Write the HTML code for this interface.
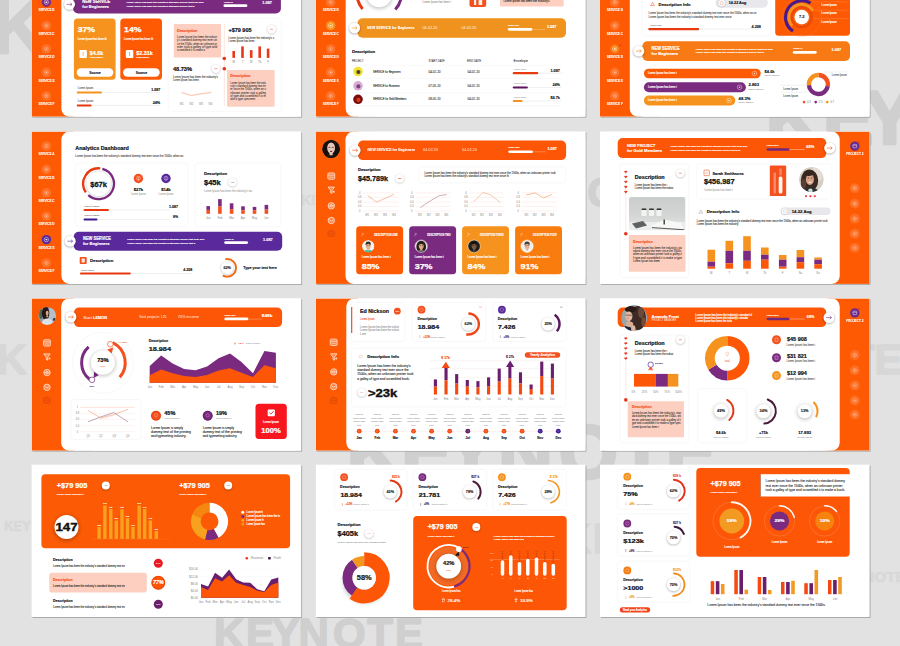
<!DOCTYPE html>
<html><head><meta charset="utf-8"><title>Dashboard slides</title>
<style>html,body{margin:0;padding:0;background:#e2e2e2;overflow:hidden}svg{display:block;font-family:"Liberation Sans",sans-serif}</style></head>
<body>
<svg width="900" height="646" viewBox="0 0 900 646">
<defs><filter id="bS" x="-50%" y="-50%" width="200%" height="200%"><feGaussianBlur stdDeviation="0.9"/></filter><filter id="bL" x="-50%" y="-50%" width="200%" height="200%"><feGaussianBlur stdDeviation="2"/></filter><filter id="bX" x="-50%" y="-50%" width="200%" height="200%"><feGaussianBlur stdDeviation="0.45"/></filter></defs>
<text x="-8.4" y="52.5" font-size="76.8" fill="#cfcfcf" font-weight="700" stroke="#cfcfcf" stroke-width="2.61" stroke-linejoin="round">K</text>
<text x="765.4" y="144" font-size="76.8" fill="#cfcfcf" font-weight="700" stroke="#cfcfcf" stroke-width="2.61" stroke-linejoin="round">K</text>
<text x="822.4" y="144" font-size="76.8" fill="#cfcfcf" font-weight="700" stroke="#cfcfcf" stroke-width="2.61" stroke-linejoin="round">E</text>
<text x="889.7" y="144" font-size="76.8" fill="#cfcfcf" text-anchor="middle" font-weight="700" stroke="#cfcfcf" stroke-width="2.61" stroke-linejoin="round">Y</text>
<text x="346.6" y="478" font-size="76.8" fill="#cfcfcf" font-weight="700" stroke="#cfcfcf" stroke-width="2.61" stroke-linejoin="round">K</text>
<text x="401.1" y="478" font-size="76.8" fill="#cfcfcf" font-weight="700" stroke="#cfcfcf" stroke-width="2.61" stroke-linejoin="round">E</text>
<text x="471" y="478" font-size="76.8" fill="#cfcfcf" text-anchor="middle" font-weight="700" stroke="#cfcfcf" stroke-width="2.61" stroke-linejoin="round">Y</text>
<text x="497.7" y="478" font-size="76.8" fill="#cfcfcf" font-weight="700" stroke="#cfcfcf" stroke-width="2.61" stroke-linejoin="round">N</text>
<text x="588.3" y="478" font-size="76.8" fill="#cfcfcf" text-anchor="middle" font-weight="700" stroke="#cfcfcf" stroke-width="2.61" stroke-linejoin="round">O</text>
<text x="641.6" y="478" font-size="76.8" fill="#cfcfcf" text-anchor="middle" font-weight="700" stroke="#cfcfcf" stroke-width="2.61" stroke-linejoin="round">T</text>
<text x="665.4" y="478" font-size="76.8" fill="#cfcfcf" font-weight="700" stroke="#cfcfcf" stroke-width="2.61" stroke-linejoin="round">E</text>
<text x="-3.6" y="374" font-size="42" fill="#d7d7d7" font-weight="700" stroke="#d7d7d7" stroke-width="1.43" stroke-linejoin="round">K</text>
<text x="849.2" y="374.1" font-size="42" fill="#d7d7d7" font-weight="700" stroke="#d7d7d7" stroke-width="1.43" stroke-linejoin="round">T</text>
<text x="874.5" y="374.1" font-size="42" fill="#d7d7d7" font-weight="700" stroke="#d7d7d7" stroke-width="1.43" stroke-linejoin="round">E</text>
<text x="587.3" y="206.5" font-size="42" fill="#d0d0d0" font-weight="700" stroke="#d0d0d0" stroke-width="1.43" stroke-linejoin="round">O</text>
<text x="214.1" y="648.3" font-size="42" fill="#cfcfcf" font-weight="700" stroke="#cfcfcf" stroke-width="1.43" stroke-linejoin="round">K</text>
<text x="245.9" y="648.3" font-size="42" fill="#cfcfcf" font-weight="700" stroke="#cfcfcf" stroke-width="1.43" stroke-linejoin="round">E</text>
<text x="285.7" y="648.3" font-size="42" fill="#cfcfcf" text-anchor="middle" font-weight="700" stroke="#cfcfcf" stroke-width="1.43" stroke-linejoin="round">Y</text>
<text x="298.5" y="648.3" font-size="42" fill="#cfcfcf" font-weight="700" stroke="#cfcfcf" stroke-width="1.43" stroke-linejoin="round">N</text>
<text x="349.3" y="648.3" font-size="42" fill="#cfcfcf" text-anchor="middle" font-weight="700" stroke="#cfcfcf" stroke-width="1.43" stroke-linejoin="round">O</text>
<text x="380" y="648.3" font-size="42" fill="#cfcfcf" text-anchor="middle" font-weight="700" stroke="#cfcfcf" stroke-width="1.43" stroke-linejoin="round">T</text>
<text x="395.1" y="648.3" font-size="42" fill="#cfcfcf" font-weight="700" stroke="#cfcfcf" stroke-width="1.43" stroke-linejoin="round">E</text>
<text x="561.1" y="552.9" font-size="42" fill="#d7d7d7" font-weight="700" stroke="#d7d7d7" stroke-width="1.43" stroke-linejoin="round">K</text>
<text x="592.9" y="552.9" font-size="42" fill="#d7d7d7" font-weight="700" stroke="#d7d7d7" stroke-width="1.43" stroke-linejoin="round">E</text>
<text x="4.3" y="531" font-size="15.2" fill="#d8d8d8" font-weight="700" stroke="#d8d8d8" stroke-width="0.53" textLength="26.5" lengthAdjust="spacingAndGlyphs">KEY</text>
<text x="301.2" y="204.5" font-size="15.2" fill="#d8d8d8" font-weight="700" stroke="#d8d8d8" stroke-width="0.53" textLength="28" lengthAdjust="spacingAndGlyphs">KEY</text>
<text x="863.5" y="582.1" font-size="15.2" fill="#d8d8d8" font-weight="700" stroke="#d8d8d8" stroke-width="0.53">NOTE</text>
<rect x="32.5" y="-34.7" width="269.6" height="152.3" fill="#8e8e8e" opacity="0.75" filter="url(#bX)"/>
<rect x="31.6" y="-35.6" width="269.6" height="152.3" fill="#fff"/>
<rect x="316.8" y="-34.7" width="269.6" height="152.3" fill="#8e8e8e" opacity="0.75" filter="url(#bX)"/>
<rect x="315.9" y="-35.6" width="269.6" height="152.3" fill="#fff"/>
<rect x="600.9" y="-34.7" width="269.6" height="152.3" fill="#8e8e8e" opacity="0.75" filter="url(#bX)"/>
<rect x="600" y="-35.6" width="269.6" height="152.3" fill="#fff"/>
<rect x="32.5" y="132.5" width="269.6" height="152.3" fill="#8e8e8e" opacity="0.75" filter="url(#bX)"/>
<rect x="31.6" y="131.6" width="269.6" height="152.3" fill="#fff"/>
<rect x="316.8" y="132.5" width="269.6" height="152.3" fill="#8e8e8e" opacity="0.75" filter="url(#bX)"/>
<rect x="315.9" y="131.6" width="269.6" height="152.3" fill="#fff"/>
<rect x="600.9" y="132.5" width="269.6" height="152.3" fill="#8e8e8e" opacity="0.75" filter="url(#bX)"/>
<rect x="600" y="131.6" width="269.6" height="152.3" fill="#fff"/>
<rect x="32.5" y="299.3" width="269.6" height="152.3" fill="#8e8e8e" opacity="0.75" filter="url(#bX)"/>
<rect x="31.6" y="298.4" width="269.6" height="152.3" fill="#fff"/>
<rect x="316.8" y="299.3" width="269.6" height="152.3" fill="#8e8e8e" opacity="0.75" filter="url(#bX)"/>
<rect x="315.9" y="298.4" width="269.6" height="152.3" fill="#fff"/>
<rect x="600.9" y="299.3" width="269.6" height="152.3" fill="#8e8e8e" opacity="0.75" filter="url(#bX)"/>
<rect x="600" y="298.4" width="269.6" height="152.3" fill="#fff"/>
<rect x="32.5" y="465.6" width="269.6" height="152.3" fill="#8e8e8e" opacity="0.75" filter="url(#bX)"/>
<rect x="31.6" y="464.7" width="269.6" height="152.3" fill="#fff"/>
<rect x="316.8" y="465.6" width="269.6" height="152.3" fill="#8e8e8e" opacity="0.75" filter="url(#bX)"/>
<rect x="315.9" y="464.7" width="269.6" height="152.3" fill="#fff"/>
<rect x="600.9" y="465.6" width="269.6" height="152.3" fill="#8e8e8e" opacity="0.75" filter="url(#bX)"/>
<rect x="600" y="464.7" width="269.6" height="152.3" fill="#fff"/>
<clipPath id="cc00"><rect x="31.6" y="-35.6" width="269.6" height="152.3"/></clipPath>
<g clip-path="url(#cc00)">
<rect x="31.6" y="-35.6" width="42" height="152.3" fill="#fe5a03"/>
<rect x="61.4" y="-35.6" width="239.8" height="152.3" fill="#fff" rx="8"/>
<rect x="91.6" y="-35.6" width="209.6" height="152.3" fill="#fff"/>
<circle cx="46.4" cy="2.2" r="4.7" fill="#7a2b80"/>
<circle cx="46.4" cy="2.2" r="2.2" fill="none" stroke="#fff" stroke-width="0.5" opacity="0.9"/>
<rect x="45.5" y="1.5" width="1.8" height="1.4" fill="#fff" rx="0.2" opacity="0.9"/>
<text x="46.4" y="11.3" font-size="3" fill="#fff" text-anchor="middle" font-weight="700" stroke="#fff" stroke-width="0.11" textLength="16" lengthAdjust="spacingAndGlyphs" opacity="0.95">SERVICE B</text>
<circle cx="46.4" cy="25.6" r="4.8" fill="#fff" opacity="0.14"/>
<circle cx="46.4" cy="25.6" r="1.81" fill="none" stroke="#fff" stroke-width="0.45" opacity="0.6"/>
<rect x="45.7" y="25" width="1.4" height="1.2" fill="#fff" rx="0.3" opacity="0.65"/>
<text x="46.4" y="34.7" font-size="3" fill="#fff" text-anchor="middle" font-weight="700" stroke="#fff" stroke-width="0.11" textLength="16" lengthAdjust="spacingAndGlyphs" opacity="0.95">SERVICE C</text>
<circle cx="46.4" cy="49" r="4.8" fill="#fff" opacity="0.14"/>
<circle cx="46.4" cy="49" r="1.81" fill="none" stroke="#fff" stroke-width="0.45" opacity="0.6"/>
<rect x="45.7" y="48.4" width="1.4" height="1.2" fill="#fff" rx="0.3" opacity="0.65"/>
<text x="46.4" y="58.1" font-size="3" fill="#fff" text-anchor="middle" font-weight="700" stroke="#fff" stroke-width="0.11" textLength="16" lengthAdjust="spacingAndGlyphs" opacity="0.95">SERVICE D</text>
<circle cx="46.4" cy="72.4" r="4.8" fill="#fff" opacity="0.14"/>
<circle cx="46.4" cy="72.4" r="1.81" fill="none" stroke="#fff" stroke-width="0.45" opacity="0.6"/>
<rect x="45.7" y="71.8" width="1.4" height="1.2" fill="#fff" rx="0.3" opacity="0.65"/>
<text x="46.4" y="81.5" font-size="3" fill="#fff" text-anchor="middle" font-weight="700" stroke="#fff" stroke-width="0.11" textLength="16" lengthAdjust="spacingAndGlyphs" opacity="0.95">SERVICE E</text>
<circle cx="46.4" cy="95.8" r="4.8" fill="#fff" opacity="0.14"/>
<circle cx="46.4" cy="95.8" r="1.81" fill="none" stroke="#fff" stroke-width="0.45" opacity="0.6"/>
<rect x="45.7" y="95.2" width="1.4" height="1.2" fill="#fff" rx="0.3" opacity="0.65"/>
<text x="46.4" y="104.9" font-size="3" fill="#fff" text-anchor="middle" font-weight="700" stroke="#fff" stroke-width="0.11" textLength="16" lengthAdjust="spacingAndGlyphs" opacity="0.95">SERVICE F</text>
<rect x="73.1" y="-4.7" width="207.8" height="18.1" fill="#7a2b80" rx="5"/>
<circle cx="69.5" cy="4.95" r="5.5" fill="#000" opacity="0.38" filter="url(#bS)"/>
<circle cx="69.5" cy="4.35" r="5.5" fill="#fff"/>
<path d="M66.6 4.35L71.8 4.35" stroke="#7a2b80" stroke-width="0.6" fill="none"/>
<polyline points="70.6,3.15 72,4.35 70.6,5.55" fill="none" stroke="#7a2b80" stroke-width="0.6" stroke-linejoin="round" stroke-linecap="round"/>
<text x="82.3" y="3.45" font-size="4.5" fill="#fff" font-weight="700" stroke="#fff" stroke-width="0.16" textLength="28" lengthAdjust="spacingAndGlyphs">NEW SERVICE</text>
<text x="82.3" y="8.35" font-size="4.2" fill="#fff" font-weight="700" stroke="#fff" stroke-width="0.15" textLength="26.5" lengthAdjust="spacingAndGlyphs">for Beginners</text>
<text x="126.5" y="3.25" font-size="2.5" fill="#fff" textLength="77" lengthAdjust="spacingAndGlyphs" stroke="#fff" stroke-width="0.13">Lorem Ipsum has been the industry's standard dummy text ever sinc</text>
<text x="126.5" y="6.75" font-size="2.5" fill="#fff" textLength="68" lengthAdjust="spacingAndGlyphs" stroke="#fff" stroke-width="0.13">Lorem Ipsum has been the industry's standard dummy text e</text>
<text x="223.9" y="2.75" font-size="2.3" fill="#fff" textLength="9" lengthAdjust="spacingAndGlyphs" stroke="#fff" stroke-width="0.13">Lorem Ip</text>
<path d="M224.8 5.65L246.1 5.65" stroke="#fff" stroke-width="2.6" fill="none" stroke-linecap="round"/>
<text x="262.3" y="4.25" font-size="3.4" fill="#fff" font-weight="700" stroke="#fff" stroke-width="0.12" textLength="9.7" lengthAdjust="spacingAndGlyphs">1.087</text>
<rect x="73.9" y="18.6" width="41.7" height="61.2" fill="#f6931e" rx="3.5"/>
<text x="77.7" y="31.9" font-size="7.2" fill="#fff" font-weight="700" stroke="#fff" stroke-width="0.25" textLength="17.4" lengthAdjust="spacingAndGlyphs">37%</text>
<text x="77.7" y="39.6" font-size="2.6" fill="#fff" textLength="29" lengthAdjust="spacingAndGlyphs" stroke="#fff" stroke-width="0.13">Lorem Ipsum has been th</text>
<rect x="79.4" y="50.1" width="7.5" height="7.8" fill="#fff" rx="1"/>
<path d="M83.15 52L83.15 56" stroke="#f6931e" stroke-width="0.6" fill="none"/>
<text x="89.8" y="55.3" font-size="4.6" fill="#fff" font-weight="700" stroke="#fff" stroke-width="0.16" textLength="13.4" lengthAdjust="spacingAndGlyphs">$4.6k</text>
<text x="89.8" y="57.9" font-size="2.1" fill="#fff" textLength="13" lengthAdjust="spacingAndGlyphs" stroke="#fff" stroke-width="0.13">Lorem Ipsum h</text>
<rect x="76.7" y="68.3" width="36.6" height="8.4" fill="#fff" rx="4.2"/>
<text x="95" y="73.69" font-size="3.3" fill="#111" text-anchor="middle" font-weight="700" stroke="#111" stroke-width="0.12" textLength="11.5" lengthAdjust="spacingAndGlyphs">Source</text>
<rect x="120.3" y="18.6" width="41.7" height="61.2" fill="#fe5a03" rx="3.5"/>
<text x="124.1" y="31.9" font-size="7.2" fill="#fff" font-weight="700" stroke="#fff" stroke-width="0.25" textLength="17.4" lengthAdjust="spacingAndGlyphs">14%</text>
<text x="124.1" y="39.6" font-size="2.6" fill="#fff" textLength="29" lengthAdjust="spacingAndGlyphs" stroke="#fff" stroke-width="0.13">Lorem Ipsum has been th</text>
<rect x="125.8" y="50.1" width="7.5" height="7.8" fill="#fff" rx="1"/>
<path d="M129.55 52L129.55 56" stroke="#fe5a03" stroke-width="0.6" fill="none"/>
<text x="136.2" y="55.3" font-size="4.6" fill="#fff" font-weight="700" stroke="#fff" stroke-width="0.16" textLength="16.5" lengthAdjust="spacingAndGlyphs">$2.31k</text>
<text x="136.2" y="57.9" font-size="2.1" fill="#fff" textLength="13" lengthAdjust="spacingAndGlyphs" stroke="#fff" stroke-width="0.13">Lorem Ipsum h</text>
<rect x="123.1" y="68.3" width="36.6" height="8.4" fill="#fff" rx="4.2"/>
<text x="141.4" y="73.69" font-size="3.3" fill="#111" text-anchor="middle" font-weight="700" stroke="#111" stroke-width="0.12" textLength="11.5" lengthAdjust="spacingAndGlyphs">Source</text>
<text x="77.7" y="89.4" font-size="2.6" fill="#5a5a5a" textLength="15.5" lengthAdjust="spacingAndGlyphs" stroke="#5a5a5a" stroke-width="0.07">Lorem Ipsum </text>
<path d="M77.7 92.4L160.2 92.4" stroke="#e4e4e4" stroke-width="0.6" fill="none"/>
<path d="M77.7 92.4L101 92.4" stroke="#f6931e" stroke-width="2" fill="none" stroke-linecap="round"/>
<text x="160.2" y="91" font-size="3.1" fill="#111" text-anchor="end" font-weight="700" stroke="#111" stroke-width="0.11" textLength="9" lengthAdjust="spacingAndGlyphs">1.087</text>
<text x="77.7" y="102.2" font-size="2.6" fill="#5a5a5a" textLength="15.5" lengthAdjust="spacingAndGlyphs" stroke="#5a5a5a" stroke-width="0.07">Lorem Ipsum </text>
<path d="M77.7 105.4L160.2 105.4" stroke="#e4e4e4" stroke-width="0.6" fill="none"/>
<path d="M77.7 105.4L90.6 105.4" stroke="#e8390e" stroke-width="2" fill="none" stroke-linecap="round"/>
<text x="160.2" y="103.6" font-size="3.1" fill="#111" text-anchor="end" font-weight="700" stroke="#111" stroke-width="0.11" textLength="7.5" lengthAdjust="spacingAndGlyphs">24%</text>
<rect x="168.2" y="18.6" width="113.2" height="92.8" fill="#fff" rx="3" stroke="#f3f3f3" stroke-width="0.6"/>
<rect x="173.8" y="24.1" width="47.3" height="33.4" fill="#fdcfc0" rx="1"/>
<text x="177.1" y="31.5" font-size="3.4" fill="#f4511e" font-weight="700" stroke="#f4511e" stroke-width="0.12" textLength="20.2" lengthAdjust="spacingAndGlyphs">Description</text>
<text x="177.1" y="38" font-size="2.6" fill="#333" textLength="40" lengthAdjust="spacingAndGlyphs" stroke="#333" stroke-width="0.04">Lorem Ipsum has been the industr</text>
<text x="177.1" y="41.27" font-size="2.6" fill="#333" textLength="40" lengthAdjust="spacingAndGlyphs" stroke="#333" stroke-width="0.04">y's standard dummy text ever sin</text>
<text x="177.1" y="44.54" font-size="2.6" fill="#333" textLength="40" lengthAdjust="spacingAndGlyphs" stroke="#333" stroke-width="0.04">ce the 1500s, when an unknown pr</text>
<text x="177.1" y="47.81" font-size="2.6" fill="#333" textLength="40" lengthAdjust="spacingAndGlyphs" stroke="#333" stroke-width="0.04">inter took a galley of type and</text>
<text x="177.1" y="51.08" font-size="2.6" fill="#333" textLength="28" lengthAdjust="spacingAndGlyphs" stroke="#333" stroke-width="0.04">scrambled it to make a</text>
<path d="M224.3 24L224.3 105.8" stroke="#f9c9b8" stroke-width="0.5" fill="none"/>
<circle cx="224.3" cy="58.5" r="1.8" fill="#e8321a"/>
<circle cx="224.3" cy="68.7" r="1.8" fill="#e8321a"/>
<text x="228.5" y="31.9" font-size="5.2" fill="#111" font-weight="700" stroke="#111" stroke-width="0.18" textLength="23" lengthAdjust="spacingAndGlyphs">+$79 905</text>
<circle cx="271.6" cy="29.8" r="4.2" fill="#000" opacity="0.25" filter="url(#bS)"/>
<circle cx="271.6" cy="29.3" r="4.2" fill="#fff"/>
<path d="M269.8 29.3L273 29.3" stroke="#f4511e" stroke-width="0.5" fill="none"/>
<text x="228.5" y="38.8" font-size="2.6" fill="#444" textLength="45.5" lengthAdjust="spacingAndGlyphs" stroke="#444" stroke-width="0.07">Lorem Ipsum has been the industry's s</text>
<text x="228.5" y="42.2" font-size="2.6" fill="#444" textLength="26" lengthAdjust="spacingAndGlyphs" stroke="#444" stroke-width="0.07">Lorem Ipsum has been </text>
<rect x="232.4" y="51" width="2.6" height="6.9" fill="#e8391a"/>
<text x="233.7" y="62.7" font-size="2.85" fill="#858585" text-anchor="middle">M</text>
<rect x="241.2" y="46.4" width="2.6" height="11.5" fill="#e8391a"/>
<text x="242.5" y="62.7" font-size="2.85" fill="#858585" text-anchor="middle">T</text>
<rect x="249.9" y="50.1" width="2.6" height="7.8" fill="#e8391a"/>
<text x="251.2" y="62.7" font-size="2.85" fill="#858585" text-anchor="middle">W</text>
<rect x="258.4" y="46.4" width="2.6" height="11.5" fill="#e8391a"/>
<text x="259.7" y="62.7" font-size="2.85" fill="#858585" text-anchor="middle">Th</text>
<rect x="266.8" y="48.6" width="2.6" height="9.3" fill="#e8391a"/>
<text x="268.1" y="62.7" font-size="2.85" fill="#858585" text-anchor="middle">F</text>
<text x="172.9" y="71.1" font-size="5.2" fill="#111" font-weight="700" stroke="#111" stroke-width="0.18" textLength="19.1" lengthAdjust="spacingAndGlyphs">48.73%</text>
<circle cx="215.9" cy="69.2" r="4.2" fill="#000" opacity="0.25" filter="url(#bS)"/>
<circle cx="215.9" cy="68.7" r="4.2" fill="#fff"/>
<path d="M214.2 68.7L217.4 68.7" stroke="#f4511e" stroke-width="0.5" fill="none"/>
<text x="172.9" y="77.8" font-size="2.6" fill="#444" textLength="45" lengthAdjust="spacingAndGlyphs" stroke="#444" stroke-width="0.07">Lorem Ipsum has been the industry's </text>
<text x="172.9" y="81.2" font-size="2.6" fill="#444" textLength="26" lengthAdjust="spacingAndGlyphs" stroke="#444" stroke-width="0.07">Lorem Ipsum has been </text>
<polyline points="181.8,93.3 191.4,95.2 201,94 210.9,92.9" fill="none" stroke="#fbd5c8" stroke-width="0.6" stroke-linejoin="round" stroke-linecap="round"/>
<polyline points="181.8,92.3 191.4,95.6 201,93.8 210.9,92.3" fill="none" stroke="#f9a98c" stroke-width="0.6" stroke-linejoin="round" stroke-linecap="round"/>
<text x="181.8" y="105.3" font-size="2.65" fill="#858585" text-anchor="middle">W1</text>
<text x="191.4" y="105.3" font-size="2.65" fill="#858585" text-anchor="middle">W2</text>
<text x="201" y="105.3" font-size="2.65" fill="#858585" text-anchor="middle">W3</text>
<text x="210.5" y="105.3" font-size="2.65" fill="#858585" text-anchor="middle">W4</text>
<rect x="227" y="70" width="47.6" height="36.7" fill="#fdcfc0" rx="1"/>
<text x="230.3" y="77.4" font-size="3.4" fill="#f4511e" font-weight="700" stroke="#f4511e" stroke-width="0.12" textLength="20.2" lengthAdjust="spacingAndGlyphs">Description</text>
<text x="230.3" y="83.9" font-size="2.6" fill="#333" textLength="35.6" lengthAdjust="spacingAndGlyphs" stroke="#333" stroke-width="0.04">Lorem Ipsum has been the indu</text>
<text x="230.3" y="87.17" font-size="2.6" fill="#333" textLength="35.6" lengthAdjust="spacingAndGlyphs" stroke="#333" stroke-width="0.04">stry's standard dummy text ev</text>
<text x="230.3" y="90.44" font-size="2.6" fill="#333" textLength="35.6" lengthAdjust="spacingAndGlyphs" stroke="#333" stroke-width="0.04">er since the 1500s, when an u</text>
<text x="230.3" y="93.71" font-size="2.6" fill="#333" textLength="35.6" lengthAdjust="spacingAndGlyphs" stroke="#333" stroke-width="0.04">nknown printer took a galley</text>
<text x="230.3" y="96.98" font-size="2.6" fill="#333" textLength="35.6" lengthAdjust="spacingAndGlyphs" stroke="#333" stroke-width="0.04">of type and scrambled it to m</text>
<text x="230.3" y="100.25" font-size="2.6" fill="#333" textLength="24.92" lengthAdjust="spacingAndGlyphs" stroke="#333" stroke-width="0.04">ake a type specimen</text>
</g>
<clipPath id="cc01"><rect x="315.9" y="-35.6" width="269.6" height="152.3"/></clipPath>
<g clip-path="url(#cc01)">
<rect x="315.9" y="-35.6" width="42" height="152.3" fill="#fe5a03"/>
<rect x="345.7" y="-35.6" width="239.8" height="152.3" fill="#fff" rx="8"/>
<rect x="375.9" y="-35.6" width="209.6" height="152.3" fill="#fff"/>
<circle cx="330.7" cy="2.2" r="4.8" fill="#fff" opacity="0.14"/>
<circle cx="330.7" cy="2.2" r="1.81" fill="none" stroke="#fff" stroke-width="0.45" opacity="0.6"/>
<rect x="330" y="1.6" width="1.4" height="1.2" fill="#fff" rx="0.3" opacity="0.65"/>
<text x="330.7" y="11.3" font-size="3" fill="#fff" text-anchor="middle" font-weight="700" stroke="#fff" stroke-width="0.11" textLength="16" lengthAdjust="spacingAndGlyphs" opacity="0.95">SERVICE B</text>
<circle cx="330.7" cy="25.6" r="4.7" fill="#f6931e"/>
<circle cx="330.7" cy="25.6" r="2.2" fill="none" stroke="#fff" stroke-width="0.5" opacity="0.9"/>
<rect x="329.8" y="24.9" width="1.8" height="1.4" fill="#fff" rx="0.2" opacity="0.9"/>
<text x="330.7" y="34.7" font-size="3" fill="#fff" text-anchor="middle" font-weight="700" stroke="#fff" stroke-width="0.11" textLength="16" lengthAdjust="spacingAndGlyphs" opacity="0.95">SERVICE C</text>
<circle cx="330.7" cy="49" r="4.8" fill="#fff" opacity="0.14"/>
<circle cx="330.7" cy="49" r="1.81" fill="none" stroke="#fff" stroke-width="0.45" opacity="0.6"/>
<rect x="330" y="48.4" width="1.4" height="1.2" fill="#fff" rx="0.3" opacity="0.65"/>
<text x="330.7" y="58.1" font-size="3" fill="#fff" text-anchor="middle" font-weight="700" stroke="#fff" stroke-width="0.11" textLength="16" lengthAdjust="spacingAndGlyphs" opacity="0.95">SERVICE D</text>
<circle cx="330.7" cy="72.4" r="4.8" fill="#fff" opacity="0.14"/>
<circle cx="330.7" cy="72.4" r="1.81" fill="none" stroke="#fff" stroke-width="0.45" opacity="0.6"/>
<rect x="330" y="71.8" width="1.4" height="1.2" fill="#fff" rx="0.3" opacity="0.65"/>
<text x="330.7" y="81.5" font-size="3" fill="#fff" text-anchor="middle" font-weight="700" stroke="#fff" stroke-width="0.11" textLength="16" lengthAdjust="spacingAndGlyphs" opacity="0.95">SERVICE E</text>
<circle cx="330.7" cy="95.8" r="4.8" fill="#fff" opacity="0.14"/>
<circle cx="330.7" cy="95.8" r="1.81" fill="none" stroke="#fff" stroke-width="0.45" opacity="0.6"/>
<rect x="330" y="95.2" width="1.4" height="1.2" fill="#fff" rx="0.3" opacity="0.65"/>
<text x="330.7" y="104.9" font-size="3" fill="#fff" text-anchor="middle" font-weight="700" stroke="#fff" stroke-width="0.11" textLength="16" lengthAdjust="spacingAndGlyphs" opacity="0.95">SERVICE F</text>
<path d="M362.6 8.93A22 22 0 0 1 357.28 -7.42" fill="none" stroke="#e8390e" stroke-width="3" stroke-linecap="butt"/>
<path d="M401.12 -7.42A22 22 0 0 1 395.29 9.5" fill="none" stroke="#7a2b80" stroke-width="3" stroke-linecap="butt"/>
<circle cx="379.2" cy="-4.5" r="12.8" fill="#000" opacity="0.3" filter="url(#bL)"/>
<circle cx="379.2" cy="-5.5" r="12.8" fill="#fff"/>
<text x="422.5" y="2.6" font-size="2.7" fill="#999" textLength="28.5" lengthAdjust="spacingAndGlyphs" stroke="#999" stroke-width="0.07">Lorem Ipsum has been t</text>
<rect x="469.5" y="-10" width="16.7" height="17" fill="#f4511e" rx="2"/>
<rect x="474" y="-6" width="2.2" height="11" fill="#fff" opacity="0.9"/>
<rect x="478.6" y="-6" width="3.6" height="11" fill="#fff" opacity="0.9"/>
<rect x="499.9" y="-12" width="63.7" height="18.5" fill="#fdcfc0" rx="1"/>
<text x="503.5" y="1.6" font-size="2.7" fill="#222" textLength="46" lengthAdjust="spacingAndGlyphs" stroke="#222" stroke-width="0.07">Lorem Ipsum has been the industry's </text>
<rect x="357.5" y="18.2" width="208.5" height="19.5" fill="#f0921e" rx="5"/>
<circle cx="354.6" cy="28.55" r="5.5" fill="#000" opacity="0.38" filter="url(#bS)"/>
<circle cx="354.6" cy="27.95" r="5.5" fill="#fff"/>
<path d="M351.7 27.95L356.9 27.95" stroke="#f6931e" stroke-width="0.6" fill="none"/>
<polyline points="355.7,26.75 357.1,27.95 355.7,29.15" fill="none" stroke="#f6931e" stroke-width="0.6" stroke-linejoin="round" stroke-linecap="round"/>
<text x="367.1" y="28.95" font-size="3.5" fill="#fff" font-weight="700" stroke="#fff" stroke-width="0.12" textLength="47.4" lengthAdjust="spacingAndGlyphs" opacity="0.95">NEW SERVICE for Beginners</text>
<text x="422.5" y="28.95" font-size="3.1" fill="#fff" textLength="14.8" lengthAdjust="spacingAndGlyphs" opacity="0.9">04.02.20</text>
<text x="461.5" y="28.95" font-size="3.1" fill="#fff" textLength="14.8" lengthAdjust="spacingAndGlyphs" opacity="0.9">04.02.20</text>
<text x="507.9" y="26.05" font-size="2.3" fill="#fff" textLength="11" lengthAdjust="spacingAndGlyphs" stroke="#fff" stroke-width="0.13">Lorem Ipsu</text>
<path d="M507.9 29.45L545.5 29.45" stroke="#fff" stroke-width="0.5" fill="none" opacity="0.5"/>
<path d="M509.2 29.35L531.1 29.35" stroke="#fff" stroke-width="2.6" fill="none" stroke-linecap="round"/>
<text x="546.9" y="27.75" font-size="3.4" fill="#fff" font-weight="700" stroke="#fff" stroke-width="0.12" textLength="9.5" lengthAdjust="spacingAndGlyphs">1.087</text>
<text x="351.9" y="52.9" font-size="4.2" fill="#111" font-weight="700" stroke="#111" stroke-width="0.15" textLength="23.2" lengthAdjust="spacingAndGlyphs">Description</text>
<text x="351.9" y="62.4" font-size="2.6" fill="#444" textLength="11.5" lengthAdjust="spacingAndGlyphs" stroke="#444" stroke-width="0.06">PROJECT</text>
<text x="428.6" y="62.4" font-size="2.6" fill="#444" textLength="16" lengthAdjust="spacingAndGlyphs" stroke="#444" stroke-width="0.06">START DATE</text>
<text x="467" y="62.4" font-size="2.6" fill="#444" textLength="14" lengthAdjust="spacingAndGlyphs" stroke="#444" stroke-width="0.06">END DATE</text>
<text x="513.5" y="62.4" font-size="2.7" fill="#444" textLength="14.3" lengthAdjust="spacingAndGlyphs" stroke="#444" stroke-width="0.06">Envelope</text>
<path d="M351.9 65.3L562 65.3" stroke="#f0f0f0" stroke-width="0.5" fill="none"/>
<path d="M351.9 78.3L562 78.3" stroke="#f0f0f0" stroke-width="0.5" fill="none"/>
<path d="M351.9 92.8L562 92.8" stroke="#f0f0f0" stroke-width="0.5" fill="none"/>
<path d="M351.9 105.8L562 105.8" stroke="#f0f0f0" stroke-width="0.5" fill="none"/>
<circle cx="358" cy="71.5" r="4.8" fill="#f3e235"/>
<circle cx="358.4" cy="72.1" r="2.1" fill="#2b2b2b" opacity="0.85"/>
<text x="372.9" y="72.5" font-size="2.9" fill="#222" textLength="27.8" lengthAdjust="spacingAndGlyphs" stroke="#222" stroke-width="0.08">SERVICE for Beginners</text>
<text x="428.6" y="72.5" font-size="2.9" fill="#333" textLength="12" lengthAdjust="spacingAndGlyphs" stroke="#333" stroke-width="0.06">04.02.20</text>
<text x="467.6" y="72.5" font-size="2.9" fill="#333" textLength="12" lengthAdjust="spacingAndGlyphs" stroke="#333" stroke-width="0.06">04.02.20</text>
<text x="513.8" y="69.8" font-size="2.3" fill="#aaa" textLength="12.5" lengthAdjust="spacingAndGlyphs" stroke="#aaa" stroke-width="0.07">Lorem Ipsum</text>
<path d="M513.8 73.2L561.7 73.2" stroke="#e4e4e4" stroke-width="0.6" fill="none"/>
<path d="M513.8 73.2L537.2 73.2" stroke="#e8390e" stroke-width="2.2" fill="none" stroke-linecap="round"/>
<text x="559.9" y="71.6" font-size="3.1" fill="#111" text-anchor="end" font-weight="700" stroke="#111" stroke-width="0.11" textLength="9.5" lengthAdjust="spacingAndGlyphs">1.087</text>
<circle cx="358" cy="85.8" r="4.8" fill="#dcabd6"/>
<circle cx="358.4" cy="86.4" r="2.1" fill="#5a3a6a" opacity="0.85"/>
<text x="372.9" y="86.8" font-size="2.9" fill="#222" textLength="26.7" lengthAdjust="spacingAndGlyphs" stroke="#222" stroke-width="0.08">SERVICE for Business</text>
<text x="428.6" y="86.8" font-size="2.9" fill="#333" textLength="12" lengthAdjust="spacingAndGlyphs" stroke="#333" stroke-width="0.06">07.05.20</text>
<text x="467.6" y="86.8" font-size="2.9" fill="#333" textLength="12" lengthAdjust="spacingAndGlyphs" stroke="#333" stroke-width="0.06">04.02.20</text>
<text x="513.8" y="84.1" font-size="2.3" fill="#aaa" textLength="12.5" lengthAdjust="spacingAndGlyphs" stroke="#aaa" stroke-width="0.07">Lorem Ipsum</text>
<path d="M513.8 87.5L561.7 87.5" stroke="#e4e4e4" stroke-width="0.6" fill="none"/>
<path d="M513.8 87.5L526.8 87.5" stroke="#5e1161" stroke-width="2.2" fill="none" stroke-linecap="round"/>
<text x="559.9" y="85.9" font-size="3.1" fill="#111" text-anchor="end" font-weight="700" stroke="#111" stroke-width="0.11" textLength="7.5" lengthAdjust="spacingAndGlyphs">24%</text>
<circle cx="358" cy="99.3" r="4.8" fill="#7a0d0d"/>
<circle cx="358.4" cy="99.9" r="2.1" fill="#e8421c" opacity="0.85"/>
<text x="372.9" y="100.3" font-size="2.9" fill="#222" textLength="33.4" lengthAdjust="spacingAndGlyphs" stroke="#222" stroke-width="0.08">SERVICE for Gold Members</text>
<text x="428.6" y="100.3" font-size="2.9" fill="#333" textLength="12" lengthAdjust="spacingAndGlyphs" stroke="#333" stroke-width="0.06">08.05.20</text>
<text x="467.6" y="100.3" font-size="2.9" fill="#333" textLength="12" lengthAdjust="spacingAndGlyphs" stroke="#333" stroke-width="0.06">04.02.20</text>
<text x="513.8" y="97.6" font-size="2.3" fill="#aaa" textLength="12.5" lengthAdjust="spacingAndGlyphs" stroke="#aaa" stroke-width="0.07">Lorem Ipsum</text>
<path d="M513.8 101L561.7 101" stroke="#e4e4e4" stroke-width="0.6" fill="none"/>
<path d="M513.8 101L521.5 101" stroke="#f6931e" stroke-width="2.2" fill="none" stroke-linecap="round"/>
<text x="559.9" y="99.4" font-size="3.1" fill="#111" text-anchor="end" font-weight="700" stroke="#111" stroke-width="0.11" textLength="9.5" lengthAdjust="spacingAndGlyphs">$4.7k</text>
</g>
<clipPath id="cc02"><rect x="600" y="-35.6" width="269.6" height="152.3"/></clipPath>
<g clip-path="url(#cc02)">
<rect x="600" y="-35.6" width="42" height="152.3" fill="#fe5a03"/>
<rect x="629.8" y="-35.6" width="239.8" height="152.3" fill="#fff" rx="8"/>
<rect x="660" y="-35.6" width="209.6" height="152.3" fill="#fff"/>
<circle cx="614.8" cy="2.2" r="4.8" fill="#fff" opacity="0.14"/>
<circle cx="614.8" cy="2.2" r="1.81" fill="none" stroke="#fff" stroke-width="0.45" opacity="0.6"/>
<rect x="614.1" y="1.6" width="1.4" height="1.2" fill="#fff" rx="0.3" opacity="0.65"/>
<text x="614.8" y="11.3" font-size="3" fill="#fff" text-anchor="middle" font-weight="700" stroke="#fff" stroke-width="0.11" textLength="16" lengthAdjust="spacingAndGlyphs" opacity="0.95">SERVICE B</text>
<circle cx="614.8" cy="25.6" r="4.8" fill="#fff" opacity="0.14"/>
<circle cx="614.8" cy="25.6" r="1.81" fill="none" stroke="#fff" stroke-width="0.45" opacity="0.6"/>
<rect x="614.1" y="25" width="1.4" height="1.2" fill="#fff" rx="0.3" opacity="0.65"/>
<text x="614.8" y="34.7" font-size="3" fill="#fff" text-anchor="middle" font-weight="700" stroke="#fff" stroke-width="0.11" textLength="16" lengthAdjust="spacingAndGlyphs" opacity="0.95">SERVICE C</text>
<circle cx="614.8" cy="49" r="4.7" fill="#f57c10"/>
<circle cx="614.8" cy="49" r="2.2" fill="none" stroke="#fff" stroke-width="0.5" opacity="0.9"/>
<rect x="613.9" y="48.3" width="1.8" height="1.4" fill="#fff" rx="0.2" opacity="0.9"/>
<text x="614.8" y="58.1" font-size="3" fill="#fff" text-anchor="middle" font-weight="700" stroke="#fff" stroke-width="0.11" textLength="16" lengthAdjust="spacingAndGlyphs" opacity="0.95">SERVICE D</text>
<circle cx="614.8" cy="72.4" r="4.8" fill="#fff" opacity="0.14"/>
<circle cx="614.8" cy="72.4" r="1.81" fill="none" stroke="#fff" stroke-width="0.45" opacity="0.6"/>
<rect x="614.1" y="71.8" width="1.4" height="1.2" fill="#fff" rx="0.3" opacity="0.65"/>
<text x="614.8" y="81.5" font-size="3" fill="#fff" text-anchor="middle" font-weight="700" stroke="#fff" stroke-width="0.11" textLength="16" lengthAdjust="spacingAndGlyphs" opacity="0.95">SERVICE E</text>
<circle cx="614.8" cy="95.8" r="4.8" fill="#fff" opacity="0.14"/>
<circle cx="614.8" cy="95.8" r="1.81" fill="none" stroke="#fff" stroke-width="0.45" opacity="0.6"/>
<rect x="614.1" y="95.2" width="1.4" height="1.2" fill="#fff" rx="0.3" opacity="0.65"/>
<text x="614.8" y="104.9" font-size="3" fill="#fff" text-anchor="middle" font-weight="700" stroke="#fff" stroke-width="0.11" textLength="16" lengthAdjust="spacingAndGlyphs" opacity="0.95">SERVICE F</text>
<circle cx="620.3" cy="45.3" r="0.9" fill="#e8321a"/>
<rect x="642" y="-20" width="128.5" height="55.8" fill="#fff" rx="3" stroke="#f3f3f3" stroke-width="0.6"/>
<polyline points="650.8,5.6 652.6,2.4 654.4,5.6 650.8,5.6" fill="none" stroke="#f4511e" stroke-width="0.5" stroke-linejoin="round" stroke-linecap="round"/>
<text x="658.6" y="5.5" font-size="4.1" fill="#111" font-weight="700" stroke="#111" stroke-width="0.14" textLength="32.1" lengthAdjust="spacingAndGlyphs">Description Info</text>
<rect x="715.5" y="-2.5" width="52.3" height="10.3" fill="#e7e7ec" rx="5.1"/>
<circle cx="721.7" cy="3.4" r="3.3" fill="#000" opacity="0.2" filter="url(#bS)"/>
<circle cx="721.7" cy="3.1" r="3.3" fill="#fff"/>
<circle cx="721.7" cy="3.1" r="1.7" fill="none" stroke="#e8806a" stroke-width="0.4"/>
<text x="728.7" y="4.4" font-size="3.4" fill="#111" font-weight="700" stroke="#111" stroke-width="0.12" textLength="17.7" lengthAdjust="spacingAndGlyphs">14-22 Aug</text>
<text x="648.5" y="14.2" font-size="2.6" fill="#444" textLength="108" lengthAdjust="spacingAndGlyphs" stroke="#444" stroke-width="0.07">Lorem Ipsum has been the industry's standard dummy text ever since the 1500s, when an un</text>
<text x="648.5" y="17.5" font-size="2.6" fill="#444" textLength="83" lengthAdjust="spacingAndGlyphs" stroke="#444" stroke-width="0.07">Lorem Ipsum has been the industry's standard dummy text ever since </text>
<text x="650.5" y="26" font-size="2.3" fill="#888" textLength="11" lengthAdjust="spacingAndGlyphs" stroke="#888" stroke-width="0.07">Lorem Ipsu</text>
<path d="M649.3 29.1L761 29.1" stroke="#e4e4e4" stroke-width="0.6" fill="none"/>
<path d="M649.3 29.1L698.1 29.1" stroke="#e8390e" stroke-width="2.2" fill="none" stroke-linecap="round"/>
<text x="760.9" y="27.6" font-size="3.1" fill="#111" text-anchor="end" font-weight="700" stroke="#111" stroke-width="0.11" textLength="9.3" lengthAdjust="spacingAndGlyphs">4.208</text>
<rect x="775.2" y="-20" width="74.8" height="55.8" fill="#fe5a03" rx="3.5"/>
<circle cx="801.7" cy="17.1" r="19.5" fill="none" stroke="#ff8a4a" stroke-width="0.5" opacity="0.5"/>
<circle cx="801.7" cy="17.1" r="10" fill="none" stroke="#e84a0a" stroke-width="2.2"/>
<path d="M792.96 31.09A16.5 16.5 0 0 1 810.44 3.11" fill="none" stroke="#4a1a8c" stroke-width="3.2" stroke-linecap="butt"/>
<path d="M792.19 25.66A12.8 12.8 0 1 1 812.79 10.7" fill="none" stroke="#f6931e" stroke-width="2.9" stroke-linecap="butt"/>
<circle cx="801.7" cy="17.1" r="7.3" fill="#fff"/>
<text x="801.7" y="18.32" font-size="3.4" fill="#222" text-anchor="middle" font-weight="700" stroke="#222" stroke-width="0.12" textLength="5.5" lengthAdjust="spacingAndGlyphs">7.2</text>
<path d="M813 1.9L849 1.9" stroke="#ffb58c" stroke-width="0.4" fill="none" opacity="0.6"/>
<text x="821.6" y="5.9" font-size="2.6" fill="#fff" textLength="15" lengthAdjust="spacingAndGlyphs" stroke="#fff" stroke-width="0.13">Lorem Ipsum </text>
<path d="M813 10.2L849 10.2" stroke="#ffb58c" stroke-width="0.4" fill="none" opacity="0.6"/>
<text x="821.6" y="14.2" font-size="2.6" fill="#fff" textLength="15" lengthAdjust="spacingAndGlyphs" stroke="#fff" stroke-width="0.13">Lorem Ipsum </text>
<path d="M813 18.6L849 18.6" stroke="#ffb58c" stroke-width="0.4" fill="none" opacity="0.6"/>
<text x="821.6" y="22.6" font-size="2.6" fill="#fff" textLength="15" lengthAdjust="spacingAndGlyphs" stroke="#fff" stroke-width="0.13">Lorem Ipsum </text>
<rect x="642.4" y="41.2" width="207.6" height="19.7" fill="#f87a14" rx="5"/>
<circle cx="638.8" cy="51.65" r="5.5" fill="#000" opacity="0.38" filter="url(#bS)"/>
<circle cx="638.8" cy="51.05" r="5.5" fill="#fff"/>
<path d="M635.9 51.05L641.1 51.05" stroke="#f87a14" stroke-width="0.6" fill="none"/>
<polyline points="639.9,49.85 641.3,51.05 639.9,52.25" fill="none" stroke="#f87a14" stroke-width="0.6" stroke-linejoin="round" stroke-linecap="round"/>
<text x="651.6" y="50.15" font-size="4.5" fill="#fff" font-weight="700" stroke="#fff" stroke-width="0.16" textLength="28" lengthAdjust="spacingAndGlyphs">NEW SERVICE</text>
<text x="651.6" y="55.05" font-size="4.2" fill="#fff" font-weight="700" stroke="#fff" stroke-width="0.15" textLength="26.5" lengthAdjust="spacingAndGlyphs">for Beginners</text>
<text x="695.8" y="49.95" font-size="2.5" fill="#fff" textLength="77" lengthAdjust="spacingAndGlyphs" stroke="#fff" stroke-width="0.13">Lorem Ipsum has been the industry's standard dummy text ever sinc</text>
<text x="695.8" y="53.45" font-size="2.5" fill="#fff" textLength="68" lengthAdjust="spacingAndGlyphs" stroke="#fff" stroke-width="0.13">Lorem Ipsum has been the industry's standard dummy text e</text>
<text x="793.2" y="49.45" font-size="2.3" fill="#fff" textLength="9" lengthAdjust="spacingAndGlyphs" stroke="#fff" stroke-width="0.13">Lorem Ip</text>
<path d="M794.1 52.35L815.4 52.35" stroke="#fff" stroke-width="2.6" fill="none" stroke-linecap="round"/>
<text x="831.6" y="50.95" font-size="3.4" fill="#fff" font-weight="700" stroke="#fff" stroke-width="0.12" textLength="9.7" lengthAdjust="spacingAndGlyphs">1.087</text>
<rect x="643.9" y="68.7" width="116.8" height="9.6" fill="#fe5a03" rx="4.8"/>
<text x="648" y="74.4" font-size="2.7" fill="#fff" textLength="28.7" lengthAdjust="spacingAndGlyphs" stroke="#fff" stroke-width="0.13">Lorem Ipsum has been t</text>
<circle cx="754.4" cy="73.5" r="2.3" fill="none" stroke="#fff" stroke-width="0.5" opacity="0.8"/>
<circle cx="754.4" cy="73.5" r="0.8" fill="#fff" opacity="0.8"/>
<text x="764.6" y="72.7" font-size="3.5" fill="#111" font-weight="700" stroke="#111" stroke-width="0.12" textLength="10" lengthAdjust="spacingAndGlyphs">$4.6k</text>
<text x="764.6" y="76.1" font-size="2.4" fill="#999" textLength="15" lengthAdjust="spacingAndGlyphs" stroke="#999" stroke-width="0.07">Lorem Ipsum h</text>
<rect x="643.9" y="82.2" width="102" height="10.1" fill="#7a2b80" rx="5.05"/>
<text x="648" y="88.15" font-size="2.7" fill="#fff" textLength="28.7" lengthAdjust="spacingAndGlyphs" stroke="#fff" stroke-width="0.13">Lorem Ipsum has been t</text>
<circle cx="739.6" cy="87.25" r="2.3" fill="none" stroke="#fff" stroke-width="0.5" opacity="0.8"/>
<circle cx="739.6" cy="87.25" r="0.8" fill="#fff" opacity="0.8"/>
<text x="748.6" y="86.45" font-size="3.5" fill="#111" font-weight="700" stroke="#111" stroke-width="0.12" textLength="10.4" lengthAdjust="spacingAndGlyphs">2.803</text>
<text x="748.6" y="89.85" font-size="2.4" fill="#999" textLength="15" lengthAdjust="spacingAndGlyphs" stroke="#999" stroke-width="0.07">Lorem Ipsum h</text>
<rect x="643.9" y="95.6" width="91.4" height="9.8" fill="#f6931e" rx="4.9"/>
<text x="648" y="101.4" font-size="2.7" fill="#fff" textLength="28.7" lengthAdjust="spacingAndGlyphs" stroke="#fff" stroke-width="0.13">Lorem Ipsum has been t</text>
<circle cx="729" cy="100.5" r="2.3" fill="none" stroke="#fff" stroke-width="0.5" opacity="0.8"/>
<circle cx="729" cy="100.5" r="0.8" fill="#fff" opacity="0.8"/>
<text x="738.6" y="99.7" font-size="3.5" fill="#111" font-weight="700" stroke="#111" stroke-width="0.12" textLength="11.9" lengthAdjust="spacingAndGlyphs">48.3%</text>
<text x="738.6" y="103.1" font-size="2.4" fill="#999" textLength="15" lengthAdjust="spacingAndGlyphs" stroke="#999" stroke-width="0.07">Lorem Ipsum h</text>
<path d="M818.4 75A9.5 9.5 0 0 1 827.76 86.15" fill="none" stroke="#f4511e" stroke-width="4.4" stroke-linecap="butt"/>
<path d="M827.76 86.15A9.5 9.5 0 0 1 808.92 85.16" fill="none" stroke="#7a2b80" stroke-width="4.4" stroke-linecap="butt"/>
<path d="M808.92 85.16A9.5 9.5 0 0 1 818.4 75" fill="none" stroke="#f6931e" stroke-width="4.4" stroke-linecap="butt"/>
<path d="M824.4 72L849.4 72" stroke="#ddd" stroke-width="0.4" fill="none"/>
<text x="831.8" y="76.4" font-size="2.6" fill="#555" textLength="15" lengthAdjust="spacingAndGlyphs" stroke="#555" stroke-width="0.07">Lorem Ipsum </text>
<path d="M780.8 85.4L807.5 85.4" stroke="#ddd" stroke-width="0.4" fill="none"/>
<text x="783.2" y="89.8" font-size="2.6" fill="#555" textLength="15" lengthAdjust="spacingAndGlyphs" stroke="#555" stroke-width="0.07">Lorem Ipsum </text>
<path d="M780.8 92.3L808.5 92.3" stroke="#ddd" stroke-width="0.4" fill="none"/>
<text x="783.2" y="96.9" font-size="2.6" fill="#555" textLength="15" lengthAdjust="spacingAndGlyphs" stroke="#555" stroke-width="0.07">Lorem Ipsum </text>
<circle cx="804" cy="102.1" r="1.3" fill="#f4511e"/>
<text x="807" y="103" font-size="2.85" fill="#858585">4.3</text>
<circle cx="815.7" cy="102.1" r="1.3" fill="#7a2b80"/>
<text x="818.7" y="103" font-size="2.85" fill="#858585">2.5</text>
<circle cx="827.2" cy="102.1" r="1.3" fill="#f6931e"/>
<text x="830.2" y="103" font-size="2.85" fill="#858585">4.7</text>
</g>
<clipPath id="cc10"><rect x="31.6" y="131.6" width="269.6" height="152.3"/></clipPath>
<g clip-path="url(#cc10)">
<rect x="31.6" y="131.6" width="42" height="152.3" fill="#fe5a03"/>
<rect x="61.4" y="131.6" width="239.8" height="152.3" fill="#fff" rx="8"/>
<rect x="91.6" y="131.6" width="209.6" height="152.3" fill="#fff"/>
<circle cx="46.4" cy="146" r="4.8" fill="#fff" opacity="0.14"/>
<circle cx="46.4" cy="146" r="1.81" fill="none" stroke="#fff" stroke-width="0.45" opacity="0.6"/>
<rect x="45.7" y="145.4" width="1.4" height="1.2" fill="#fff" rx="0.3" opacity="0.65"/>
<text x="46.4" y="155.1" font-size="3" fill="#fff" text-anchor="middle" font-weight="700" stroke="#fff" stroke-width="0.11" textLength="16" lengthAdjust="spacingAndGlyphs" opacity="0.95">SERVICE A</text>
<circle cx="46.4" cy="169.4" r="4.8" fill="#fff" opacity="0.14"/>
<circle cx="46.4" cy="169.4" r="1.81" fill="none" stroke="#fff" stroke-width="0.45" opacity="0.6"/>
<rect x="45.7" y="168.8" width="1.4" height="1.2" fill="#fff" rx="0.3" opacity="0.65"/>
<text x="46.4" y="178.5" font-size="3" fill="#fff" text-anchor="middle" font-weight="700" stroke="#fff" stroke-width="0.11" textLength="16" lengthAdjust="spacingAndGlyphs" opacity="0.95">SERVICE B</text>
<circle cx="46.4" cy="192.8" r="4.8" fill="#fff" opacity="0.14"/>
<circle cx="46.4" cy="192.8" r="1.81" fill="none" stroke="#fff" stroke-width="0.45" opacity="0.6"/>
<rect x="45.7" y="192.2" width="1.4" height="1.2" fill="#fff" rx="0.3" opacity="0.65"/>
<text x="46.4" y="201.9" font-size="3" fill="#fff" text-anchor="middle" font-weight="700" stroke="#fff" stroke-width="0.11" textLength="16" lengthAdjust="spacingAndGlyphs" opacity="0.95">SERVICE C</text>
<circle cx="46.4" cy="216.2" r="4.8" fill="#fff" opacity="0.14"/>
<circle cx="46.4" cy="216.2" r="1.81" fill="none" stroke="#fff" stroke-width="0.45" opacity="0.6"/>
<rect x="45.7" y="215.6" width="1.4" height="1.2" fill="#fff" rx="0.3" opacity="0.65"/>
<text x="46.4" y="225.3" font-size="3" fill="#fff" text-anchor="middle" font-weight="700" stroke="#fff" stroke-width="0.11" textLength="16" lengthAdjust="spacingAndGlyphs" opacity="0.95">SERVICE D</text>
<circle cx="46.4" cy="239.6" r="4.7" fill="#5a2a9c"/>
<circle cx="46.4" cy="239.6" r="2.2" fill="none" stroke="#fff" stroke-width="0.5" opacity="0.9"/>
<rect x="45.5" y="238.9" width="1.8" height="1.4" fill="#fff" rx="0.2" opacity="0.9"/>
<text x="46.4" y="248.7" font-size="3" fill="#fff" text-anchor="middle" font-weight="700" stroke="#fff" stroke-width="0.11" textLength="16" lengthAdjust="spacingAndGlyphs" opacity="0.95">SERVICE E</text>
<circle cx="46.4" cy="263" r="4.8" fill="#fff" opacity="0.14"/>
<circle cx="46.4" cy="263" r="1.81" fill="none" stroke="#fff" stroke-width="0.45" opacity="0.6"/>
<rect x="45.7" y="262.4" width="1.4" height="1.2" fill="#fff" rx="0.3" opacity="0.65"/>
<text x="46.4" y="272.1" font-size="3" fill="#fff" text-anchor="middle" font-weight="700" stroke="#fff" stroke-width="0.11" textLength="16" lengthAdjust="spacingAndGlyphs" opacity="0.95">SERVICE F</text>
<text x="75.3" y="149.6" font-size="5.9" fill="#111" font-weight="700" stroke="#111" stroke-width="0.21" textLength="53.5" lengthAdjust="spacingAndGlyphs">Analytics Dashboard</text>
<text x="75.3" y="157.2" font-size="2.7" fill="#444" textLength="108" lengthAdjust="spacingAndGlyphs" stroke="#444" stroke-width="0.07">Lorem Ipsum has been the industry's standard dummy text ever since the 1500s, when an</text>
<rect x="75.3" y="163" width="112.7" height="63.7" fill="#fff" rx="3.5" stroke="#f3f3f3" stroke-width="0.6"/>
<path d="M85.83 192.31A15.4 15.4 0 0 1 100.21 168.38" fill="none" stroke="#e8390e" stroke-width="2.3" stroke-linecap="butt"/>
<path d="M102.33 168.76A15.4 15.4 0 1 1 88.3 195.14" fill="none" stroke="#7a2b80" stroke-width="2.3" stroke-linecap="butt"/>
<circle cx="98.6" cy="184.1" r="12.3" fill="#000" opacity="0.28" filter="url(#bS)"/>
<circle cx="98.6" cy="183.7" r="12.3" fill="#fff"/>
<text x="98.6" y="186.53" font-size="7.3" fill="#111" text-anchor="middle" font-weight="700" stroke="#111" stroke-width="0.26" textLength="16.7" lengthAdjust="spacingAndGlyphs">$67k</text>
<circle cx="138.4" cy="178.5" r="4.7" fill="#f4511e"/>
<circle cx="166" cy="178.5" r="4.7" fill="#5a2a9c"/>
<circle cx="138.4" cy="178.2" r="1.9" fill="none" stroke="#fff" stroke-width="0.5" opacity="0.85"/>
<path d="M138.4 177L138.4 180.6" stroke="#fff" stroke-width="0.5" fill="none" opacity="0.85"/>
<circle cx="166" cy="178.2" r="1.9" fill="none" stroke="#fff" stroke-width="0.5" opacity="0.85"/>
<path d="M166 177L166 180.6" stroke="#fff" stroke-width="0.5" fill="none" opacity="0.85"/>
<text x="138.4" y="190.6" font-size="3.6" fill="#111" text-anchor="middle" font-weight="700" stroke="#111" stroke-width="0.13" textLength="9.5" lengthAdjust="spacingAndGlyphs">$27k</text>
<text x="166" y="190.6" font-size="3.6" fill="#111" text-anchor="middle" font-weight="700" stroke="#111" stroke-width="0.13" textLength="9.5" lengthAdjust="spacingAndGlyphs">$14k</text>
<text x="138.4" y="195.2" font-size="2.6" fill="#aaa" text-anchor="middle" textLength="15" lengthAdjust="spacingAndGlyphs" stroke="#aaa" stroke-width="0.07">Lorem Ipsum </text>
<text x="166" y="195.2" font-size="2.6" fill="#aaa" text-anchor="middle" textLength="15" lengthAdjust="spacingAndGlyphs" stroke="#aaa" stroke-width="0.07">Lorem Ipsum </text>
<text x="84.5" y="206.8" font-size="2.5" fill="#777" textLength="15" lengthAdjust="spacingAndGlyphs" stroke="#777" stroke-width="0.07">Lorem Ipsum </text>
<path d="M84.5 210L170 210" stroke="#e4e4e4" stroke-width="0.6" fill="none"/>
<path d="M84.5 210L108 210" stroke="#e8390e" stroke-width="2" fill="none" stroke-linecap="round"/>
<text x="178" y="207.5" font-size="3.1" fill="#111" text-anchor="end" font-weight="700" stroke="#111" stroke-width="0.11" textLength="9" lengthAdjust="spacingAndGlyphs">1.087</text>
<text x="84.5" y="216.4" font-size="2.5" fill="#777" textLength="15" lengthAdjust="spacingAndGlyphs" stroke="#777" stroke-width="0.07">Lorem Ipsum </text>
<path d="M84.5 219.6L170 219.6" stroke="#e4e4e4" stroke-width="0.6" fill="none"/>
<path d="M84.5 219.6L96.5 219.6" stroke="#3d1a8f" stroke-width="2" fill="none" stroke-linecap="round"/>
<text x="178" y="217.6" font-size="3.1" fill="#111" text-anchor="end" font-weight="700" stroke="#111" stroke-width="0.11" textLength="5" lengthAdjust="spacingAndGlyphs">8%</text>
<rect x="195" y="162.8" width="86" height="63.9" fill="#fff" rx="3.5" stroke="#f3f3f3" stroke-width="0.6"/>
<text x="204" y="175.2" font-size="4.1" fill="#111" font-weight="700" stroke="#111" stroke-width="0.14" textLength="23" lengthAdjust="spacingAndGlyphs">Description</text>
<text x="204" y="184.9" font-size="7.2" fill="#111" font-weight="700" stroke="#111" stroke-width="0.25" textLength="16.7" lengthAdjust="spacingAndGlyphs">$45k</text>
<circle cx="232.4" cy="182.8" r="4.3" fill="#000" opacity="0.25" filter="url(#bS)"/>
<circle cx="232.4" cy="182.3" r="4.3" fill="#fff"/>
<text x="232.4" y="183.02" font-size="2" fill="#666" text-anchor="middle" font-weight="700">+7%</text>
<text x="204" y="192" font-size="2.6" fill="#aaa" textLength="48" lengthAdjust="spacingAndGlyphs" stroke="#aaa" stroke-width="0.07">Lorem Ipsum has been the industry's sta</text>
<rect x="206.4" y="206.1" width="3.6" height="3.8" fill="#7a2b80"/>
<rect x="206.4" y="209.9" width="3.6" height="3.9" fill="#f4511e"/>
<text x="208.2" y="219.2" font-size="2.85" fill="#858585" text-anchor="middle">Jan</text>
<rect x="218.1" y="199.1" width="3.6" height="7.5" fill="#7a2b80"/>
<rect x="218.1" y="206.6" width="3.6" height="7.2" fill="#f4511e"/>
<text x="219.9" y="219.2" font-size="2.85" fill="#858585" text-anchor="middle">Feb</text>
<rect x="229.8" y="203.3" width="3.6" height="5.8" fill="#7a2b80"/>
<rect x="229.8" y="209.1" width="3.6" height="4.7" fill="#f4511e"/>
<text x="231.6" y="219.2" font-size="2.85" fill="#858585" text-anchor="middle">Mar</text>
<rect x="241.2" y="206.3" width="3.6" height="4" fill="#7a2b80"/>
<rect x="241.2" y="210.3" width="3.6" height="3.5" fill="#f4511e"/>
<text x="243" y="219.2" font-size="2.85" fill="#858585" text-anchor="middle">Apr</text>
<rect x="252.7" y="206.9" width="3.6" height="3.4" fill="#7a2b80"/>
<rect x="252.7" y="210.3" width="3.6" height="3.5" fill="#f4511e"/>
<text x="254.5" y="219.2" font-size="2.85" fill="#858585" text-anchor="middle">May</text>
<rect x="264.6" y="204.9" width="3.6" height="4.7" fill="#7a2b80"/>
<rect x="264.6" y="209.6" width="3.6" height="4.2" fill="#f4511e"/>
<text x="266.4" y="219.2" font-size="2.85" fill="#858585" text-anchor="middle">Jun</text>
<rect x="73.8" y="231.7" width="208.4" height="19.1" fill="#5a2a9c" rx="5"/>
<circle cx="70.2" cy="241.8" r="5.5" fill="#000" opacity="0.38" filter="url(#bS)"/>
<circle cx="70.2" cy="241.2" r="5.5" fill="#fff"/>
<path d="M67.3 241.2L72.5 241.2" stroke="#5a2a9c" stroke-width="0.6" fill="none"/>
<polyline points="71.3,240 72.7,241.2 71.3,242.4" fill="none" stroke="#5a2a9c" stroke-width="0.6" stroke-linejoin="round" stroke-linecap="round"/>
<text x="83" y="240.4" font-size="4.5" fill="#fff" font-weight="700" stroke="#fff" stroke-width="0.16" textLength="28" lengthAdjust="spacingAndGlyphs">NEW SERVICE</text>
<text x="83" y="245.3" font-size="4.2" fill="#fff" font-weight="700" stroke="#fff" stroke-width="0.15" textLength="26.5" lengthAdjust="spacingAndGlyphs">for Beginners</text>
<text x="127.2" y="240.2" font-size="2.5" fill="#fff" textLength="77" lengthAdjust="spacingAndGlyphs" stroke="#fff" stroke-width="0.13">Lorem Ipsum has been the industry's standard dummy text ever sinc</text>
<text x="127.2" y="243.7" font-size="2.5" fill="#fff" textLength="68" lengthAdjust="spacingAndGlyphs" stroke="#fff" stroke-width="0.13">Lorem Ipsum has been the industry's standard dummy text e</text>
<text x="224.6" y="239.7" font-size="2.3" fill="#fff" textLength="9" lengthAdjust="spacingAndGlyphs" stroke="#fff" stroke-width="0.13">Lorem Ip</text>
<path d="M225.5 242.6L246.8 242.6" stroke="#fff" stroke-width="2.6" fill="none" stroke-linecap="round"/>
<text x="263" y="241.2" font-size="3.4" fill="#fff" font-weight="700" stroke="#fff" stroke-width="0.12" textLength="9.7" lengthAdjust="spacingAndGlyphs">1.087</text>
<rect x="79.7" y="257" width="7" height="7" fill="#f4511e" rx="1"/>
<rect x="81.6" y="258.6" width="3.2" height="3.8" fill="#fff" rx="0.3" opacity="0.85"/>
<text x="90" y="262.4" font-size="4.1" fill="#111" font-weight="700" stroke="#111" stroke-width="0.14" textLength="23.3" lengthAdjust="spacingAndGlyphs">Description</text>
<text x="81" y="270.7" font-size="2.5" fill="#777" textLength="13" lengthAdjust="spacingAndGlyphs" stroke="#777" stroke-width="0.07">Lorem Ipsum</text>
<path d="M81 273.5L192 273.5" stroke="#e4e4e4" stroke-width="0.6" fill="none"/>
<path d="M81 273.5L129.7 273.5" stroke="#e8390e" stroke-width="2.2" fill="none" stroke-linecap="round"/>
<text x="192.2" y="271.3" font-size="3.1" fill="#111" text-anchor="end" font-weight="700" stroke="#111" stroke-width="0.11" textLength="9" lengthAdjust="spacingAndGlyphs">4.208</text>
<path d="M225.98 259.09A8.8 8.8 0 1 1 223.48 275.78" fill="none" stroke="#f06a12" stroke-width="1.9" stroke-linecap="round"/>
<circle cx="227.2" cy="268.3" r="6.3" fill="#000" opacity="0.28" filter="url(#bS)"/>
<circle cx="227.2" cy="267.8" r="6.3" fill="#fff"/>
<text x="227.2" y="268.99" font-size="3.3" fill="#222" text-anchor="middle" font-weight="700" stroke="#222" stroke-width="0.12" textLength="7.5" lengthAdjust="spacingAndGlyphs">62%</text>
<text x="243.3" y="268.5" font-size="3.7" fill="#111" font-weight="700" stroke="#111" stroke-width="0.13" textLength="33.4" lengthAdjust="spacingAndGlyphs">Type your text here</text>
</g>
<clipPath id="cc11"><rect x="315.9" y="131.6" width="269.6" height="152.3"/></clipPath>
<g clip-path="url(#cc11)">
<rect x="315.9" y="131.6" width="42" height="152.3" fill="#fe5a03"/>
<rect x="345.5" y="131.6" width="240" height="152.3" fill="#fff" rx="8"/>
<rect x="375.9" y="131.6" width="209.6" height="152.3" fill="#fff"/>
<clipPath id="av11"><circle cx="331.1" cy="148.9" r="9.1"/></clipPath>
<g clip-path="url(#av11)">
<circle cx="331.1" cy="148.9" r="9.1" fill="#1a1416"/>
<ellipse cx="331.1" cy="149.81" rx="7.67" ry="8.92" fill="#15100e"/>
<ellipse cx="331.1" cy="159.09" rx="8.19" ry="5" fill="#1a1412"/>
<rect x="329.55" y="151.18" width="3.09" height="4.09" fill="#e6c6b8"/>
<ellipse cx="331.1" cy="147.99" rx="3.93" ry="5.5" fill="#e6c6b8"/>
<ellipse cx="329.43" cy="147.26" rx="1.09" ry="0.55" fill="#2a1c1a" opacity="0.8"/>
<ellipse cx="332.77" cy="147.26" rx="1.09" ry="0.55" fill="#2a1c1a" opacity="0.8"/>
<ellipse cx="331.1" cy="151.33" rx="1.18" ry="0.55" fill="#6a1414"/>
</g>
<rect x="327.9" y="172.9" width="6.8" height="6.4" fill="#ffe3d6" rx="1.2" stroke="#ffe3d6" stroke-width="0.9" opacity="0.92" fill-opacity="0.35"/>
<path d="M328.1 175.1L334.5 175.1" stroke="#ffe3d6" stroke-width="0.8" fill="none" opacity="0.92"/>
<path d="M329.3 177.2L333.3 177.2" stroke="#ffe3d6" stroke-width="0.7" fill="none" opacity="0.92"/>
<polygon points="328.1,187.1 334.5,187.1 332,190.5 332,193.5 330.6,192.8 330.6,190.5" fill="#ffe3d6" stroke="#ffe3d6" stroke-width="0.9" stroke-linejoin="round" opacity="0.92" fill-opacity="0.35"/>
<circle cx="333.8" cy="191.8" r="1" fill="#ffe3d6" opacity="0.92"/>
<circle cx="331.3" cy="205.8" r="3.2" fill="#ffe3d6" stroke="#ffe3d6" stroke-width="0.9" opacity="0.92" fill-opacity="0.35"/>
<circle cx="331.3" cy="205.8" r="1.3" fill="none" stroke="#ffe3d6" stroke-width="0.7" opacity="0.92"/>
<path d="M328.2 205.8L334.4 205.8" stroke="#ffe3d6" stroke-width="0.6" fill="none" opacity="0.92"/>
<circle cx="331.3" cy="220.5" r="3.2" fill="#ffe3d6" stroke="#ffe3d6" stroke-width="0.9" opacity="0.92" fill-opacity="0.35"/>
<polyline points="329.2,219.7 331.3,221.3 333.4,219.7" fill="none" stroke="#ffe3d6" stroke-width="0.8" stroke-linejoin="round" stroke-linecap="round" opacity="0.92"/>
<rect x="328" y="231.2" width="6.6" height="5.2" fill="#e54b08" rx="0.8" stroke="#e54b08" stroke-width="0.9" fill-opacity="0.4"/>
<path d="M328 233.6L334.6 233.6" stroke="#e54b08" stroke-width="0.7" fill="none"/>
<path d="M330 230.3L332.6 230.3" stroke="#e54b08" stroke-width="0.8" fill="none"/>
<rect x="358" y="140.5" width="208.1" height="19.6" fill="#fc5606" rx="5"/>
<circle cx="355.1" cy="150.9" r="5.5" fill="#000" opacity="0.38" filter="url(#bS)"/>
<circle cx="355.1" cy="150.3" r="5.5" fill="#fff"/>
<path d="M352.2 150.3L357.4 150.3" stroke="#fc5606" stroke-width="0.6" fill="none"/>
<polyline points="356.2,149.1 357.6,150.3 356.2,151.5" fill="none" stroke="#fc5606" stroke-width="0.6" stroke-linejoin="round" stroke-linecap="round"/>
<text x="367.6" y="151.3" font-size="3.5" fill="#fff" font-weight="700" stroke="#fff" stroke-width="0.12" textLength="47.4" lengthAdjust="spacingAndGlyphs" opacity="0.95">NEW SERVICE for Beginners</text>
<text x="423" y="151.3" font-size="3.1" fill="#fff" textLength="14.8" lengthAdjust="spacingAndGlyphs" opacity="0.9">04.02.20</text>
<text x="462" y="151.3" font-size="3.1" fill="#fff" textLength="14.8" lengthAdjust="spacingAndGlyphs" opacity="0.9">04.02.20</text>
<text x="508.4" y="148.4" font-size="2.3" fill="#fff" textLength="11" lengthAdjust="spacingAndGlyphs" stroke="#fff" stroke-width="0.13">Lorem Ipsu</text>
<path d="M508.4 151.8L546 151.8" stroke="#fff" stroke-width="0.5" fill="none" opacity="0.5"/>
<path d="M509.7 151.7L531.6 151.7" stroke="#fff" stroke-width="2.6" fill="none" stroke-linecap="round"/>
<text x="547.4" y="150.1" font-size="3.4" fill="#fff" font-weight="700" stroke="#fff" stroke-width="0.12" textLength="9.5" lengthAdjust="spacingAndGlyphs">1.087</text>
<text x="358" y="171" font-size="4.1" fill="#111" font-weight="700" stroke="#111" stroke-width="0.14" textLength="22.6" lengthAdjust="spacingAndGlyphs">Description</text>
<text x="358" y="180.7" font-size="7.2" fill="#111" font-weight="700" stroke="#111" stroke-width="0.25" textLength="30.1" lengthAdjust="spacingAndGlyphs">$45.789k</text>
<circle cx="399.8" cy="179" r="4.3" fill="#000" opacity="0.25" filter="url(#bS)"/>
<circle cx="399.8" cy="178.5" r="4.3" fill="#fff"/>
<path d="M398 178.5L401.4 178.5" stroke="#f4511e" stroke-width="0.6" fill="none"/>
<rect x="419" y="166.8" width="146.7" height="16.2" fill="#fff" rx="3" stroke="#f3f3f3" stroke-width="0.6"/>
<text x="424.4" y="173.6" font-size="2.6" fill="#333" textLength="131.3" lengthAdjust="spacingAndGlyphs" stroke="#333" stroke-width="0.07">Lorem Ipsum has been the industry's standard dummy text ever since the 1500s, when an unknown printer took </text>
<text x="424.4" y="177.3" font-size="2.6" fill="#333" textLength="84.5" lengthAdjust="spacingAndGlyphs" stroke="#333" stroke-width="0.07">Lorem Ipsum has been the industry's standard dummy text ever since th</text>
<path d="M363 192.9L399 192.9" stroke="#fbe3da" stroke-width="0.5" fill="none"/>
<text x="359.7" y="193.7" font-size="2.55" fill="#858585" text-anchor="middle">4</text>
<path d="M363 197.4L399 197.4" stroke="#fbe3da" stroke-width="0.5" fill="none"/>
<text x="359.7" y="198.2" font-size="2.55" fill="#858585" text-anchor="middle">0.8</text>
<path d="M363 202.1L399 202.1" stroke="#fbe3da" stroke-width="0.5" fill="none"/>
<text x="359.7" y="202.9" font-size="2.55" fill="#858585" text-anchor="middle">0.6</text>
<path d="M363 206.6L399 206.6" stroke="#fbe3da" stroke-width="0.5" fill="none"/>
<text x="359.7" y="207.4" font-size="2.55" fill="#858585" text-anchor="middle">0.4</text>
<path d="M363 211.1L399 211.1" stroke="#fbe3da" stroke-width="0.5" fill="none"/>
<text x="359.7" y="211.9" font-size="2.55" fill="#858585" text-anchor="middle">0</text>
<polyline points="368,195.7 376.4,202.1 385.6,198.2 393.4,194.6" fill="none" stroke="#f4a388" stroke-width="0.7" stroke-linejoin="round" stroke-linecap="round"/>
<text x="367.2" y="216.3" font-size="2.65" fill="#858585" text-anchor="middle">W1</text>
<text x="376" y="216.3" font-size="2.65" fill="#858585" text-anchor="middle">W2</text>
<text x="385.1" y="216.3" font-size="2.65" fill="#858585" text-anchor="middle">W3</text>
<text x="393.9" y="216.3" font-size="2.65" fill="#858585" text-anchor="middle">W4</text>
<path d="M415.7 192.9L450.8 192.9" stroke="#fbe3da" stroke-width="0.5" fill="none"/>
<text x="411.8" y="193.7" font-size="2.55" fill="#858585" text-anchor="middle">4</text>
<path d="M415.7 197.4L450.8 197.4" stroke="#fbe3da" stroke-width="0.5" fill="none"/>
<text x="411.8" y="198.2" font-size="2.55" fill="#858585" text-anchor="middle">0.8</text>
<path d="M415.7 202.1L450.8 202.1" stroke="#fbe3da" stroke-width="0.5" fill="none"/>
<text x="411.8" y="202.9" font-size="2.55" fill="#858585" text-anchor="middle">0.6</text>
<path d="M415.7 206.6L450.8 206.6" stroke="#fbe3da" stroke-width="0.5" fill="none"/>
<text x="411.8" y="207.4" font-size="2.55" fill="#858585" text-anchor="middle">0.4</text>
<path d="M415.7 211.1L450.8 211.1" stroke="#fbe3da" stroke-width="0.5" fill="none"/>
<text x="411.8" y="211.9" font-size="2.55" fill="#858585" text-anchor="middle">0</text>
<polyline points="420.7,207.4 429.1,201.6 439.1,195.7 446.3,194.6" fill="none" stroke="#b58ca4" stroke-width="0.7" stroke-linejoin="round" stroke-linecap="round"/>
<text x="419.9" y="216.3" font-size="2.65" fill="#858585" text-anchor="middle">W1</text>
<text x="428.7" y="216.3" font-size="2.65" fill="#858585" text-anchor="middle">W2</text>
<text x="437.4" y="216.3" font-size="2.65" fill="#858585" text-anchor="middle">W3</text>
<text x="446.3" y="216.3" font-size="2.65" fill="#858585" text-anchor="middle">W4</text>
<path d="M469.3 192.9L503.9 192.9" stroke="#fbe3da" stroke-width="0.5" fill="none"/>
<text x="465.9" y="193.7" font-size="2.55" fill="#858585" text-anchor="middle">4</text>
<path d="M469.3 197.4L503.9 197.4" stroke="#fbe3da" stroke-width="0.5" fill="none"/>
<text x="465.9" y="198.2" font-size="2.55" fill="#858585" text-anchor="middle">0.8</text>
<path d="M469.3 202.1L503.9 202.1" stroke="#fbe3da" stroke-width="0.5" fill="none"/>
<text x="465.9" y="202.9" font-size="2.55" fill="#858585" text-anchor="middle">0.6</text>
<path d="M469.3 206.6L503.9 206.6" stroke="#fbe3da" stroke-width="0.5" fill="none"/>
<text x="465.9" y="207.4" font-size="2.55" fill="#858585" text-anchor="middle">0.4</text>
<path d="M469.3 211.1L503.9 211.1" stroke="#fbe3da" stroke-width="0.5" fill="none"/>
<text x="465.9" y="211.9" font-size="2.55" fill="#858585" text-anchor="middle">0</text>
<polyline points="473.8,201.6 483,192.4 490.5,194.9 499.7,202.1" fill="none" stroke="#f6b284" stroke-width="0.7" stroke-linejoin="round" stroke-linecap="round"/>
<text x="473.8" y="216.3" font-size="2.65" fill="#858585" text-anchor="middle">W1</text>
<text x="482.1" y="216.3" font-size="2.65" fill="#858585" text-anchor="middle">W2</text>
<text x="490.8" y="216.3" font-size="2.65" fill="#858585" text-anchor="middle">W3</text>
<text x="499.7" y="216.3" font-size="2.65" fill="#858585" text-anchor="middle">W4</text>
<path d="M521.9 192.9L556.5 192.9" stroke="#fbe3da" stroke-width="0.5" fill="none"/>
<text x="518.1" y="193.7" font-size="2.55" fill="#858585" text-anchor="middle">4</text>
<path d="M521.9 197.4L556.5 197.4" stroke="#fbe3da" stroke-width="0.5" fill="none"/>
<text x="518.1" y="198.2" font-size="2.55" fill="#858585" text-anchor="middle">0.8</text>
<path d="M521.9 202.1L556.5 202.1" stroke="#fbe3da" stroke-width="0.5" fill="none"/>
<text x="518.1" y="202.9" font-size="2.55" fill="#858585" text-anchor="middle">0.6</text>
<path d="M521.9 206.6L556.5 206.6" stroke="#fbe3da" stroke-width="0.5" fill="none"/>
<text x="518.1" y="207.4" font-size="2.55" fill="#858585" text-anchor="middle">0.4</text>
<path d="M521.9 211.1L556.5 211.1" stroke="#fbe3da" stroke-width="0.5" fill="none"/>
<text x="518.1" y="211.9" font-size="2.55" fill="#858585" text-anchor="middle">0</text>
<polyline points="526.4,194.9 534.8,192.9 543.7,197.9 551.5,194.6" fill="none" stroke="#f5a468" stroke-width="0.7" stroke-linejoin="round" stroke-linecap="round"/>
<text x="526.4" y="216.3" font-size="2.65" fill="#858585" text-anchor="middle">W1</text>
<text x="534.8" y="216.3" font-size="2.65" fill="#858585" text-anchor="middle">W2</text>
<text x="543.5" y="216.3" font-size="2.65" fill="#858585" text-anchor="middle">W3</text>
<text x="552" y="216.3" font-size="2.65" fill="#858585" text-anchor="middle">W4</text>
<rect x="356.2" y="226.3" width="46.9" height="47.9" fill="#fe5a03" rx="3.5"/>
<polyline points="361.8,236 362.8,233 363.6,234.2" fill="none" stroke="#fff" stroke-width="0.5" stroke-linejoin="round" stroke-linecap="round" opacity="0.7"/>
<text x="374.2" y="235.9" font-size="2.6" fill="#fff" font-weight="700" textLength="23.6" lengthAdjust="spacingAndGlyphs" stroke="#fff" stroke-width="0.1">DESCRIPTION ONE</text>
<clipPath id="av11a"><circle cx="368.2" cy="246.2" r="6.2"/></clipPath>
<g clip-path="url(#av11a)">
<circle cx="368.2" cy="246.2" r="6.2" fill="#f4f4f4"/>
<ellipse cx="368.2" cy="253.14" rx="5.58" ry="3.41" fill="#3dbfa0"/>
<rect x="367.15" y="247.75" width="2.11" height="2.79" fill="#e2b48f"/>
<ellipse cx="368.2" cy="245.83" rx="2.48" ry="3.47" fill="#e2b48f"/>
<path d="M365.47 245.08A2.73 3.47 0 0 1 370.93 245.08L368.2 243.84Z" fill="#3a2a20"/>
<ellipse cx="367.15" cy="245.33" rx="0.74" ry="0.37" fill="#2a1c1a" opacity="0.8"/>
<ellipse cx="369.25" cy="245.33" rx="0.74" ry="0.37" fill="#2a1c1a" opacity="0.8"/>
</g>
<text x="361.7" y="257.8" font-size="2.7" fill="#fff" textLength="29" lengthAdjust="spacingAndGlyphs" stroke="#fff" stroke-width="0.13">Lorem Ipsum has been t</text>
<text x="361.7" y="268.8" font-size="7.2" fill="#fff" font-weight="700" stroke="#fff" stroke-width="0.25" textLength="17.8" lengthAdjust="spacingAndGlyphs">85%</text>
<rect x="409.2" y="226.3" width="46.9" height="47.9" fill="#7a2b80" rx="3.5"/>
<polyline points="414.8,236 415.8,233 416.6,234.2" fill="none" stroke="#fff" stroke-width="0.5" stroke-linejoin="round" stroke-linecap="round" opacity="0.7"/>
<text x="427.2" y="235.9" font-size="2.6" fill="#fff" font-weight="700" textLength="23.6" lengthAdjust="spacingAndGlyphs" stroke="#fff" stroke-width="0.1">DESCRIPTION TWO</text>
<clipPath id="av11b"><circle cx="421.2" cy="246.2" r="6.2"/></clipPath>
<g clip-path="url(#av11b)">
<circle cx="421.2" cy="246.2" r="6.2" fill="#dcdcdc"/>
<ellipse cx="421.2" cy="246.82" rx="4.84" ry="6.08" fill="#2a1c18"/>
<ellipse cx="421.2" cy="253.14" rx="5.58" ry="3.41" fill="#555"/>
<rect x="420.15" y="247.75" width="2.11" height="2.79" fill="#d8a98a"/>
<ellipse cx="421.2" cy="245.83" rx="2.48" ry="3.47" fill="#d8a98a"/>
<path d="M418.47 245.08A2.73 3.47 0 0 1 423.93 245.08L421.2 243.84Z" fill="#2a1c18"/>
<ellipse cx="420.15" cy="245.33" rx="0.74" ry="0.37" fill="#2a1c1a" opacity="0.8"/>
<ellipse cx="422.25" cy="245.33" rx="0.74" ry="0.37" fill="#2a1c1a" opacity="0.8"/>
</g>
<circle cx="421.2" cy="246.2" r="6.2" fill="none" stroke="#fff" stroke-width="0.5"/>
<text x="414.7" y="257.8" font-size="2.7" fill="#fff" textLength="29" lengthAdjust="spacingAndGlyphs" stroke="#fff" stroke-width="0.13">Lorem Ipsum has been t</text>
<text x="414.7" y="268.8" font-size="7.2" fill="#fff" font-weight="700" stroke="#fff" stroke-width="0.25" textLength="17.8" lengthAdjust="spacingAndGlyphs">37%</text>
<rect x="462.1" y="226.3" width="46.9" height="47.9" fill="#f6931e" rx="3.5"/>
<polyline points="467.7,236 468.7,233 469.5,234.2" fill="none" stroke="#fff" stroke-width="0.5" stroke-linejoin="round" stroke-linecap="round" opacity="0.7"/>
<text x="480.1" y="235.9" font-size="2.6" fill="#fff" font-weight="700" textLength="23.6" lengthAdjust="spacingAndGlyphs" stroke="#fff" stroke-width="0.1">DESCRIPTION THREE</text>
<clipPath id="av11c"><circle cx="474.1" cy="246.2" r="6.2"/></clipPath>
<g clip-path="url(#av11c)">
<circle cx="474.1" cy="246.2" r="6.2" fill="#1e1e1e"/>
<ellipse cx="474.1" cy="253.14" rx="5.58" ry="3.41" fill="#222"/>
<rect x="473.05" y="247.75" width="2.11" height="2.79" fill="#7a5a40"/>
<ellipse cx="474.1" cy="245.83" rx="2.48" ry="3.47" fill="#7a5a40"/>
<path d="M471.37 245.08A2.73 3.47 0 0 1 476.83 245.08L474.1 243.84Z" fill="#111"/>
<ellipse cx="473.05" cy="245.33" rx="0.74" ry="0.37" fill="#2a1c1a" opacity="0.8"/>
<ellipse cx="475.15" cy="245.33" rx="0.74" ry="0.37" fill="#2a1c1a" opacity="0.8"/>
</g>
<circle cx="474.1" cy="246.2" r="6.2" fill="none" stroke="#eee" stroke-width="0.5"/>
<text x="467.6" y="257.8" font-size="2.7" fill="#fff" textLength="29" lengthAdjust="spacingAndGlyphs" stroke="#fff" stroke-width="0.13">Lorem Ipsum has been t</text>
<text x="467.6" y="268.8" font-size="7.2" fill="#fff" font-weight="700" stroke="#fff" stroke-width="0.25" textLength="17.8" lengthAdjust="spacingAndGlyphs">84%</text>
<rect x="515.1" y="226.3" width="46.9" height="47.9" fill="#f87c0e" rx="3.5"/>
<polyline points="520.7,236 521.7,233 522.5,234.2" fill="none" stroke="#fff" stroke-width="0.5" stroke-linejoin="round" stroke-linecap="round" opacity="0.7"/>
<text x="533.1" y="235.9" font-size="2.6" fill="#fff" font-weight="700" textLength="23.6" lengthAdjust="spacingAndGlyphs" stroke="#fff" stroke-width="0.1">DESCRIPTION FOUR</text>
<clipPath id="av11d"><circle cx="527.1" cy="246.2" r="6.2"/></clipPath>
<g clip-path="url(#av11d)">
<circle cx="527.1" cy="246.2" r="6.2" fill="#efefef"/>
<ellipse cx="527.1" cy="253.14" rx="5.58" ry="3.41" fill="#f6f6f6"/>
<rect x="526.05" y="247.75" width="2.11" height="2.79" fill="#e0b49a"/>
<ellipse cx="527.1" cy="245.83" rx="2.48" ry="3.47" fill="#e0b49a"/>
<path d="M524.37 245.08A2.73 3.47 0 0 1 529.83 245.08L527.1 243.84Z" fill="#4a3a30"/>
<ellipse cx="526.05" cy="245.33" rx="0.74" ry="0.37" fill="#2a1c1a" opacity="0.8"/>
<ellipse cx="528.15" cy="245.33" rx="0.74" ry="0.37" fill="#2a1c1a" opacity="0.8"/>
</g>
<circle cx="527.1" cy="246.2" r="6.2" fill="none" stroke="#fff" stroke-width="0.5"/>
<text x="520.6" y="257.8" font-size="2.7" fill="#fff" textLength="29" lengthAdjust="spacingAndGlyphs" stroke="#fff" stroke-width="0.13">Lorem Ipsum has been t</text>
<text x="520.6" y="268.8" font-size="7.2" fill="#fff" font-weight="700" stroke="#fff" stroke-width="0.25" textLength="17.8" lengthAdjust="spacingAndGlyphs">91%</text>
</g>
<clipPath id="cc12"><rect x="600" y="131.6" width="269.6" height="152.3"/></clipPath>
<g clip-path="url(#cc12)">
<rect x="827.6" y="131.6" width="42" height="152.3" fill="#fe5a03"/>
<rect x="600" y="131.6" width="239.7" height="152.3" fill="#fff" rx="8"/>
<rect x="600" y="131.6" width="209.6" height="152.3" fill="#fff"/>
<circle cx="854.8" cy="146.1" r="4.7" fill="#6a2a8c"/>
<rect x="852.9" y="144.4" width="3.8" height="3.4" fill="none" rx="0.5" stroke="#fff" stroke-width="0.5" opacity="0.9"/>
<path d="M852.9 145.6L856.7 145.6" stroke="#fff" stroke-width="0.4" fill="none" opacity="0.9"/>
<circle cx="859" cy="141.9" r="0.8" fill="#e8321a"/>
<text x="854.8" y="154.9" font-size="2.9" fill="#fff" text-anchor="middle" font-weight="700" stroke="#fff" stroke-width="0.1" textLength="17.2" lengthAdjust="spacingAndGlyphs" opacity="0.95">PROJECT 2</text>
<circle cx="854.8" cy="188.2" r="4.9" fill="#fff" opacity="0.14"/>
<circle cx="854.8" cy="188.2" r="1.87" fill="none" stroke="#fff" stroke-width="0.45" opacity="0.6"/>
<rect x="854.1" y="187.6" width="1.4" height="1.2" fill="#fff" rx="0.3" opacity="0.65"/>
<circle cx="854.8" cy="203.6" r="4.9" fill="#fff" opacity="0.14"/>
<circle cx="854.8" cy="203.6" r="1.87" fill="none" stroke="#fff" stroke-width="0.45" opacity="0.6"/>
<rect x="854.1" y="203" width="1.4" height="1.2" fill="#fff" rx="0.3" opacity="0.65"/>
<circle cx="854.8" cy="218.7" r="4.9" fill="#fff" opacity="0.14"/>
<circle cx="854.8" cy="218.7" r="1.87" fill="none" stroke="#fff" stroke-width="0.45" opacity="0.6"/>
<rect x="854.1" y="218.1" width="1.4" height="1.2" fill="#fff" rx="0.3" opacity="0.65"/>
<circle cx="854.8" cy="233.7" r="4.9" fill="#fff" opacity="0.14"/>
<circle cx="854.8" cy="233.7" r="1.87" fill="none" stroke="#fff" stroke-width="0.45" opacity="0.6"/>
<rect x="854.1" y="233.1" width="1.4" height="1.2" fill="#fff" rx="0.3" opacity="0.65"/>
<circle cx="854.8" cy="247.8" r="4.9" fill="#fff" opacity="0.14"/>
<circle cx="854.8" cy="247.8" r="1.87" fill="none" stroke="#fff" stroke-width="0.45" opacity="0.6"/>
<rect x="854.1" y="247.2" width="1.4" height="1.2" fill="#fff" rx="0.3" opacity="0.65"/>
<rect x="617.7" y="138" width="208.6" height="20.1" fill="#fc5606" rx="5"/>
<circle cx="829.7" cy="148.7" r="5.5" fill="#000" opacity="0.38" filter="url(#bS)"/>
<circle cx="829.7" cy="148.1" r="5.5" fill="#fff"/>
<path d="M826.8 148.1L832 148.1" stroke="#f4511e" stroke-width="0.6" fill="none"/>
<polyline points="830.8,146.9 832.2,148.1 830.8,149.3" fill="none" stroke="#f4511e" stroke-width="0.6" stroke-linejoin="round" stroke-linecap="round"/>
<text x="626.9" y="146.7" font-size="4.4" fill="#fff" font-weight="700" stroke="#fff" stroke-width="0.15" textLength="28.5" lengthAdjust="spacingAndGlyphs">NEW PROJECT</text>
<text x="626.9" y="151.5" font-size="4.2" fill="#fff" font-weight="700" stroke="#fff" stroke-width="0.15" textLength="35.2" lengthAdjust="spacingAndGlyphs">for Gold Members</text>
<text x="670.4" y="146.9" font-size="2.5" fill="#fff" textLength="77" lengthAdjust="spacingAndGlyphs" stroke="#fff" stroke-width="0.13">Lorem Ipsum has been the industry's standard dummy text ever sinc</text>
<text x="670.4" y="150.5" font-size="2.5" fill="#fff" textLength="70" lengthAdjust="spacingAndGlyphs" stroke="#fff" stroke-width="0.13">Lorem Ipsum has been the industry's standard dummy text eve</text>
<text x="766.6" y="146.3" font-size="2.3" fill="#fff" textLength="12" lengthAdjust="spacingAndGlyphs" stroke="#fff" stroke-width="0.13">Lorem Ipsum</text>
<path d="M766.6 149.5L804.6 149.5" stroke="#fff" stroke-width="0.5" fill="none" opacity="0.7"/>
<path d="M767.8 149.4L788.3 149.4" stroke="#6f2a7c" stroke-width="2.5" fill="none" stroke-linecap="round"/>
<text x="806.3" y="147.9" font-size="3.3" fill="#fff" font-weight="700" stroke="#fff" stroke-width="0.12" textLength="8" lengthAdjust="spacingAndGlyphs">68%</text>
<rect x="619.9" y="164" width="68.9" height="113.5" fill="#fff" rx="3" stroke="#f3f3f3" stroke-width="0.6"/>
<path d="M625.8 172.3L625.8 233.7" stroke="#fbd0c2" stroke-width="0.5" fill="none"/>
<polygon points="624.3,171.5 627.3,171.5 625.8,173.3" fill="#e8321a"/>
<circle cx="625.05" cy="171.5" r="0.75" fill="#e8321a"/>
<circle cx="626.55" cy="171.5" r="0.75" fill="#e8321a"/>
<polygon points="624.3,176.5 627.3,176.5 625.8,178.3" fill="#e8321a"/>
<circle cx="625.05" cy="176.5" r="0.75" fill="#e8321a"/>
<circle cx="626.55" cy="176.5" r="0.75" fill="#e8321a"/>
<polygon points="624.3,181.5 627.3,181.5 625.8,183.3" fill="#e8321a"/>
<circle cx="625.05" cy="181.5" r="0.75" fill="#e8321a"/>
<circle cx="626.55" cy="181.5" r="0.75" fill="#e8321a"/>
<polygon points="624.3,186.6 627.3,186.6 625.8,188.4" fill="#e8321a"/>
<circle cx="625.05" cy="186.6" r="0.75" fill="#e8321a"/>
<circle cx="626.55" cy="186.6" r="0.75" fill="#e8321a"/>
<polygon points="624.3,191.6 627.3,191.6 625.8,193.4" fill="#e8321a"/>
<circle cx="625.05" cy="191.6" r="0.75" fill="#e8321a"/>
<circle cx="626.55" cy="191.6" r="0.75" fill="#e8321a"/>
<circle cx="625.8" cy="233.7" r="1.8" fill="#e8321a"/>
<text x="634.8" y="178.7" font-size="5" fill="#111" font-weight="700" stroke="#111" stroke-width="0.18" textLength="29.8" lengthAdjust="spacingAndGlyphs">Description</text>
<circle cx="680.4" cy="173.9" r="4.2" fill="#000" opacity="0.28" filter="url(#bS)"/>
<circle cx="680.4" cy="173.2" r="4.2" fill="#fff"/>
<path d="M678.8 173.2L682 173.2" stroke="#f4511e" stroke-width="0.5" fill="none"/>
<text x="634.8" y="185.6" font-size="2.6" fill="#333" textLength="32.2" lengthAdjust="spacingAndGlyphs" stroke="#333" stroke-width="0.07">Lorem Ipsum has been the i</text>
<text x="634.8" y="188.9" font-size="2.6" fill="#333" textLength="38.5" lengthAdjust="spacingAndGlyphs" stroke="#333" stroke-width="0.07">Lorem Ipsum has been the indust</text>
<clipPath id="ph12"><rect x="628.9" y="196.9" width="56.6" height="33.4" rx="2.5"/></clipPath><g clip-path="url(#ph12)">
<linearGradient id="phg" x1="0" y1="0" x2="0" y2="1"><stop offset="0" stop-color="#c9cdcb"/><stop offset="0.55" stop-color="#d3d6d4"/><stop offset="1" stop-color="#e4e6e4"/></linearGradient>
<rect x="628.9" y="196.9" width="56.6" height="33.4" fill="url(#phg)"/>
<rect x="628.9" y="222" width="56.6" height="9" fill="#eceeed"/>
<rect x="641.4" y="209.5" width="5.2" height="6.5" fill="#f3f3f1" rx="1"/>
<rect x="641.6" y="208.6" width="4.8" height="1.3" fill="#2c2c2a" rx="0.5"/>
<rect x="648.9" y="209.5" width="5.2" height="6.5" fill="#f3f3f1" rx="1"/>
<rect x="649.1" y="208.6" width="4.8" height="1.3" fill="#2c2c2a" rx="0.5"/>
<rect x="656.4" y="209.5" width="5.2" height="6.5" fill="#f3f3f1" rx="1"/>
<rect x="656.6" y="208.6" width="4.8" height="1.3" fill="#2c2c2a" rx="0.5"/>
<polygon points="632,223.5 643,221 647,225.5 636,228.5" fill="#5d6263"/>
<polygon points="651,226 664,219.5 681,223 684,229.5 652,227.5" fill="#f7f7f6"/>
<path d="M652 227.6L684.5 229.8" stroke="#2e2e2e" stroke-width="0.8" fill="none"/>
<rect x="663.5" y="219.5" width="1.4" height="5" fill="#3a3a3a"/>
</g>
<rect x="628.8" y="235" width="56.7" height="36.7" fill="#fdcfc0" rx="1"/>
<text x="633" y="242.8" font-size="3.4" fill="#f4511e" font-weight="700" stroke="#f4511e" stroke-width="0.12" textLength="19.7" lengthAdjust="spacingAndGlyphs">Description</text>
<text x="633" y="248.6" font-size="2.6" fill="#2a2a2a" textLength="48.8" lengthAdjust="spacingAndGlyphs" stroke="#2a2a2a" stroke-width="0.04">Lorem Ipsum has been the industry's sta</text>
<text x="633" y="252" font-size="2.6" fill="#2a2a2a" textLength="48.8" lengthAdjust="spacingAndGlyphs" stroke="#2a2a2a" stroke-width="0.04">ndard dummy text ever since the 1500s,</text>
<text x="633" y="255.4" font-size="2.6" fill="#2a2a2a" textLength="48.8" lengthAdjust="spacingAndGlyphs" stroke="#2a2a2a" stroke-width="0.04">when an unknown printer took a galley o</text>
<text x="633" y="258.8" font-size="2.6" fill="#2a2a2a" textLength="48.8" lengthAdjust="spacingAndGlyphs" stroke="#2a2a2a" stroke-width="0.04">f type and scrambled it to make a type</text>
<text x="633" y="262.2" font-size="2.6" fill="#2a2a2a" textLength="26.8" lengthAdjust="spacingAndGlyphs" stroke="#2a2a2a" stroke-width="0.04">Lorem Ipsum has been</text>
<rect x="696.3" y="164" width="135.7" height="35.1" fill="#fff" rx="3" stroke="#f3f3f3" stroke-width="0.6"/>
<rect x="704" y="170.1" width="5.4" height="5.6" fill="none" rx="0.8" stroke="#f4511e" stroke-width="0.6"/>
<path d="M705.4 173L708 173" stroke="#f4511e" stroke-width="0.5" fill="none"/>
<text x="712.6" y="174.5" font-size="3.7" fill="#111" font-weight="700" stroke="#111" stroke-width="0.13" textLength="31" lengthAdjust="spacingAndGlyphs">Sarah Smithsons</text>
<text x="703.9" y="184" font-size="7.2" fill="#111" font-weight="700" stroke="#111" stroke-width="0.25" textLength="30.6" lengthAdjust="spacingAndGlyphs">$456.987</text>
<text x="704.4" y="191.1" font-size="2.7" fill="#aaa" textLength="28.4" lengthAdjust="spacingAndGlyphs" stroke="#aaa" stroke-width="0.07">Lorem Ipsum has been t</text>
<rect x="769.8" y="165.6" width="16.4" height="30.5" fill="#f4511e" rx="1.2"/>
<rect x="778.7" y="176.5" width="3.7" height="17.1" fill="#fff" rx="1.6" opacity="0.95"/>
<rect x="773.6" y="172.5" width="2.3" height="21.1" fill="#fff" rx="1" opacity="0.35"/>
<rect x="779.2" y="168.2" width="2.5" height="7.2" fill="#fff" rx="1" opacity="0.3"/>
<clipPath id="av12"><circle cx="811.4" cy="179.5" r="12.4"/></clipPath><g clip-path="url(#av12)">
<circle cx="811.4" cy="179.5" r="12.4" fill="#d6cec3"/>
<ellipse cx="817" cy="174" rx="6" ry="8" fill="#e2dcd3"/>
<ellipse cx="809.5" cy="180.5" rx="8.7" ry="11" fill="#3a2a22"/>
<ellipse cx="803.5" cy="184" rx="2.6" ry="5" fill="#5a4034"/>
<ellipse cx="810.5" cy="193.5" rx="9.5" ry="5.5" fill="#2c3234"/>
<ellipse cx="810.4" cy="190.8" rx="2.2" ry="2.4" fill="#cfe0dc"/>
<ellipse cx="809.9" cy="179.4" rx="4" ry="5.6" fill="#dba48a"/>
<ellipse cx="808.6" cy="173.6" rx="4.6" ry="2.3" fill="#35251e"/>
<ellipse cx="808.3" cy="178" rx="0.9" ry="0.45" fill="#3a2420"/>
<ellipse cx="811.6" cy="178" rx="0.9" ry="0.45" fill="#3a2420"/>
<ellipse cx="810" cy="182.4" rx="1.6" ry="0.7" fill="#f4e8e4"/>
</g>
<circle cx="805.5" cy="195.9" r="0.62" fill="#e8283a"/>
<circle cx="806.5" cy="195.9" r="0.62" fill="#e8283a"/>
<polygon points="804.9,196.1 807.1,196.1 806,197.4" fill="#e8283a"/>
<circle cx="809.9" cy="195.9" r="0.62" fill="#e8283a"/>
<circle cx="810.9" cy="195.9" r="0.62" fill="#e8283a"/>
<polygon points="809.3,196.1 811.5,196.1 810.4,197.4" fill="#e8283a"/>
<circle cx="814.3" cy="195.9" r="0.62" fill="#e8283a"/>
<circle cx="815.3" cy="195.9" r="0.62" fill="#e8283a"/>
<polygon points="813.7,196.1 815.9,196.1 814.8,197.4" fill="#e8283a"/>
<polyline points="699.1,213.1 700.9,210 702.7,213.1 699.1,213.1" fill="none" stroke="#999" stroke-width="0.45" stroke-linejoin="round" stroke-linecap="round"/>
<text x="706.7" y="213" font-size="4.1" fill="#111" font-weight="700" stroke="#111" stroke-width="0.14" textLength="32.6" lengthAdjust="spacingAndGlyphs">Description Info</text>
<rect x="780.7" y="207.4" width="49.8" height="7.6" fill="#e7e7ec" rx="3.8"/>
<circle cx="784.7" cy="211.5" r="2.9" fill="#000" opacity="0.2" filter="url(#bS)"/>
<circle cx="784.7" cy="211.2" r="2.9" fill="#fff"/>
<circle cx="784.7" cy="211.2" r="1.5" fill="none" stroke="#aaa" stroke-width="0.35"/>
<text x="791.7" y="212.5" font-size="3.5" fill="#111" font-weight="700" stroke="#111" stroke-width="0.12" textLength="19.9" lengthAdjust="spacingAndGlyphs">14-22 Aug</text>
<text x="696.8" y="221.6" font-size="2.6" fill="#333" textLength="130.7" lengthAdjust="spacingAndGlyphs" stroke="#333" stroke-width="0.07">Lorem Ipsum has been the industry's standard dummy text ever since the 1500s, when an unknown printer took</text>
<text x="696.8" y="225.3" font-size="2.6" fill="#333" textLength="42" lengthAdjust="spacingAndGlyphs" stroke="#333" stroke-width="0.07">Lorem Ipsum has been the industry'</text>
<rect x="707.5" y="249.7" width="7.6" height="12" fill="#f6931e"/>
<rect x="707.5" y="261.7" width="7.6" height="5" fill="#7a2b80"/>
<rect x="707.5" y="266.7" width="7.6" height="2" fill="#fc5606"/>
<text x="711.3" y="274.2" font-size="2.85" fill="#858585" text-anchor="middle">M</text>
<rect x="725.5" y="240.8" width="7.6" height="10" fill="#f6931e"/>
<rect x="725.5" y="250.8" width="7.6" height="12.5" fill="#7a2b80"/>
<rect x="725.5" y="263.3" width="7.6" height="5.4" fill="#fc5606"/>
<text x="729.3" y="274.2" font-size="2.85" fill="#858585" text-anchor="middle">T</text>
<rect x="743.2" y="236.2" width="7.6" height="14.6" fill="#f6931e"/>
<rect x="743.2" y="250.8" width="7.6" height="10" fill="#7a2b80"/>
<rect x="743.2" y="260.8" width="7.6" height="7.9" fill="#fc5606"/>
<text x="747" y="274.2" font-size="2.85" fill="#858585" text-anchor="middle">W</text>
<rect x="761" y="247.5" width="7.6" height="7.2" fill="#f6931e"/>
<rect x="761" y="254.7" width="7.6" height="5" fill="#7a2b80"/>
<rect x="761" y="259.7" width="7.6" height="9" fill="#fc5606"/>
<text x="764.8" y="274.2" font-size="2.85" fill="#858585" text-anchor="middle">Th</text>
<rect x="778.9" y="255" width="7.6" height="4.7" fill="#f6931e"/>
<rect x="778.9" y="259.7" width="7.6" height="7" fill="#7a2b80"/>
<rect x="778.9" y="266.7" width="7.6" height="2" fill="#fc5606"/>
<text x="782.7" y="274.2" font-size="2.85" fill="#858585" text-anchor="middle">F</text>
<rect x="796.6" y="250" width="7.6" height="7.2" fill="#f6931e"/>
<rect x="796.6" y="257.2" width="7.6" height="5" fill="#7a2b80"/>
<rect x="796.6" y="262.2" width="7.6" height="6.5" fill="#fc5606"/>
<text x="800.4" y="274.2" font-size="2.85" fill="#858585" text-anchor="middle">Sa</text>
<rect x="814.3" y="257.5" width="7.6" height="2.2" fill="#f6931e"/>
<rect x="814.3" y="259.7" width="7.6" height="4.5" fill="#7a2b80"/>
<rect x="814.3" y="264.2" width="7.6" height="4.5" fill="#fc5606"/>
<text x="818.1" y="274.2" font-size="2.85" fill="#858585" text-anchor="middle">Su</text>
</g>
<clipPath id="cc20"><rect x="31.6" y="298.4" width="269.6" height="152.3"/></clipPath>
<g clip-path="url(#cc20)">
<rect x="31.6" y="298.4" width="42" height="152.3" fill="#fe5a03"/>
<rect x="61.2" y="298.4" width="240" height="152.3" fill="#fff" rx="8"/>
<rect x="91.6" y="298.4" width="209.6" height="152.3" fill="#fff"/>
<clipPath id="av20"><circle cx="47.1" cy="315.9" r="9"/></clipPath><g clip-path="url(#av20)">
<circle cx="47.1" cy="315.9" r="9" fill="#8f9daa"/>
<ellipse cx="52.3" cy="315" rx="4.2" ry="8.5" fill="#b3bfcb"/>
<ellipse cx="40.8" cy="314" rx="1.6" ry="5" fill="#4a6658"/>
<ellipse cx="45.6" cy="313.2" rx="3.7" ry="6.8" fill="#231815"/>
<ellipse cx="47.1" cy="323.4" rx="5.2" ry="5" fill="#dde1e8"/>
<ellipse cx="47.2" cy="313" rx="1.45" ry="2.3" fill="#dba888"/>
<ellipse cx="47.2" cy="316.2" rx="1" ry="1.2" fill="#c89070"/>
<ellipse cx="54.3" cy="319.5" rx="1.4" ry="1.8" fill="#3a3a42"/>
</g>
<rect x="43.6" y="339.7" width="6.8" height="6.4" fill="#ffe3d6" rx="1.2" stroke="#ffe3d6" stroke-width="0.9" opacity="0.92" fill-opacity="0.35"/>
<path d="M43.8 341.9L50.2 341.9" stroke="#ffe3d6" stroke-width="0.8" fill="none" opacity="0.92"/>
<path d="M45 344L49 344" stroke="#ffe3d6" stroke-width="0.7" fill="none" opacity="0.92"/>
<polygon points="43.8,353.9 50.2,353.9 47.7,357.3 47.7,360.3 46.3,359.6 46.3,357.3" fill="#ffe3d6" stroke="#ffe3d6" stroke-width="0.9" stroke-linejoin="round" opacity="0.92" fill-opacity="0.35"/>
<circle cx="49.5" cy="358.6" r="1" fill="#ffe3d6" opacity="0.92"/>
<circle cx="47" cy="372.6" r="3.2" fill="#ffe3d6" stroke="#ffe3d6" stroke-width="0.9" opacity="0.92" fill-opacity="0.35"/>
<circle cx="47" cy="372.6" r="1.3" fill="none" stroke="#ffe3d6" stroke-width="0.7" opacity="0.92"/>
<path d="M43.9 372.6L50.1 372.6" stroke="#ffe3d6" stroke-width="0.6" fill="none" opacity="0.92"/>
<circle cx="47" cy="387.3" r="3.2" fill="#ffe3d6" stroke="#ffe3d6" stroke-width="0.9" opacity="0.92" fill-opacity="0.35"/>
<polyline points="44.9,386.5 47,388.1 49.1,386.5" fill="none" stroke="#ffe3d6" stroke-width="0.8" stroke-linejoin="round" stroke-linecap="round" opacity="0.92"/>
<rect x="43.7" y="398" width="6.6" height="5.2" fill="#e54b08" rx="0.8" stroke="#e54b08" stroke-width="0.9" fill-opacity="0.4"/>
<path d="M43.7 400.4L50.3 400.4" stroke="#e54b08" stroke-width="0.7" fill="none"/>
<path d="M45.7 397.1L48.3 397.1" stroke="#e54b08" stroke-width="0.8" fill="none"/>
<rect x="74" y="307.5" width="208.1" height="19.6" fill="#fc5606" rx="5"/>
<circle cx="70.9" cy="317.6" r="5.5" fill="#000" opacity="0.38" filter="url(#bS)"/>
<circle cx="70.9" cy="317" r="5.5" fill="#fff"/>
<path d="M68 317L73.2 317" stroke="#f4511e" stroke-width="0.6" fill="none"/>
<polyline points="72,315.8 73.4,317 72,318.2" fill="none" stroke="#f4511e" stroke-width="0.6" stroke-linejoin="round" stroke-linecap="round"/>
<text x="83.2" y="318.6" font-size="4" fill="#fff" textLength="8.6" lengthAdjust="spacingAndGlyphs">Sari</text>
<text x="93.1" y="318.6" font-size="4" fill="#fff" font-weight="700" stroke="#fff" stroke-width="0.14" textLength="13.8" lengthAdjust="spacingAndGlyphs">LEMON</text>
<text x="138.9" y="318.3" font-size="3.2" fill="#fff" textLength="27.6" lengthAdjust="spacingAndGlyphs" opacity="0.92">Total projects: 125</text>
<text x="177.7" y="318.3" font-size="3.2" fill="#fff" textLength="21.3" lengthAdjust="spacingAndGlyphs" opacity="0.92">70% income</text>
<text x="224.4" y="315.6" font-size="2.3" fill="#fff" textLength="11" lengthAdjust="spacingAndGlyphs" stroke="#fff" stroke-width="0.13">Lorem Ipsu</text>
<path d="M224.4 319.1L262 319.1" stroke="#fff" stroke-width="0.5" fill="none" opacity="0.5"/>
<path d="M225.7 318.9L247 318.9" stroke="#fff" stroke-width="2.6" fill="none" stroke-linecap="round"/>
<text x="261.7" y="317.4" font-size="3.5" fill="#fff" font-weight="700" stroke="#fff" stroke-width="0.12" textLength="10.8" lengthAdjust="spacingAndGlyphs">$48k</text>
<circle cx="102.9" cy="362.7" r="30.5" fill="#fff" stroke="#f6f6f6" stroke-width="0.8"/>
<path d="M89.79 379.48A21.3 21.3 0 0 1 88.65 346.87" fill="none" stroke="#7a2b80" stroke-width="3" stroke-linecap="butt"/>
<path d="M112.68 342.66A22.3 22.3 0 0 1 119.73 377.33" fill="none" stroke="#f4511e" stroke-width="3" stroke-linecap="butt"/>
<polygon points="98.6,375.2 93.6,378 94.1,371.6" fill="#7a2b80"/>
<circle cx="92" cy="379.8" r="2.8" fill="#fff" stroke="#7a2b80" stroke-width="0.7"/>
<text x="92" y="387.4" font-size="2.4" fill="#3a1a4a" text-anchor="middle" font-weight="700">25%</text>
<polygon points="107.3,349.5 113.3,347.6 111.7,353.6" fill="#f4511e"/>
<circle cx="110.3" cy="344.3" r="2.8" fill="#fff" stroke="#f4511e" stroke-width="0.7"/>
<text x="118.6" y="342.7" font-size="2.4" fill="#f4511e" font-weight="700" textLength="8.5" lengthAdjust="spacingAndGlyphs">+7.5%</text>
<circle cx="102.9" cy="363.5" r="12.1" fill="#000" opacity="0.3" filter="url(#bL)"/>
<circle cx="102.9" cy="362.7" r="12.1" fill="#fff"/>
<text x="102.9" y="362.36" font-size="4.6" fill="#111" text-anchor="middle" font-weight="700" stroke="#111" stroke-width="0.16" textLength="11.5" lengthAdjust="spacingAndGlyphs">73%</text>
<text x="102.9" y="367.1" font-size="2.5" fill="#f4511e" text-anchor="middle">total</text>
<text x="148.7" y="341.8" font-size="3.5" fill="#111" font-weight="700" stroke="#111" stroke-width="0.12" textLength="19.4" lengthAdjust="spacingAndGlyphs">Description</text>
<text x="148.7" y="351" font-size="6" fill="#111" font-weight="700" stroke="#111" stroke-width="0.21" textLength="22.3" lengthAdjust="spacingAndGlyphs">18.984</text>
<circle cx="234.9" cy="343.5" r="0.9" fill="#f4a080"/>
<text x="238" y="344.3" font-size="2.4" fill="#f4511e" font-weight="700" textLength="5.6" lengthAdjust="spacingAndGlyphs">+8%</text>
<text x="245.8" y="344.3" font-size="2.5" fill="#aaa" textLength="14.2" lengthAdjust="spacingAndGlyphs" stroke="#aaa" stroke-width="0.07">Lorem Ipsum </text>
<polygon points="149.7,382.8 149.7,366.1 161.17,355.5 172.65,363.6 184.12,369.1 195.59,370.3 207.06,366.6 218.54,358.2 230.01,353.5 241.48,361.9 252.96,373.3 264.43,351 275.9,352.7 275.9,382.8" fill="#7a2b80"/>
<polygon points="149.7,382.8 149.7,375.3 161.17,369.4 172.65,373.3 184.12,376.1 195.59,376.9 207.06,374.9 218.54,370.6 230.01,368.2 241.48,372.8 252.96,376.9 264.43,365.2 275.9,368.2 275.9,382.8" fill="#fc5606"/>
<text x="149.7" y="388.4" font-size="2.85" fill="#858585" text-anchor="middle">Jan</text>
<text x="161.17" y="388.4" font-size="2.85" fill="#858585" text-anchor="middle">Feb</text>
<text x="172.65" y="388.4" font-size="2.85" fill="#858585" text-anchor="middle">Mar</text>
<text x="184.12" y="388.4" font-size="2.85" fill="#858585" text-anchor="middle">Apr</text>
<text x="195.59" y="388.4" font-size="2.85" fill="#858585" text-anchor="middle">May</text>
<text x="207.06" y="388.4" font-size="2.85" fill="#858585" text-anchor="middle">Jun</text>
<text x="218.54" y="388.4" font-size="2.85" fill="#858585" text-anchor="middle">Jul</text>
<text x="230.01" y="388.4" font-size="2.85" fill="#858585" text-anchor="middle">Aug</text>
<text x="241.48" y="388.4" font-size="2.85" fill="#858585" text-anchor="middle">Sep</text>
<text x="252.96" y="388.4" font-size="2.85" fill="#858585" text-anchor="middle">Oct</text>
<text x="264.43" y="388.4" font-size="2.85" fill="#858585" text-anchor="middle">Nov</text>
<text x="275.9" y="388.4" font-size="2.85" fill="#858585" text-anchor="middle">Dec</text>
<rect x="71" y="399.5" width="70" height="40" fill="#fff" rx="3" stroke="#f3f3f3" stroke-width="0.6"/>
<path d="M80.5 407.3L134.7 407.3" stroke="#f9c2ae" stroke-width="0.5" fill="none"/>
<text x="77.5" y="408.1" font-size="2.55" fill="#858585" text-anchor="middle">1</text>
<path d="M80.5 413.3L134.7 413.3" stroke="#fbe6df" stroke-width="0.5" fill="none"/>
<text x="77.5" y="414.1" font-size="2.55" fill="#858585" text-anchor="middle">0.8</text>
<path d="M80.5 419.5L134.7 419.5" stroke="#fbe6df" stroke-width="0.5" fill="none"/>
<text x="77.5" y="420.3" font-size="2.55" fill="#858585" text-anchor="middle">0.6</text>
<path d="M80.5 425.7L134.7 425.7" stroke="#fbe6df" stroke-width="0.5" fill="none"/>
<text x="77.5" y="426.5" font-size="2.55" fill="#858585" text-anchor="middle">0.4</text>
<path d="M80.5 431.7L134.7 431.7" stroke="#fbe6df" stroke-width="0.5" fill="none"/>
<text x="77.5" y="432.5" font-size="2.55" fill="#858585" text-anchor="middle">0</text>
<polyline points="100.5,419 113.8,415.3" fill="none" stroke="#fbd3c5" stroke-width="0.6" stroke-linejoin="round" stroke-linecap="round"/>
<polyline points="88.3,410.7 100.5,417.8 113.8,414.5 127.7,409.5" fill="none" stroke="#f3a085" stroke-width="0.65" stroke-linejoin="round" stroke-linecap="round"/>
<polyline points="88.3,421.7 100.5,417 113.8,412.5 127.7,421.7" fill="none" stroke="#9c7888" stroke-width="0.65" stroke-linejoin="round" stroke-linecap="round"/>
<text x="88.3" y="436.6" font-size="2.65" fill="#858585" text-anchor="middle">Q1</text>
<text x="100.8" y="436.6" font-size="2.65" fill="#858585" text-anchor="middle">Q2</text>
<text x="114.2" y="436.6" font-size="2.65" fill="#858585" text-anchor="middle">Q3</text>
<text x="127.7" y="436.6" font-size="2.65" fill="#858585" text-anchor="middle">Q4</text>
<circle cx="156" cy="415.7" r="5" fill="#f4511e"/>
<circle cx="156" cy="415.7" r="4.3" fill="none" stroke="#d63a10" stroke-width="0.6"/>
<circle cx="156" cy="415.3" r="1.6" fill="none" stroke="#fff" stroke-width="0.4" opacity="0.6"/>
<text x="164.3" y="415" font-size="4.7" fill="#111" font-weight="700" stroke="#111" stroke-width="0.16" textLength="11" lengthAdjust="spacingAndGlyphs">45%</text>
<text x="164.3" y="419.2" font-size="2.5" fill="#aaa" textLength="15.5" lengthAdjust="spacingAndGlyphs" stroke="#aaa" stroke-width="0.07">Lorem Ipsum h</text>
<text x="151" y="429.2" font-size="2.8" fill="#222" textLength="32" lengthAdjust="spacingAndGlyphs" stroke="#222" stroke-width="0.08">Lorem Ipsum is simply</text>
<text x="151" y="433.3" font-size="2.8" fill="#222" textLength="40" lengthAdjust="spacingAndGlyphs" stroke="#222" stroke-width="0.08">dummy text of the printing</text>
<text x="151" y="437.4" font-size="2.8" fill="#222" textLength="35.2" lengthAdjust="spacingAndGlyphs" stroke="#222" stroke-width="0.08">and typesetting industry.</text>
<circle cx="207.7" cy="415.7" r="5" fill="#7a2b80"/>
<circle cx="207.7" cy="415.7" r="4.3" fill="none" stroke="#5a1a60" stroke-width="0.6"/>
<circle cx="207.7" cy="415.3" r="1.6" fill="none" stroke="#fff" stroke-width="0.4" opacity="0.6"/>
<text x="216" y="415" font-size="4.7" fill="#111" font-weight="700" stroke="#111" stroke-width="0.16" textLength="11" lengthAdjust="spacingAndGlyphs">19%</text>
<text x="216" y="419.2" font-size="2.5" fill="#aaa" textLength="15.5" lengthAdjust="spacingAndGlyphs" stroke="#aaa" stroke-width="0.07">Lorem Ipsum h</text>
<text x="202.7" y="429.2" font-size="2.8" fill="#222" textLength="31.36" lengthAdjust="spacingAndGlyphs" stroke="#222" stroke-width="0.08">Lorem Ipsum is simply</text>
<text x="202.7" y="433.3" font-size="2.8" fill="#222" textLength="39.2" lengthAdjust="spacingAndGlyphs" stroke="#222" stroke-width="0.08">dummy text of the printing</text>
<text x="202.7" y="437.4" font-size="2.8" fill="#222" textLength="34.5" lengthAdjust="spacingAndGlyphs" stroke="#222" stroke-width="0.08">and typesetting industry.</text>
<rect x="255.5" y="403.7" width="31.3" height="35.3" fill="#f8161f" rx="3.5"/>
<rect x="267.7" y="409.4" width="7.2" height="6.8" fill="#fff" rx="1"/>
<polyline points="269.6,412.8 271,414.2 273.4,411.3" fill="none" stroke="#f8161f" stroke-width="0.8" stroke-linejoin="round" stroke-linecap="round"/>
<text x="263" y="422.5" font-size="2.6" fill="#fff" textLength="15.8" lengthAdjust="spacingAndGlyphs" stroke="#fff" stroke-width="0.13">Lorem Ipsum </text>
<text x="261.3" y="432.5" font-size="6.6" fill="#fff" font-weight="700" stroke="#fff" stroke-width="0.23" textLength="19.5" lengthAdjust="spacingAndGlyphs">100%</text>
</g>
<clipPath id="cc21"><rect x="315.9" y="298.4" width="269.6" height="152.3"/></clipPath>
<g clip-path="url(#cc21)">
<rect x="315.9" y="298.4" width="42" height="152.3" fill="#fe5a03"/>
<rect x="346.3" y="298.4" width="239.2" height="152.3" fill="#fff" rx="8"/>
<rect x="375.9" y="298.4" width="209.6" height="152.3" fill="#fff"/>
<rect x="330.3" y="339.1" width="6.8" height="6.4" fill="#ffe3d6" rx="1.2" stroke="#ffe3d6" stroke-width="0.9" opacity="0.92" fill-opacity="0.35"/>
<path d="M330.5 341.3L336.9 341.3" stroke="#ffe3d6" stroke-width="0.8" fill="none" opacity="0.92"/>
<path d="M331.7 343.4L335.7 343.4" stroke="#ffe3d6" stroke-width="0.7" fill="none" opacity="0.92"/>
<polygon points="330.5,353.8 336.9,353.8 334.4,357.2 334.4,360.2 333,359.5 333,357.2" fill="#ffe3d6" stroke="#ffe3d6" stroke-width="0.9" stroke-linejoin="round" opacity="0.92" fill-opacity="0.35"/>
<circle cx="336.2" cy="358.5" r="1" fill="#ffe3d6" opacity="0.92"/>
<circle cx="333.7" cy="371.9" r="3.2" fill="#ffe3d6" stroke="#ffe3d6" stroke-width="0.9" opacity="0.92" fill-opacity="0.35"/>
<circle cx="333.7" cy="371.9" r="1.3" fill="none" stroke="#ffe3d6" stroke-width="0.7" opacity="0.92"/>
<path d="M330.6 371.9L336.8 371.9" stroke="#ffe3d6" stroke-width="0.6" fill="none" opacity="0.92"/>
<circle cx="333.7" cy="386.6" r="3.2" fill="#ffe3d6" stroke="#ffe3d6" stroke-width="0.9" opacity="0.92" fill-opacity="0.35"/>
<polyline points="331.6,385.8 333.7,387.4 335.8,385.8" fill="none" stroke="#ffe3d6" stroke-width="0.8" stroke-linejoin="round" stroke-linecap="round" opacity="0.92"/>
<rect x="330.4" y="398.2" width="6.6" height="5.2" fill="#e54b08" rx="0.8" stroke="#e54b08" stroke-width="0.9" fill-opacity="0.4"/>
<path d="M330.4 400.6L337 400.6" stroke="#e54b08" stroke-width="0.7" fill="none"/>
<path d="M332.4 397.3L335 397.3" stroke="#e54b08" stroke-width="0.8" fill="none"/>
<rect x="350.8" y="302.5" width="54" height="39" fill="#fff" rx="3.5" stroke="#f3f3f3" stroke-width="0.6"/>
<path d="M351.7 307L351.7 333.1" stroke="#e8421a" stroke-width="1.1" fill="none"/>
<text x="360" y="312.9" font-size="4.8" fill="#111" font-weight="700" stroke="#111" stroke-width="0.17" textLength="28.9" lengthAdjust="spacingAndGlyphs">Ed Nickson</text>
<circle cx="397.3" cy="311.2" r="3.4" fill="#f4511e"/>
<text x="397.3" y="311.88" font-size="1.9" fill="#fff" text-anchor="middle" font-weight="700">50%</text>
<text x="360" y="320.4" font-size="2.7" fill="#f4511e" textLength="14.7" lengthAdjust="spacingAndGlyphs" stroke="#f4511e" stroke-width="0.07">Lorem Ipsum</text>
<text x="360" y="327.6" font-size="2.6" fill="#999" textLength="39" lengthAdjust="spacingAndGlyphs" stroke="#999" stroke-width="0.07">Lorem Ipsum has been the indust</text>
<text x="360" y="331.4" font-size="2.6" fill="#999" textLength="39" lengthAdjust="spacingAndGlyphs" stroke="#999" stroke-width="0.07">Lorem Ipsum has been the indust</text>
<text x="360" y="335.4" font-size="2.6" fill="#999" textLength="6" lengthAdjust="spacingAndGlyphs" stroke="#999" stroke-width="0.07">Lore</text>
<rect x="412.3" y="302.5" width="73.5" height="39" fill="#fff" rx="3.5" stroke="#f3f3f3" stroke-width="0.6"/>
<circle cx="421.5" cy="309.7" r="3.9" fill="#f4511e"/>
<circle cx="421.5" cy="309.7" r="1.7" fill="none" stroke="#fff" stroke-width="0.4" opacity="0.7"/>
<text x="417.4" y="320.1" font-size="3.5" fill="#111" font-weight="700" stroke="#111" stroke-width="0.12" textLength="19.4" lengthAdjust="spacingAndGlyphs">Description</text>
<text x="417.7" y="329.3" font-size="6" fill="#111" font-weight="700" stroke="#111" stroke-width="0.21" textLength="21.4" lengthAdjust="spacingAndGlyphs">18.984</text>
<path d="M419.9 335.3L419.9 337.9" stroke="#f4511e" stroke-width="0.4" fill="none"/>
<text x="423.2" y="337.5" font-size="2.7" fill="#f4511e" font-weight="700" stroke="#f4511e" stroke-width="0.1">+12%</text>
<text x="430.4" y="337.5" font-size="2.5" fill="#aaa" textLength="14.5" lengthAdjust="spacingAndGlyphs" stroke="#aaa" stroke-width="0.07">Lorem Ipsum </text>
<path d="M479.2 307.1L481.8 307.1" stroke="#f4511e" stroke-width="0.4" fill="none"/>
<path d="M468.4 313.5A10.5 10.5 0 1 1 466.22 334.27" fill="none" stroke="#ee4416" stroke-width="2.3" stroke-linecap="butt"/>
<circle cx="468.4" cy="324.6" r="6.7" fill="#000" opacity="0.3" filter="url(#bS)"/>
<circle cx="468.4" cy="324" r="6.7" fill="#fff"/>
<text x="468.4" y="325.19" font-size="3.3" fill="#222" text-anchor="middle" font-weight="700" stroke="#222" stroke-width="0.12" textLength="7.6" lengthAdjust="spacingAndGlyphs">62%</text>
<rect x="492.7" y="302.5" width="73.9" height="39" fill="#fff" rx="3.5" stroke="#f3f3f3" stroke-width="0.6"/>
<circle cx="501.9" cy="309.7" r="3.9" fill="#5a2a9c"/>
<circle cx="501.9" cy="309.7" r="1.7" fill="none" stroke="#fff" stroke-width="0.4" opacity="0.7"/>
<text x="497.8" y="320.1" font-size="3.5" fill="#111" font-weight="700" stroke="#111" stroke-width="0.12" textLength="19.4" lengthAdjust="spacingAndGlyphs">Description</text>
<text x="498.1" y="329.3" font-size="6" fill="#111" font-weight="700" stroke="#111" stroke-width="0.21" textLength="17.2" lengthAdjust="spacingAndGlyphs">7.426</text>
<path d="M500.3 335.3L500.3 337.9" stroke="#4a2a6a" stroke-width="0.4" fill="none"/>
<text x="503.6" y="337.5" font-size="2.7" fill="#4a2a6a" font-weight="700" stroke="#4a2a6a" stroke-width="0.1">+8%</text>
<text x="510.8" y="337.5" font-size="2.5" fill="#aaa" textLength="14.5" lengthAdjust="spacingAndGlyphs" stroke="#aaa" stroke-width="0.07">Lorem Ipsum </text>
<path d="M560 307.1L562.6 307.1" stroke="#4a2a6a" stroke-width="0.4" fill="none"/>
<path d="M554.68 314.74A11.3 11.3 0 0 1 556.86 331.26" fill="none" stroke="#5a1a5e" stroke-width="2.5" stroke-linecap="butt"/>
<circle cx="548.2" cy="324.6" r="6.7" fill="#000" opacity="0.3" filter="url(#bS)"/>
<circle cx="548.2" cy="324" r="6.7" fill="#fff"/>
<text x="548.2" y="325.19" font-size="3.3" fill="#222" text-anchor="middle" font-weight="700" stroke="#222" stroke-width="0.12" textLength="7.6" lengthAdjust="spacingAndGlyphs">25%</text>
<rect x="351.6" y="348.2" width="214.6" height="58.8" fill="#fff" rx="3.5" stroke="#f3f3f3" stroke-width="0.6"/>
<circle cx="360.8" cy="356.6" r="1.5" fill="none" stroke="#f4a080" stroke-width="0.4"/>
<text x="367.2" y="357.9" font-size="3.9" fill="#111" font-weight="700" stroke="#111" stroke-width="0.14" textLength="31.8" lengthAdjust="spacingAndGlyphs">Description Info</text>
<text x="357.2" y="367" font-size="3" fill="#222" textLength="53.5" lengthAdjust="spacingAndGlyphs" stroke="#222" stroke-width="0.07">Lorem Ipsum has been the industry's</text>
<text x="357.2" y="371.17" font-size="3" fill="#222" textLength="51.5" lengthAdjust="spacingAndGlyphs" stroke="#222" stroke-width="0.07">standard dummy text ever since the</text>
<text x="357.2" y="375.34" font-size="3" fill="#222" textLength="56.3" lengthAdjust="spacingAndGlyphs" stroke="#222" stroke-width="0.07">1500s, when an unknown printer took</text>
<text x="357.2" y="379.51" font-size="3" fill="#222" textLength="52.7" lengthAdjust="spacingAndGlyphs" stroke="#222" stroke-width="0.07">a galley of type and scrambled book.</text>
<circle cx="361.8" cy="393.1" r="4.2" fill="#000" opacity="0.28" filter="url(#bS)"/>
<circle cx="361.8" cy="392.5" r="4.2" fill="#fff"/>
<path d="M360.2 392.5L363.4 392.5" stroke="#f4a080" stroke-width="0.5" fill="none"/>
<text x="368" y="396.7" font-size="10.2" fill="#111" font-weight="700" stroke="#111" stroke-width="0.36" textLength="29.3" lengthAdjust="spacingAndGlyphs">&gt;23k</text>
<path d="M430 360.7L558 360.7" stroke="#f3e4e0" stroke-width="0.45" fill="none"/>
<path d="M430 368.6L558 368.6" stroke="#f3e4e0" stroke-width="0.45" fill="none"/>
<path d="M430 377.4L558 377.4" stroke="#f3e4e0" stroke-width="0.45" fill="none"/>
<path d="M430 386.1L558 386.1" stroke="#f3e4e0" stroke-width="0.45" fill="none"/>
<rect x="433.85" y="379.4" width="3.1" height="7.2" fill="#6a1f6e"/>
<rect x="433.85" y="386.6" width="3.1" height="7.9" fill="#f4490f"/>
<text x="435.4" y="399.5" font-size="2.75" fill="#858585" text-anchor="middle">Jan</text>
<rect x="444.49" y="367.7" width="3.1" height="12.6" fill="#6a1f6e"/>
<rect x="444.49" y="380.3" width="3.1" height="14.2" fill="#f4490f"/>
<text x="446.04" y="399.5" font-size="2.75" fill="#858585" text-anchor="middle">Feb</text>
<rect x="455.12" y="374.1" width="3.1" height="9.5" fill="#6a1f6e"/>
<rect x="455.12" y="383.6" width="3.1" height="10.9" fill="#f4490f"/>
<text x="456.67" y="399.5" font-size="2.75" fill="#858585" text-anchor="middle">Mar</text>
<rect x="465.76" y="380" width="3.1" height="6.6" fill="#6a1f6e"/>
<rect x="465.76" y="386.6" width="3.1" height="7.9" fill="#f4490f"/>
<text x="467.31" y="399.5" font-size="2.75" fill="#858585" text-anchor="middle">Apr</text>
<rect x="476.39" y="381.1" width="3.1" height="6.4" fill="#6a1f6e"/>
<rect x="476.39" y="387.5" width="3.1" height="7" fill="#f4490f"/>
<text x="477.94" y="399.5" font-size="2.75" fill="#858585" text-anchor="middle">May</text>
<rect x="487.03" y="377.4" width="3.1" height="8.7" fill="#6a1f6e"/>
<rect x="487.03" y="386.1" width="3.1" height="8.4" fill="#f4490f"/>
<text x="488.58" y="399.5" font-size="2.75" fill="#858585" text-anchor="middle">Jun</text>
<rect x="497.67" y="368.6" width="3.1" height="13" fill="#6a1f6e"/>
<rect x="497.67" y="381.6" width="3.1" height="12.9" fill="#f4490f"/>
<text x="499.22" y="399.5" font-size="2.75" fill="#858585" text-anchor="middle">Jul</text>
<rect x="508.3" y="366.9" width="3.1" height="11.7" fill="#6a1f6e"/>
<rect x="508.3" y="378.6" width="3.1" height="15.9" fill="#f4490f"/>
<text x="509.85" y="399.5" font-size="2.75" fill="#858585" text-anchor="middle">Aug</text>
<rect x="518.94" y="372.3" width="3.1" height="11" fill="#6a1f6e"/>
<rect x="518.94" y="383.3" width="3.1" height="11.2" fill="#f4490f"/>
<text x="520.49" y="399.5" font-size="2.75" fill="#858585" text-anchor="middle">Sep</text>
<rect x="529.57" y="384.5" width="3.1" height="4.5" fill="#6a1f6e"/>
<rect x="529.57" y="389" width="3.1" height="5.5" fill="#f4490f"/>
<text x="531.12" y="399.5" font-size="2.75" fill="#858585" text-anchor="middle">Oct</text>
<rect x="540.21" y="361.6" width="3.1" height="14.5" fill="#6a1f6e"/>
<rect x="540.21" y="376.1" width="3.1" height="18.4" fill="#f4490f"/>
<text x="541.76" y="399.5" font-size="2.75" fill="#858585" text-anchor="middle">Nov</text>
<rect x="550.85" y="363.6" width="3.1" height="15" fill="#6a1f6e"/>
<rect x="550.85" y="378.6" width="3.1" height="15.9" fill="#f4490f"/>
<text x="552.4" y="399.5" font-size="2.75" fill="#858585" text-anchor="middle">Dec</text>
<polygon points="445.8,361.7 449.9,367.9 441.7,367.9" fill="#f4490f"/>
<text x="445.6" y="358.6" font-size="2.8" fill="#f4511e" text-anchor="middle" font-weight="700" stroke="#f4511e" stroke-width="0.1" textLength="8.7" lengthAdjust="spacingAndGlyphs">$ 17k</text>
<polygon points="510.1,360.5 514.2,367.1 506,367.1" fill="#6a1f6e"/>
<text x="510" y="358.1" font-size="2.8" fill="#4a1a50" text-anchor="middle" font-weight="700" stroke="#4a1a50" stroke-width="0.1" textLength="8" lengthAdjust="spacingAndGlyphs">$ 27k</text>
<rect x="524.8" y="352.2" width="35.4" height="5.5" fill="#f4511e" rx="2.75"/>
<text x="542.5" y="356.04" font-size="2.9" fill="#fff" text-anchor="middle" font-weight="700" stroke="#fff" stroke-width="0.1" textLength="25" lengthAdjust="spacingAndGlyphs">Yearly Analytics</text>
<path d="M359.2 431.2L558.3 431.2" stroke="#fbd9cd" stroke-width="0.4" fill="none"/>
<text x="359.2" y="415.3" font-size="2.35" fill="#a4a4a4" text-anchor="middle" textLength="7.5" lengthAdjust="spacingAndGlyphs" stroke="#a4a4a4" stroke-width="0.07">Lorem </text>
<text x="359.2" y="418.8" font-size="2.35" fill="#a4a4a4" text-anchor="middle" textLength="12.5" lengthAdjust="spacingAndGlyphs" stroke="#a4a4a4" stroke-width="0.07">Lorem Ipsum</text>
<text x="359.2" y="422.3" font-size="2.35" fill="#a4a4a4" text-anchor="middle" textLength="12" lengthAdjust="spacingAndGlyphs" stroke="#a4a4a4" stroke-width="0.07">Lorem Ipsu</text>
<text x="359.2" y="425.8" font-size="2.35" fill="#a4a4a4" text-anchor="middle" textLength="4.5" lengthAdjust="spacingAndGlyphs" stroke="#a4a4a4" stroke-width="0.07">Lore</text>
<circle cx="359.2" cy="431.2" r="2.4" fill="#f4490f"/>
<circle cx="359.2" cy="431.2" r="0.9" fill="none" stroke="#fff" stroke-width="0.3" opacity="0.6"/>
<text x="359.2" y="439.32" font-size="3.1" fill="#111" text-anchor="middle" font-weight="700" stroke="#111" stroke-width="0.11">Jan</text>
<text x="377.3" y="415.3" font-size="2.35" fill="#a4a4a4" text-anchor="middle" textLength="7.5" lengthAdjust="spacingAndGlyphs" stroke="#a4a4a4" stroke-width="0.07">Lorem </text>
<text x="377.3" y="418.8" font-size="2.35" fill="#a4a4a4" text-anchor="middle" textLength="12.5" lengthAdjust="spacingAndGlyphs" stroke="#a4a4a4" stroke-width="0.07">Lorem Ipsum</text>
<text x="377.3" y="422.3" font-size="2.35" fill="#a4a4a4" text-anchor="middle" textLength="12" lengthAdjust="spacingAndGlyphs" stroke="#a4a4a4" stroke-width="0.07">Lorem Ipsu</text>
<text x="377.3" y="425.8" font-size="2.35" fill="#a4a4a4" text-anchor="middle" textLength="4.5" lengthAdjust="spacingAndGlyphs" stroke="#a4a4a4" stroke-width="0.07">Lore</text>
<circle cx="377.3" cy="431.2" r="2.4" fill="#f4490f"/>
<circle cx="377.3" cy="431.2" r="0.9" fill="none" stroke="#fff" stroke-width="0.3" opacity="0.6"/>
<text x="377.3" y="439.32" font-size="3.1" fill="#111" text-anchor="middle" font-weight="700" stroke="#111" stroke-width="0.11">Feb</text>
<text x="395.4" y="415.3" font-size="2.35" fill="#a4a4a4" text-anchor="middle" textLength="7.5" lengthAdjust="spacingAndGlyphs" stroke="#a4a4a4" stroke-width="0.07">Lorem </text>
<text x="395.4" y="418.8" font-size="2.35" fill="#a4a4a4" text-anchor="middle" textLength="12.5" lengthAdjust="spacingAndGlyphs" stroke="#a4a4a4" stroke-width="0.07">Lorem Ipsum</text>
<text x="395.4" y="422.3" font-size="2.35" fill="#a4a4a4" text-anchor="middle" textLength="12" lengthAdjust="spacingAndGlyphs" stroke="#a4a4a4" stroke-width="0.07">Lorem Ipsu</text>
<text x="395.4" y="425.8" font-size="2.35" fill="#a4a4a4" text-anchor="middle" textLength="4.5" lengthAdjust="spacingAndGlyphs" stroke="#a4a4a4" stroke-width="0.07">Lore</text>
<circle cx="395.4" cy="431.2" r="2.4" fill="#f4490f"/>
<circle cx="395.4" cy="431.2" r="0.9" fill="none" stroke="#fff" stroke-width="0.3" opacity="0.6"/>
<text x="395.4" y="439.32" font-size="3.1" fill="#111" text-anchor="middle" font-weight="700" stroke="#111" stroke-width="0.11">Mar</text>
<text x="413.5" y="415.3" font-size="2.35" fill="#a4a4a4" text-anchor="middle" textLength="7.5" lengthAdjust="spacingAndGlyphs" stroke="#a4a4a4" stroke-width="0.07">Lorem </text>
<text x="413.5" y="418.8" font-size="2.35" fill="#a4a4a4" text-anchor="middle" textLength="12.5" lengthAdjust="spacingAndGlyphs" stroke="#a4a4a4" stroke-width="0.07">Lorem Ipsum</text>
<text x="413.5" y="422.3" font-size="2.35" fill="#a4a4a4" text-anchor="middle" textLength="12" lengthAdjust="spacingAndGlyphs" stroke="#a4a4a4" stroke-width="0.07">Lorem Ipsu</text>
<text x="413.5" y="425.8" font-size="2.35" fill="#a4a4a4" text-anchor="middle" textLength="4.5" lengthAdjust="spacingAndGlyphs" stroke="#a4a4a4" stroke-width="0.07">Lore</text>
<circle cx="413.5" cy="431.2" r="2.4" fill="#f4490f"/>
<circle cx="413.5" cy="431.2" r="0.9" fill="none" stroke="#fff" stroke-width="0.3" opacity="0.6"/>
<text x="413.5" y="439.32" font-size="3.1" fill="#111" text-anchor="middle" font-weight="700" stroke="#111" stroke-width="0.11">Apr</text>
<text x="431.6" y="415.3" font-size="2.35" fill="#a4a4a4" text-anchor="middle" textLength="7.5" lengthAdjust="spacingAndGlyphs" stroke="#a4a4a4" stroke-width="0.07">Lorem </text>
<text x="431.6" y="418.8" font-size="2.35" fill="#a4a4a4" text-anchor="middle" textLength="12.5" lengthAdjust="spacingAndGlyphs" stroke="#a4a4a4" stroke-width="0.07">Lorem Ipsum</text>
<text x="431.6" y="422.3" font-size="2.35" fill="#a4a4a4" text-anchor="middle" textLength="12" lengthAdjust="spacingAndGlyphs" stroke="#a4a4a4" stroke-width="0.07">Lorem Ipsu</text>
<text x="431.6" y="425.8" font-size="2.35" fill="#a4a4a4" text-anchor="middle" textLength="4.5" lengthAdjust="spacingAndGlyphs" stroke="#a4a4a4" stroke-width="0.07">Lore</text>
<circle cx="431.6" cy="431.2" r="2.4" fill="#f4490f"/>
<circle cx="431.6" cy="431.2" r="0.9" fill="none" stroke="#fff" stroke-width="0.3" opacity="0.6"/>
<text x="431.6" y="439.32" font-size="3.1" fill="#111" text-anchor="middle" font-weight="700" stroke="#111" stroke-width="0.11">May</text>
<text x="449.7" y="415.3" font-size="2.35" fill="#a4a4a4" text-anchor="middle" textLength="7.5" lengthAdjust="spacingAndGlyphs" stroke="#a4a4a4" stroke-width="0.07">Lorem </text>
<text x="449.7" y="418.8" font-size="2.35" fill="#a4a4a4" text-anchor="middle" textLength="12.5" lengthAdjust="spacingAndGlyphs" stroke="#a4a4a4" stroke-width="0.07">Lorem Ipsum</text>
<text x="449.7" y="422.3" font-size="2.35" fill="#a4a4a4" text-anchor="middle" textLength="12" lengthAdjust="spacingAndGlyphs" stroke="#a4a4a4" stroke-width="0.07">Lorem Ipsu</text>
<text x="449.7" y="425.8" font-size="2.35" fill="#a4a4a4" text-anchor="middle" textLength="4.5" lengthAdjust="spacingAndGlyphs" stroke="#a4a4a4" stroke-width="0.07">Lore</text>
<circle cx="449.7" cy="431.2" r="2.4" fill="#f4490f"/>
<circle cx="449.7" cy="431.2" r="0.9" fill="none" stroke="#fff" stroke-width="0.3" opacity="0.6"/>
<text x="449.7" y="439.32" font-size="3.1" fill="#111" text-anchor="middle" font-weight="700" stroke="#111" stroke-width="0.11">Jun</text>
<text x="467.8" y="415.3" font-size="2.35" fill="#a4a4a4" text-anchor="middle" textLength="7.5" lengthAdjust="spacingAndGlyphs" stroke="#a4a4a4" stroke-width="0.07">Lorem </text>
<text x="467.8" y="418.8" font-size="2.35" fill="#a4a4a4" text-anchor="middle" textLength="12.5" lengthAdjust="spacingAndGlyphs" stroke="#a4a4a4" stroke-width="0.07">Lorem Ipsum</text>
<text x="467.8" y="422.3" font-size="2.35" fill="#a4a4a4" text-anchor="middle" textLength="12" lengthAdjust="spacingAndGlyphs" stroke="#a4a4a4" stroke-width="0.07">Lorem Ipsu</text>
<text x="467.8" y="425.8" font-size="2.35" fill="#a4a4a4" text-anchor="middle" textLength="4.5" lengthAdjust="spacingAndGlyphs" stroke="#a4a4a4" stroke-width="0.07">Lore</text>
<circle cx="467.8" cy="431.2" r="2.4" fill="#5a1a5e"/>
<circle cx="467.8" cy="431.2" r="0.9" fill="none" stroke="#fff" stroke-width="0.3" opacity="0.6"/>
<text x="467.8" y="439.32" font-size="3.1" fill="#111" text-anchor="middle" font-weight="700" stroke="#111" stroke-width="0.11">Jul</text>
<text x="485.9" y="415.3" font-size="2.35" fill="#a4a4a4" text-anchor="middle" textLength="7.5" lengthAdjust="spacingAndGlyphs" stroke="#a4a4a4" stroke-width="0.07">Lorem </text>
<text x="485.9" y="418.8" font-size="2.35" fill="#a4a4a4" text-anchor="middle" textLength="12.5" lengthAdjust="spacingAndGlyphs" stroke="#a4a4a4" stroke-width="0.07">Lorem Ipsum</text>
<text x="485.9" y="422.3" font-size="2.35" fill="#a4a4a4" text-anchor="middle" textLength="12" lengthAdjust="spacingAndGlyphs" stroke="#a4a4a4" stroke-width="0.07">Lorem Ipsu</text>
<text x="485.9" y="425.8" font-size="2.35" fill="#a4a4a4" text-anchor="middle" textLength="4.5" lengthAdjust="spacingAndGlyphs" stroke="#a4a4a4" stroke-width="0.07">Lore</text>
<circle cx="485.9" cy="431.2" r="2.4" fill="#f4490f"/>
<circle cx="485.9" cy="431.2" r="0.9" fill="none" stroke="#fff" stroke-width="0.3" opacity="0.6"/>
<text x="485.9" y="439.32" font-size="3.1" fill="#111" text-anchor="middle" font-weight="700" stroke="#111" stroke-width="0.11">Aug</text>
<text x="504" y="415.3" font-size="2.35" fill="#a4a4a4" text-anchor="middle" textLength="7.5" lengthAdjust="spacingAndGlyphs" stroke="#a4a4a4" stroke-width="0.07">Lorem </text>
<text x="504" y="418.8" font-size="2.35" fill="#a4a4a4" text-anchor="middle" textLength="12.5" lengthAdjust="spacingAndGlyphs" stroke="#a4a4a4" stroke-width="0.07">Lorem Ipsum</text>
<text x="504" y="422.3" font-size="2.35" fill="#a4a4a4" text-anchor="middle" textLength="12" lengthAdjust="spacingAndGlyphs" stroke="#a4a4a4" stroke-width="0.07">Lorem Ipsu</text>
<text x="504" y="425.8" font-size="2.35" fill="#a4a4a4" text-anchor="middle" textLength="4.5" lengthAdjust="spacingAndGlyphs" stroke="#a4a4a4" stroke-width="0.07">Lore</text>
<circle cx="504" cy="431.2" r="2.4" fill="#f4490f"/>
<circle cx="504" cy="431.2" r="0.9" fill="none" stroke="#fff" stroke-width="0.3" opacity="0.6"/>
<text x="504" y="439.32" font-size="3.1" fill="#111" text-anchor="middle" font-weight="700" stroke="#111" stroke-width="0.11">Sep</text>
<text x="522.1" y="415.3" font-size="2.35" fill="#a4a4a4" text-anchor="middle" textLength="7.5" lengthAdjust="spacingAndGlyphs" stroke="#a4a4a4" stroke-width="0.07">Lorem </text>
<text x="522.1" y="418.8" font-size="2.35" fill="#a4a4a4" text-anchor="middle" textLength="12.5" lengthAdjust="spacingAndGlyphs" stroke="#a4a4a4" stroke-width="0.07">Lorem Ipsum</text>
<text x="522.1" y="422.3" font-size="2.35" fill="#a4a4a4" text-anchor="middle" textLength="12" lengthAdjust="spacingAndGlyphs" stroke="#a4a4a4" stroke-width="0.07">Lorem Ipsu</text>
<text x="522.1" y="425.8" font-size="2.35" fill="#a4a4a4" text-anchor="middle" textLength="4.5" lengthAdjust="spacingAndGlyphs" stroke="#a4a4a4" stroke-width="0.07">Lore</text>
<circle cx="522.1" cy="431.2" r="2.4" fill="#f4490f"/>
<circle cx="522.1" cy="431.2" r="0.9" fill="none" stroke="#fff" stroke-width="0.3" opacity="0.6"/>
<text x="522.1" y="439.32" font-size="3.1" fill="#111" text-anchor="middle" font-weight="700" stroke="#111" stroke-width="0.11">Oct</text>
<text x="540.2" y="415.3" font-size="2.35" fill="#a4a4a4" text-anchor="middle" textLength="7.5" lengthAdjust="spacingAndGlyphs" stroke="#a4a4a4" stroke-width="0.07">Lorem </text>
<text x="540.2" y="418.8" font-size="2.35" fill="#a4a4a4" text-anchor="middle" textLength="12.5" lengthAdjust="spacingAndGlyphs" stroke="#a4a4a4" stroke-width="0.07">Lorem Ipsum</text>
<text x="540.2" y="422.3" font-size="2.35" fill="#a4a4a4" text-anchor="middle" textLength="12" lengthAdjust="spacingAndGlyphs" stroke="#a4a4a4" stroke-width="0.07">Lorem Ipsu</text>
<text x="540.2" y="425.8" font-size="2.35" fill="#a4a4a4" text-anchor="middle" textLength="4.5" lengthAdjust="spacingAndGlyphs" stroke="#a4a4a4" stroke-width="0.07">Lore</text>
<circle cx="540.2" cy="431.2" r="2.4" fill="#3d1a8f"/>
<circle cx="540.2" cy="431.2" r="0.9" fill="none" stroke="#fff" stroke-width="0.3" opacity="0.6"/>
<text x="540.2" y="439.32" font-size="3.1" fill="#111" text-anchor="middle" font-weight="700" stroke="#111" stroke-width="0.11">Nov</text>
<text x="558.3" y="415.3" font-size="2.35" fill="#a4a4a4" text-anchor="middle" textLength="7.5" lengthAdjust="spacingAndGlyphs" stroke="#a4a4a4" stroke-width="0.07">Lorem </text>
<text x="558.3" y="418.8" font-size="2.35" fill="#a4a4a4" text-anchor="middle" textLength="12.5" lengthAdjust="spacingAndGlyphs" stroke="#a4a4a4" stroke-width="0.07">Lorem Ipsum</text>
<text x="558.3" y="422.3" font-size="2.35" fill="#a4a4a4" text-anchor="middle" textLength="12" lengthAdjust="spacingAndGlyphs" stroke="#a4a4a4" stroke-width="0.07">Lorem Ipsu</text>
<text x="558.3" y="425.8" font-size="2.35" fill="#a4a4a4" text-anchor="middle" textLength="4.5" lengthAdjust="spacingAndGlyphs" stroke="#a4a4a4" stroke-width="0.07">Lore</text>
<circle cx="558.3" cy="431.2" r="2.4" fill="#3d1a8f"/>
<circle cx="558.3" cy="431.2" r="0.9" fill="none" stroke="#fff" stroke-width="0.3" opacity="0.6"/>
<text x="558.3" y="439.32" font-size="3.1" fill="#111" text-anchor="middle" font-weight="700" stroke="#111" stroke-width="0.11">Dec</text>
</g>
<clipPath id="cc22"><rect x="600" y="298.4" width="269.6" height="152.3"/></clipPath>
<g clip-path="url(#cc22)">
<rect x="827.6" y="298.4" width="42" height="152.3" fill="#fe5a03"/>
<rect x="600" y="298.4" width="239.7" height="152.3" fill="#fff" rx="8"/>
<rect x="600" y="298.4" width="209.6" height="152.3" fill="#fff"/>
<circle cx="854.8" cy="312.9" r="4.7" fill="#6a2a8c"/>
<rect x="852.9" y="311.2" width="3.8" height="3.4" fill="none" rx="0.5" stroke="#fff" stroke-width="0.5" opacity="0.9"/>
<path d="M852.9 312.4L856.7 312.4" stroke="#fff" stroke-width="0.4" fill="none" opacity="0.9"/>
<circle cx="859" cy="308.7" r="0.8" fill="#e8321a"/>
<text x="854.8" y="321.7" font-size="2.9" fill="#fff" text-anchor="middle" font-weight="700" stroke="#fff" stroke-width="0.1" textLength="17.2" lengthAdjust="spacingAndGlyphs" opacity="0.95">PROJECT 2</text>
<circle cx="854.8" cy="355" r="4.9" fill="#fff" opacity="0.14"/>
<circle cx="854.8" cy="355" r="1.87" fill="none" stroke="#fff" stroke-width="0.45" opacity="0.6"/>
<rect x="854.1" y="354.4" width="1.4" height="1.2" fill="#fff" rx="0.3" opacity="0.65"/>
<circle cx="854.8" cy="370.4" r="4.9" fill="#fff" opacity="0.14"/>
<circle cx="854.8" cy="370.4" r="1.87" fill="none" stroke="#fff" stroke-width="0.45" opacity="0.6"/>
<rect x="854.1" y="369.8" width="1.4" height="1.2" fill="#fff" rx="0.3" opacity="0.65"/>
<circle cx="854.8" cy="385.5" r="4.9" fill="#fff" opacity="0.14"/>
<circle cx="854.8" cy="385.5" r="1.87" fill="none" stroke="#fff" stroke-width="0.45" opacity="0.6"/>
<rect x="854.1" y="384.9" width="1.4" height="1.2" fill="#fff" rx="0.3" opacity="0.65"/>
<circle cx="854.8" cy="400.5" r="4.9" fill="#fff" opacity="0.14"/>
<circle cx="854.8" cy="400.5" r="1.87" fill="none" stroke="#fff" stroke-width="0.45" opacity="0.6"/>
<rect x="854.1" y="399.9" width="1.4" height="1.2" fill="#fff" rx="0.3" opacity="0.65"/>
<circle cx="854.8" cy="414.6" r="4.9" fill="#fff" opacity="0.14"/>
<circle cx="854.8" cy="414.6" r="1.87" fill="none" stroke="#fff" stroke-width="0.45" opacity="0.6"/>
<rect x="854.1" y="414" width="1.4" height="1.2" fill="#fff" rx="0.3" opacity="0.65"/>
<rect x="617.7" y="307.5" width="208.6" height="19.6" fill="#fc5606" rx="5"/>
<clipPath id="av22"><circle cx="634.2" cy="318.1" r="13.1"/></clipPath>
<g clip-path="url(#av22)">
<circle cx="634.2" cy="318.1" r="13.1" fill="#9aa5a6"/>
<ellipse cx="637.8" cy="318" rx="8.2" ry="12" fill="#3e2a24"/>
<ellipse cx="641" cy="312.5" rx="3" ry="5.5" fill="#6b4a3a"/>
<ellipse cx="643.5" cy="322" rx="2.2" ry="5" fill="#7a4a34"/>
<ellipse cx="630.5" cy="309.3" rx="5.8" ry="3.2" fill="#2a1a16"/>
<ellipse cx="626" cy="330.5" rx="6.5" ry="4.2" fill="#1c2138"/>
<ellipse cx="628.8" cy="316.3" rx="3.6" ry="4.9" fill="#e2b8a4"/>
<ellipse cx="627.6" cy="318.3" rx="1.3" ry="1" fill="#e59a8a"/>
<path d="M625.4 315.2L632.4 315.2" stroke="#4a3028" stroke-width="0.6" fill="none"/>
<ellipse cx="629.6" cy="324.2" rx="3.6" ry="2.7" fill="#d9af94"/>
<ellipse cx="633.3" cy="329.5" rx="2.2" ry="4.2" fill="#dcb89e"/>
</g>
<circle cx="829" cy="318.2" r="5.5" fill="#000" opacity="0.38" filter="url(#bS)"/>
<circle cx="829" cy="317.6" r="5.5" fill="#fff"/>
<path d="M826.1 317.6L831.3 317.6" stroke="#6a2a7c" stroke-width="0.6" fill="none"/>
<polyline points="830.1,316.4 831.5,317.6 830.1,318.8" fill="none" stroke="#6a2a7c" stroke-width="0.6" stroke-linejoin="round" stroke-linecap="round"/>
<text x="651.5" y="317.6" font-size="4.2" fill="#fff" font-weight="700" stroke="#fff" stroke-width="0.15" textLength="27.3" lengthAdjust="spacingAndGlyphs">Amanda Frost</text>
<text x="651.5" y="321.3" font-size="2.6" fill="#fff" textLength="24.8" lengthAdjust="spacingAndGlyphs" opacity="0.9">PROJECT MANAGER</text>
<text x="695.5" y="315.5" font-size="2.6" fill="#fff" textLength="56.4" lengthAdjust="spacingAndGlyphs" stroke="#fff" stroke-width="0.13">Lorem Ipsum has been the industry's standard d</text>
<text x="695.5" y="318.8" font-size="2.6" fill="#fff" textLength="52.7" lengthAdjust="spacingAndGlyphs" stroke="#fff" stroke-width="0.13">Lorem Ipsum has been the industry's standar</text>
<text x="695.5" y="322.2" font-size="2.6" fill="#fff" textLength="36.4" lengthAdjust="spacingAndGlyphs" stroke="#fff" stroke-width="0.13">Lorem Ipsum has been the indu</text>
<text x="766.6" y="316.3" font-size="2.3" fill="#fff" textLength="12" lengthAdjust="spacingAndGlyphs" stroke="#fff" stroke-width="0.13">Lorem Ipsum</text>
<path d="M766.6 319L804.6 319" stroke="#fff" stroke-width="0.5" fill="none" opacity="0.7"/>
<path d="M767.8 318.9L788.3 318.9" stroke="#6f2a7c" stroke-width="2.5" fill="none" stroke-linecap="round"/>
<text x="806.8" y="317.9" font-size="3.3" fill="#fff" font-weight="700" stroke="#fff" stroke-width="0.12" textLength="7.5" lengthAdjust="spacingAndGlyphs">68%</text>
<rect x="619.9" y="335.1" width="68.9" height="107.7" fill="#fff" rx="3" stroke="#f3f3f3" stroke-width="0.6"/>
<path d="M625.8 338.8L625.8 399.9" stroke="#fbd0c2" stroke-width="0.5" fill="none"/>
<polygon points="624.3,338 627.3,338 625.8,339.8" fill="#e8321a"/>
<circle cx="625.05" cy="338" r="0.75" fill="#e8321a"/>
<circle cx="626.55" cy="338" r="0.75" fill="#e8321a"/>
<polygon points="624.3,343 627.3,343 625.8,344.8" fill="#e8321a"/>
<circle cx="625.05" cy="343" r="0.75" fill="#e8321a"/>
<circle cx="626.55" cy="343" r="0.75" fill="#e8321a"/>
<polygon points="624.3,348 627.3,348 625.8,349.8" fill="#e8321a"/>
<circle cx="625.05" cy="348" r="0.75" fill="#e8321a"/>
<circle cx="626.55" cy="348" r="0.75" fill="#e8321a"/>
<polygon points="624.3,353.1 627.3,353.1 625.8,354.9" fill="#e8321a"/>
<circle cx="625.05" cy="353.1" r="0.75" fill="#e8321a"/>
<circle cx="626.55" cy="353.1" r="0.75" fill="#e8321a"/>
<polygon points="624.3,358.1 627.3,358.1 625.8,359.9" fill="#e8321a"/>
<circle cx="625.05" cy="358.1" r="0.75" fill="#e8321a"/>
<circle cx="626.55" cy="358.1" r="0.75" fill="#e8321a"/>
<circle cx="625.8" cy="399.9" r="1.8" fill="#e8321a"/>
<text x="634.8" y="345.2" font-size="5" fill="#111" font-weight="700" stroke="#111" stroke-width="0.18" textLength="29.8" lengthAdjust="spacingAndGlyphs">Description</text>
<circle cx="680.4" cy="340.4" r="4.2" fill="#000" opacity="0.28" filter="url(#bS)"/>
<circle cx="680.4" cy="339.7" r="4.2" fill="#fff"/>
<path d="M678.8 339.7L682 339.7" stroke="#f4511e" stroke-width="0.5" fill="none"/>
<text x="634.8" y="352.1" font-size="2.6" fill="#333" textLength="32.2" lengthAdjust="spacingAndGlyphs" stroke="#333" stroke-width="0.07">Lorem Ipsum has been the i</text>
<text x="634.8" y="355.4" font-size="2.6" fill="#333" textLength="38.5" lengthAdjust="spacingAndGlyphs" stroke="#333" stroke-width="0.07">Lorem Ipsum has been the indust</text>
<circle cx="650.7" cy="364.7" r="2.7" fill="none" stroke="#4a2a9c" stroke-width="0.7"/>
<polygon points="648.6,369.6 652.8,369.6 650.7,366.6" fill="#f4511e"/>
<path d="M648.2 369.8L653.2 369.8" stroke="#f4511e" stroke-width="0.7" fill="none"/>
<text x="655" y="363.5" font-size="2.3" fill="#4a2a6a" font-weight="700" textLength="8" lengthAdjust="spacingAndGlyphs">$125k</text>
<rect x="634" y="373.9" width="21.9" height="12.7" fill="#fc5606"/>
<rect x="655.9" y="373.9" width="12" height="12.7" fill="#7a2b80"/>
<rect x="667.9" y="373.9" width="10.4" height="12.7" fill="#f6931e"/>
<text x="633.6" y="393.4" font-size="2.75" fill="#858585" text-anchor="middle">0%</text>
<text x="644.5" y="393.4" font-size="2.75" fill="#858585" text-anchor="middle">25%</text>
<text x="655.7" y="393.4" font-size="2.75" fill="#858585" text-anchor="middle">50%</text>
<text x="667.1" y="393.4" font-size="2.75" fill="#858585" text-anchor="middle">75%</text>
<text x="678.4" y="393.4" font-size="2.75" fill="#858585" text-anchor="middle">100%</text>
<rect x="627.7" y="401.2" width="56.3" height="36.1" fill="#fdcfc0" rx="1"/>
<text x="631.9" y="408.1" font-size="3.4" fill="#f4511e" font-weight="700" stroke="#f4511e" stroke-width="0.12" textLength="19.7" lengthAdjust="spacingAndGlyphs">Description</text>
<text x="631.9" y="413.9" font-size="2.6" fill="#2a2a2a" textLength="49" lengthAdjust="spacingAndGlyphs" stroke="#2a2a2a" stroke-width="0.04">Lorem Ipsum has been the industry's stan</text>
<text x="631.9" y="417.3" font-size="2.6" fill="#2a2a2a" textLength="49" lengthAdjust="spacingAndGlyphs" stroke="#2a2a2a" stroke-width="0.04">dard dummy text ever since the 1500s, wh</text>
<text x="631.9" y="420.7" font-size="2.6" fill="#2a2a2a" textLength="49" lengthAdjust="spacingAndGlyphs" stroke="#2a2a2a" stroke-width="0.04">en an unknown printer took a galley of t</text>
<text x="631.9" y="424.1" font-size="2.6" fill="#2a2a2a" textLength="49" lengthAdjust="spacingAndGlyphs" stroke="#2a2a2a" stroke-width="0.04">ype and scrambled it to make a type spec</text>
<text x="631.9" y="427.5" font-size="2.6" fill="#2a2a2a" textLength="27" lengthAdjust="spacingAndGlyphs" stroke="#2a2a2a" stroke-width="0.04">Lorem Ipsum has been t</text>
<path d="M727.3 340.85A17.35 17.35 0 0 1 727.3 375.55" fill="none" stroke="#fc5606" stroke-width="9.7" stroke-linecap="butt"/>
<path d="M727.3 375.55A17.35 17.35 0 0 1 712.43 367.14" fill="none" stroke="#7a2b80" stroke-width="9.7" stroke-linecap="butt"/>
<path d="M712.43 367.14A17.35 17.35 0 0 1 727.3 340.85" fill="none" stroke="#f6931e" stroke-width="9.7" stroke-linecap="butt"/>
<circle cx="727.3" cy="353.6" r="1.5" fill="none" stroke="#f4a080" stroke-width="0.45"/>
<path d="M727.3 355.2L727.3 356.6" stroke="#f4a080" stroke-width="0.45" fill="none"/>
<text x="727.3" y="362.44" font-size="2.6" fill="#f4511e" text-anchor="middle">total</text>
<circle cx="776.5" cy="339.8" r="4.5" fill="#f4511e"/>
<rect x="775" y="338.2" width="3" height="3.2" fill="none" rx="0.4" stroke="#fff" stroke-width="0.45" opacity="0.85"/>
<text x="787" y="340.7" font-size="4.7" fill="#111" font-weight="700" stroke="#111" stroke-width="0.16" textLength="19.8" lengthAdjust="spacingAndGlyphs">$45 908</text>
<text x="786.5" y="345.6" font-size="2.7" fill="#555" textLength="28.6" lengthAdjust="spacingAndGlyphs" stroke="#555" stroke-width="0.07">Lorem Ipsum has been t</text>
<circle cx="776.5" cy="357.7" r="4.5" fill="#7a2b80"/>
<rect x="775" y="356.1" width="3" height="3.2" fill="none" rx="0.4" stroke="#fff" stroke-width="0.45" opacity="0.85"/>
<text x="787" y="357.6" font-size="4.7" fill="#111" font-weight="700" stroke="#111" stroke-width="0.16" textLength="19.8" lengthAdjust="spacingAndGlyphs">$31 821</text>
<text x="786.5" y="362.4" font-size="2.7" fill="#555" textLength="28.6" lengthAdjust="spacingAndGlyphs" stroke="#555" stroke-width="0.07">Lorem Ipsum has been t</text>
<circle cx="776.5" cy="375.6" r="4.5" fill="#f6931e"/>
<rect x="775" y="374" width="3" height="3.2" fill="none" rx="0.4" stroke="#fff" stroke-width="0.45" opacity="0.85"/>
<text x="787" y="375.4" font-size="4.7" fill="#111" font-weight="700" stroke="#111" stroke-width="0.16" textLength="19.8" lengthAdjust="spacingAndGlyphs">$12 994</text>
<text x="786.5" y="380.2" font-size="2.7" fill="#555" textLength="28.6" lengthAdjust="spacingAndGlyphs" stroke="#555" stroke-width="0.07">Lorem Ipsum has been t</text>
<rect x="697.7" y="388.7" width="49.1" height="54.1" fill="#fff" rx="3" stroke="#f3f3f3" stroke-width="0.6"/>
<path d="M727.2 399.96A12.4 12.4 0 0 1 729.3 419.91" fill="none" stroke="#e03a1a" stroke-width="2" stroke-linecap="round"/>
<circle cx="721" cy="411.7" r="7" fill="#000" opacity="0.3" filter="url(#bL)"/>
<circle cx="721" cy="410.7" r="7" fill="#fff"/>
<text x="721" y="411.89" font-size="3.3" fill="#222" text-anchor="middle" font-weight="700" stroke="#222" stroke-width="0.12" textLength="7.8" lengthAdjust="spacingAndGlyphs">49%</text>
<text x="721" y="434.06" font-size="3.5" fill="#111" text-anchor="middle" font-weight="700" stroke="#111" stroke-width="0.12" textLength="10" lengthAdjust="spacingAndGlyphs">$4.6k</text>
<text x="721" y="437.5" font-size="2.5" fill="#aaa" text-anchor="middle" textLength="15" lengthAdjust="spacingAndGlyphs" stroke="#aaa" stroke-width="0.07">Lorem Ipsum </text>
<path d="M767.74 399.55A12.4 12.4 0 0 1 764.36 423.57" fill="none" stroke="#4a1a3a" stroke-width="2" stroke-linecap="round"/>
<circle cx="763.5" cy="412.2" r="7" fill="#000" opacity="0.3" filter="url(#bL)"/>
<circle cx="763.5" cy="411.2" r="7" fill="#fff"/>
<text x="763.5" y="412.39" font-size="3.3" fill="#222" text-anchor="middle" font-weight="700" stroke="#222" stroke-width="0.12" textLength="7.8" lengthAdjust="spacingAndGlyphs">34%</text>
<text x="763.5" y="434.06" font-size="3.5" fill="#111" text-anchor="middle" font-weight="700" stroke="#111" stroke-width="0.12" textLength="9" lengthAdjust="spacingAndGlyphs">+75k</text>
<text x="763.5" y="437.5" font-size="2.5" fill="#aaa" text-anchor="middle" textLength="15" lengthAdjust="spacingAndGlyphs" stroke="#aaa" stroke-width="0.07">Lorem Ipsum </text>
<path d="M813.99 402.54A12.7 12.7 0 0 1 816.3 416.37" fill="none" stroke="#f6931e" stroke-width="2" stroke-linecap="round"/>
<circle cx="804.7" cy="412.2" r="7" fill="#000" opacity="0.3" filter="url(#bL)"/>
<circle cx="804.7" cy="411.2" r="7" fill="#fff"/>
<text x="804.7" y="412.39" font-size="3.3" fill="#222" text-anchor="middle" font-weight="700" stroke="#222" stroke-width="0.12" textLength="7.8" lengthAdjust="spacingAndGlyphs">13%</text>
<text x="804.7" y="434.06" font-size="3.5" fill="#111" text-anchor="middle" font-weight="700" stroke="#111" stroke-width="0.12" textLength="13" lengthAdjust="spacingAndGlyphs">17.893</text>
<text x="804.7" y="437.5" font-size="2.5" fill="#aaa" text-anchor="middle" textLength="15" lengthAdjust="spacingAndGlyphs" stroke="#aaa" stroke-width="0.07">Lorem Ipsum </text>
</g>
<clipPath id="cc30"><rect x="31.6" y="464.7" width="269.6" height="152.3"/></clipPath>
<g clip-path="url(#cc30)">
<rect x="41.4" y="474.2" width="248.7" height="74.1" fill="#fc5a05" rx="4"/>
<text x="56.8" y="488.1" font-size="6.6" fill="#fff" font-weight="700" stroke="#fff" stroke-width="0.23" textLength="30.6" lengthAdjust="spacingAndGlyphs">+$79 905</text>
<circle cx="105.8" cy="486.2" r="4" fill="#000" opacity="0.3" filter="url(#bS)"/>
<circle cx="105.8" cy="485.6" r="4" fill="#fff"/>
<text x="105.8" y="486.32" font-size="2" fill="#777" text-anchor="middle" font-weight="700">+7%</text>
<text x="56.8" y="495.2" font-size="2.5" fill="#fff" textLength="27" lengthAdjust="spacingAndGlyphs" stroke="#fff" stroke-width="0.13">Lorem Ipsum has been t</text>
<text x="179.2" y="488.1" font-size="6.6" fill="#fff" font-weight="700" stroke="#fff" stroke-width="0.23" textLength="30.6" lengthAdjust="spacingAndGlyphs">+$79 905</text>
<circle cx="228.2" cy="486.2" r="4" fill="#000" opacity="0.3" filter="url(#bS)"/>
<circle cx="228.2" cy="485.6" r="4" fill="#fff"/>
<text x="228.2" y="486.32" font-size="2" fill="#777" text-anchor="middle" font-weight="700">+7%</text>
<text x="179.2" y="495.2" font-size="2.5" fill="#fff" textLength="27" lengthAdjust="spacingAndGlyphs" stroke="#fff" stroke-width="0.13">Lorem Ipsum has been t</text>
<circle cx="66.5" cy="528.1" r="12" fill="#000" opacity="0.35" filter="url(#bL)"/>
<circle cx="66.5" cy="526.9" r="12" fill="#fff"/>
<text x="66.5" y="530.64" font-size="10.4" fill="#111" text-anchor="middle" font-weight="700" stroke="#111" stroke-width="0.36" textLength="22.2" lengthAdjust="spacingAndGlyphs">147</text>
<path d="M92 539L170 539" stroke="#ff7a30" stroke-width="0.4" fill="none"/>
<rect x="97.4" y="526.9" width="3.4" height="12" fill="#f7a11f"/>
<text x="99.1" y="525.6" font-size="2.4" fill="#fff" text-anchor="middle" font-weight="700" stroke="#fff" stroke-width="0.1">0.8</text>
<rect x="103.2" y="505.5" width="3.4" height="33.4" fill="#f7a11f"/>
<text x="104.9" y="504.2" font-size="2.4" fill="#fff" text-anchor="middle" font-weight="700" stroke="#fff" stroke-width="0.1">0.8</text>
<rect x="109.1" y="509" width="3.4" height="29.9" fill="#f7a11f"/>
<text x="110.8" y="507.7" font-size="2.4" fill="#fff" text-anchor="middle" font-weight="700" stroke="#fff" stroke-width="0.1">0.8</text>
<rect x="114.6" y="520.5" width="3.4" height="18.4" fill="#f7a11f"/>
<text x="116.3" y="519.2" font-size="2.4" fill="#fff" text-anchor="middle" font-weight="700" stroke="#fff" stroke-width="0.1">0.8</text>
<rect x="120.3" y="509.3" width="3.4" height="29.6" fill="#f7a11f"/>
<text x="122" y="508" font-size="2.4" fill="#fff" text-anchor="middle" font-weight="700" stroke="#fff" stroke-width="0.1">0.8</text>
<rect x="125.8" y="518.2" width="3.4" height="20.7" fill="#f7a11f"/>
<text x="127.5" y="516.9" font-size="2.4" fill="#fff" text-anchor="middle" font-weight="700" stroke="#fff" stroke-width="0.1">0.8</text>
<rect x="131.3" y="526.9" width="3.4" height="12" fill="#f7a11f"/>
<text x="133" y="525.6" font-size="2.4" fill="#fff" text-anchor="middle" font-weight="700" stroke="#fff" stroke-width="0.1">0.8</text>
<rect x="137.5" y="505.5" width="3.4" height="33.4" fill="#f7a11f"/>
<text x="139.2" y="504.2" font-size="2.4" fill="#fff" text-anchor="middle" font-weight="700" stroke="#fff" stroke-width="0.1">0.8</text>
<rect x="143" y="509" width="3.4" height="29.9" fill="#f7a11f"/>
<text x="144.7" y="507.7" font-size="2.4" fill="#fff" text-anchor="middle" font-weight="700" stroke="#fff" stroke-width="0.1">0.8</text>
<rect x="148.7" y="520.5" width="3.4" height="18.4" fill="#f7a11f"/>
<text x="150.4" y="519.2" font-size="2.4" fill="#fff" text-anchor="middle" font-weight="700" stroke="#fff" stroke-width="0.1">0.8</text>
<rect x="154.6" y="531.1" width="3.4" height="7.8" fill="#f7a11f"/>
<text x="156.3" y="529.8" font-size="2.4" fill="#fff" text-anchor="middle" font-weight="700" stroke="#fff" stroke-width="0.1">0.8</text>
<path d="M209.5 507.7A13.7 13.7 0 0 1 216.14 533.38" fill="none" stroke="#fff" stroke-width="9.8" stroke-linecap="butt"/>
<path d="M216.14 533.38A13.7 13.7 0 0 1 206.19 534.69" fill="none" stroke="#7a2b80" stroke-width="9.8" stroke-linecap="butt"/>
<path d="M206.19 534.69A13.7 13.7 0 0 1 196.8 516.27" fill="none" stroke="#f7a11f" stroke-width="9.8" stroke-linecap="butt"/>
<path d="M196.8 516.27A13.7 13.7 0 0 1 209.5 507.7" fill="none" stroke="#f4870f" stroke-width="9.8" stroke-linecap="butt"/>
<circle cx="242.8" cy="512.2" r="1.5" fill="#fff"/>
<text x="246.6" y="513.1" font-size="2.6" fill="#fff" textLength="16.4" lengthAdjust="spacingAndGlyphs" stroke="#fff" stroke-width="0.13">Lorem Ipsum h</text>
<circle cx="242.8" cy="516.4" r="1.5" fill="#7a2b80"/>
<text x="246.6" y="517.3" font-size="2.6" fill="#fff" textLength="33.4" lengthAdjust="spacingAndGlyphs" stroke="#fff" stroke-width="0.13">Lorem Ipsum has been the in</text>
<circle cx="242.8" cy="520.2" r="1.5" fill="#f7a11f"/>
<text x="246.6" y="521.1" font-size="2.6" fill="#fff" textLength="17" lengthAdjust="spacingAndGlyphs" stroke="#fff" stroke-width="0.13">Lorem Ipsum h</text>
<circle cx="242.8" cy="524" r="1.5" fill="#f7941e"/>
<text x="246.6" y="524.9" font-size="2.6" fill="#fff" textLength="18.4" lengthAdjust="spacingAndGlyphs" stroke="#fff" stroke-width="0.13">Lorem Ipsum has</text>
<text x="53" y="560.7" font-size="3.5" fill="#111" font-weight="700" stroke="#111" stroke-width="0.12" textLength="19.7" lengthAdjust="spacingAndGlyphs">Description</text>
<text x="53" y="567.1" font-size="2.6" fill="#222" textLength="71.7" lengthAdjust="spacingAndGlyphs" stroke="#222" stroke-width="0.07">Lorem Ipsum has been the industry's standard dummy text ev</text>
<circle cx="158.3" cy="563.2" r="4.5" fill="#ea1a22"/>
<text x="158.3" y="564.03" font-size="2.3" fill="#fff" text-anchor="middle" font-weight="700">24%</text>
<rect x="49.3" y="572.8" width="97.5" height="19.7" fill="#fdcfc0" rx="2.5"/>
<text x="53" y="581" font-size="3.5" fill="#f4511e" font-weight="700" stroke="#f4511e" stroke-width="0.12" textLength="19.7" lengthAdjust="spacingAndGlyphs">Description</text>
<text x="53" y="587.4" font-size="2.6" fill="#222" textLength="71.7" lengthAdjust="spacingAndGlyphs" stroke="#222" stroke-width="0.07">Lorem Ipsum has been the industry's standard dummy text ev</text>
<circle cx="158.3" cy="582.8" r="7" fill="#fc5606"/>
<circle cx="158.3" cy="582.8" r="6.2" fill="none" stroke="#e8420a" stroke-width="0.8"/>
<text x="158.3" y="584.46" font-size="4.6" fill="#fff" text-anchor="middle" font-weight="700" stroke="#fff" stroke-width="0.16" textLength="10.5" lengthAdjust="spacingAndGlyphs" font-style="italic">77%</text>
<text x="53" y="601.9" font-size="3.5" fill="#111" font-weight="700" stroke="#111" stroke-width="0.12" textLength="19.7" lengthAdjust="spacingAndGlyphs">Description</text>
<text x="53" y="607.9" font-size="2.6" fill="#222" textLength="71.7" lengthAdjust="spacingAndGlyphs" stroke="#222" stroke-width="0.07">Lorem Ipsum has been the industry's standard dummy text ev</text>
<circle cx="158.3" cy="604.2" r="4.5" fill="#6a1f6e"/>
<text x="158.3" y="605.03" font-size="2.3" fill="#fff" text-anchor="middle" font-weight="700">10%</text>
<circle cx="246.8" cy="558.2" r="1.3" fill="#f4310f"/>
<text x="250.8" y="559.1" font-size="2.85" fill="#858585" textLength="12.5" lengthAdjust="spacingAndGlyphs">Revenue</text>
<rect x="268.1" y="556.9" width="2.6" height="2.6" fill="#3a1a4a" rx="0.4"/>
<text x="273.4" y="559.1" font-size="2.85" fill="#858585" textLength="7.5" lengthAdjust="spacingAndGlyphs">Profit</text>
<text x="198" y="570.1" font-size="2.95" fill="#858585" text-anchor="end">$16.00</text>
<path d="M201 569.2L278 569.2" stroke="#f4f4f4" stroke-width="0.4" fill="none"/>
<text x="198" y="577.6" font-size="2.95" fill="#858585" text-anchor="end">$12.00</text>
<path d="M201 576.7L278 576.7" stroke="#f4f4f4" stroke-width="0.4" fill="none"/>
<text x="198" y="584.9" font-size="2.95" fill="#858585" text-anchor="end">$8.00</text>
<path d="M201 584L278 584" stroke="#f4f4f4" stroke-width="0.4" fill="none"/>
<text x="198" y="592.1" font-size="2.95" fill="#858585" text-anchor="end">$4.00</text>
<path d="M201 591.2L278 591.2" stroke="#f4f4f4" stroke-width="0.4" fill="none"/>
<text x="198" y="599.2" font-size="2.95" fill="#858585" text-anchor="end">$0.00</text>
<path d="M201 598.3L278 598.3" stroke="#f4f4f4" stroke-width="0.4" fill="none"/>
<polygon points="201,597.8 201,584 208.03,586.5 215.06,572.8 222.09,577.8 229.12,569.5 236.15,579.2 243.18,582.5 250.21,582.8 257.24,589.2 264.27,591.2 271.3,579.5 278.33,577.5 278.33,597.8" fill="#6a1f6e"/>
<polygon points="201,597.8 201,587 208.03,590 215.06,578.3 222.09,581.5 229.12,575.3 236.15,582.8 243.18,585 250.21,587 257.24,590.7 264.27,592 271.3,585 278.33,582.5 278.33,597.8" fill="#fc5606"/>
<text x="201" y="603.4" font-size="2.95" fill="#858585" text-anchor="middle">Jan</text>
<text x="208.03" y="603.4" font-size="2.95" fill="#858585" text-anchor="middle">Feb</text>
<text x="215.06" y="603.4" font-size="2.95" fill="#858585" text-anchor="middle">Mar</text>
<text x="222.09" y="603.4" font-size="2.95" fill="#858585" text-anchor="middle">Apr</text>
<text x="229.12" y="603.4" font-size="2.95" fill="#858585" text-anchor="middle">May</text>
<text x="236.15" y="603.4" font-size="2.95" fill="#858585" text-anchor="middle">Jun</text>
<text x="243.18" y="603.4" font-size="2.95" fill="#858585" text-anchor="middle">Jul</text>
<text x="250.21" y="603.4" font-size="2.95" fill="#858585" text-anchor="middle">Aug</text>
<text x="257.24" y="603.4" font-size="2.95" fill="#858585" text-anchor="middle">Sep</text>
<text x="264.27" y="603.4" font-size="2.95" fill="#858585" text-anchor="middle">Oct</text>
<text x="271.3" y="603.4" font-size="2.95" fill="#858585" text-anchor="middle">Nov</text>
<text x="278.33" y="603.4" font-size="2.95" fill="#858585" text-anchor="middle">Dec</text>
</g>
<clipPath id="cc31"><rect x="315.9" y="464.7" width="269.6" height="152.3"/></clipPath>
<g clip-path="url(#cc31)">
<rect x="334.9" y="469.2" width="72.1" height="41" fill="#fff" rx="3.5" stroke="#f3f3f3" stroke-width="0.6"/>
<circle cx="344.1" cy="477.2" r="3.9" fill="#f4511e"/>
<circle cx="344.1" cy="477.2" r="1.7" fill="none" stroke="#fff" stroke-width="0.4" opacity="0.7"/>
<text x="340.1" y="487.9" font-size="3.5" fill="#111" font-weight="700" stroke="#111" stroke-width="0.12" textLength="19.6" lengthAdjust="spacingAndGlyphs">Description</text>
<text x="340.4" y="497.1" font-size="6" fill="#111" font-weight="700" stroke="#111" stroke-width="0.21" textLength="21.4" lengthAdjust="spacingAndGlyphs">18.984</text>
<path d="M342.4 503L342.4 506" stroke="#f4511e" stroke-width="0.4" fill="none"/>
<text x="345.4" y="505.4" font-size="2.7" fill="#f4511e" font-weight="700" stroke="#f4511e" stroke-width="0.1">+12%</text>
<text x="353.5" y="505.4" font-size="2.5" fill="#aaa" textLength="15.4" lengthAdjust="spacingAndGlyphs" stroke="#aaa" stroke-width="0.07">Lorem Ipsum h</text>
<path d="M390.69 480.61A11.2 11.2 0 0 1 395.9 501.5" fill="none" stroke="#e23a16" stroke-width="2" stroke-linecap="round"/>
<circle cx="390.3" cy="492.4" r="6.7" fill="#000" opacity="0.3" filter="url(#bS)"/>
<circle cx="390.3" cy="491.8" r="6.7" fill="#fff"/>
<text x="390.3" y="492.99" font-size="3.3" fill="#222" text-anchor="middle" font-weight="700" stroke="#222" stroke-width="0.12" textLength="7.6" lengthAdjust="spacingAndGlyphs">42%</text>
<text x="395.9" y="477.5" font-size="2.6" fill="#f4511e" text-anchor="middle" font-weight="700" textLength="8" lengthAdjust="spacingAndGlyphs" stroke="#f4511e" stroke-width="0.1">$25 k</text>
<rect x="413.2" y="469.2" width="73.6" height="41" fill="#fff" rx="3.5" stroke="#f3f3f3" stroke-width="0.6"/>
<circle cx="422.4" cy="477.2" r="3.9" fill="#7a2b80"/>
<circle cx="422.4" cy="477.2" r="1.7" fill="none" stroke="#fff" stroke-width="0.4" opacity="0.7"/>
<text x="418.4" y="487.9" font-size="3.5" fill="#111" font-weight="700" stroke="#111" stroke-width="0.12" textLength="19.6" lengthAdjust="spacingAndGlyphs">Description</text>
<text x="418.7" y="497.1" font-size="6" fill="#111" font-weight="700" stroke="#111" stroke-width="0.21" textLength="21.4" lengthAdjust="spacingAndGlyphs">21.781</text>
<path d="M420.7 503L420.7 506" stroke="#4a2a5a" stroke-width="0.4" fill="none"/>
<text x="423.7" y="505.4" font-size="2.7" fill="#4a2a5a" font-weight="700" stroke="#4a2a5a" stroke-width="0.1">+8%</text>
<text x="431.8" y="505.4" font-size="2.5" fill="#aaa" textLength="15.4" lengthAdjust="spacingAndGlyphs" stroke="#aaa" stroke-width="0.07">Lorem Ipsum h</text>
<path d="M473.36 481.46A11 11 0 0 1 478.27 498.57" fill="none" stroke="#4a1a3a" stroke-width="2" stroke-linecap="round"/>
<circle cx="469.6" cy="492.4" r="6.7" fill="#000" opacity="0.3" filter="url(#bS)"/>
<circle cx="469.6" cy="491.8" r="6.7" fill="#fff"/>
<text x="469.6" y="492.99" font-size="3.3" fill="#222" text-anchor="middle" font-weight="700" stroke="#222" stroke-width="0.12" textLength="7.6" lengthAdjust="spacingAndGlyphs">78%</text>
<text x="475.2" y="477.5" font-size="2.6" fill="#4a1a4a" text-anchor="middle" font-weight="700" textLength="8" lengthAdjust="spacingAndGlyphs" stroke="#4a1a4a" stroke-width="0.1">$27 k</text>
<rect x="492.7" y="469.2" width="73.9" height="41" fill="#fff" rx="3.5" stroke="#f3f3f3" stroke-width="0.6"/>
<circle cx="501.9" cy="477.2" r="3.9" fill="#f6931e"/>
<circle cx="501.9" cy="477.2" r="1.7" fill="none" stroke="#fff" stroke-width="0.4" opacity="0.7"/>
<text x="497.9" y="487.9" font-size="3.5" fill="#111" font-weight="700" stroke="#111" stroke-width="0.12" textLength="19.6" lengthAdjust="spacingAndGlyphs">Description</text>
<text x="498.2" y="497.1" font-size="6" fill="#111" font-weight="700" stroke="#111" stroke-width="0.21" textLength="17.6" lengthAdjust="spacingAndGlyphs">7.426</text>
<path d="M500.2 503L500.2 506" stroke="#f6931e" stroke-width="0.4" fill="none"/>
<text x="503.2" y="505.4" font-size="2.7" fill="#f6931e" font-weight="700" stroke="#f6931e" stroke-width="0.1">+17%</text>
<text x="511.3" y="505.4" font-size="2.5" fill="#aaa" textLength="15.4" lengthAdjust="spacingAndGlyphs" stroke="#aaa" stroke-width="0.07">Lorem Ipsum h</text>
<path d="M548.59 480.51A11.3 11.3 0 0 1 550.93 502.76" fill="none" stroke="#f29a2a" stroke-width="1.7" stroke-linecap="round"/>
<circle cx="548.2" cy="492.4" r="6.7" fill="#000" opacity="0.3" filter="url(#bS)"/>
<circle cx="548.2" cy="491.8" r="6.7" fill="#fff"/>
<text x="548.2" y="492.99" font-size="3.3" fill="#222" text-anchor="middle" font-weight="700" stroke="#222" stroke-width="0.12" textLength="7.6" lengthAdjust="spacingAndGlyphs">29%</text>
<text x="553.8" y="477.5" font-size="2.6" fill="#f6931e" text-anchor="middle" font-weight="700" textLength="8" lengthAdjust="spacingAndGlyphs" stroke="#f6931e" stroke-width="0.1">$ 17k</text>
<text x="337.6" y="526.4" font-size="3.7" fill="#111" font-weight="700" stroke="#111" stroke-width="0.13" textLength="22.9" lengthAdjust="spacingAndGlyphs">Description</text>
<text x="337.6" y="535.8" font-size="6.7" fill="#111" font-weight="700" stroke="#111" stroke-width="0.23" textLength="20.4" lengthAdjust="spacingAndGlyphs">$405k</text>
<circle cx="368.9" cy="534.2" r="4.3" fill="#000" opacity="0.28" filter="url(#bS)"/>
<circle cx="368.9" cy="533.6" r="4.3" fill="#fff"/>
<text x="368.9" y="534.32" font-size="2" fill="#f4a080" text-anchor="middle" font-weight="700">+7%</text>
<text x="337.6" y="543.1" font-size="2.5" fill="#999" textLength="48" lengthAdjust="spacingAndGlyphs" stroke="#999" stroke-width="0.07">Lorem Ipsum has been the industry's stan</text>
<ellipse cx="365.2" cy="581.8" rx="22" ry="21" fill="#000" opacity="0.22" filter="url(#bL)"/>
<path d="M354.86 591.64A16.7 16.7 0 0 1 354.86 563.96" fill="none" stroke="#7a2b80" stroke-width="10" stroke-linecap="butt"/>
<path d="M354.86 563.96A16.7 16.7 0 0 1 364.2 561.1" fill="none" stroke="#f2971f" stroke-width="10" stroke-linecap="butt"/>
<path d="M364.2 559.2A18.6 18.6 0 1 1 353.53 593.04" fill="none" stroke="#fc5606" stroke-width="13.8" stroke-linecap="butt"/>
<circle cx="364.2" cy="577.8" r="11.8" fill="#fff"/>
<text x="364.2" y="580.48" font-size="6.6" fill="#222" text-anchor="middle" font-weight="700" stroke="#222" stroke-width="0.23" textLength="14.8" lengthAdjust="spacingAndGlyphs">58%</text>
<rect x="413.2" y="516" width="153.5" height="94.3" fill="#fc5606" rx="4"/>
<text x="427.7" y="529.4" font-size="7.1" fill="#fff" font-weight="700" stroke="#fff" stroke-width="0.25" textLength="29.8" lengthAdjust="spacingAndGlyphs">+$79 905</text>
<circle cx="476.3" cy="527.5" r="4" fill="#000" opacity="0.3" filter="url(#bS)"/>
<circle cx="476.3" cy="526.9" r="4" fill="#fff"/>
<text x="476.3" y="527.62" font-size="2" fill="#f4511e" text-anchor="middle" font-weight="700">+7%</text>
<text x="427.7" y="536.6" font-size="2.5" fill="#fff" textLength="26.4" lengthAdjust="spacingAndGlyphs" stroke="#fff" stroke-width="0.13">Lorem Ipsum has been t</text>
<text x="493.5" y="536.6" font-size="2.5" fill="#fff" textLength="60.9" lengthAdjust="spacingAndGlyphs" stroke="#fff" stroke-width="0.13">Lorem Ipsum has been the industry's standard dummy </text>
<text x="493.5" y="539.9" font-size="2.5" fill="#fff" textLength="30.4" lengthAdjust="spacingAndGlyphs" stroke="#fff" stroke-width="0.13">Lorem Ipsum has been the </text>
<circle cx="448.7" cy="566.2" r="19.4" fill="#f26a24"/>
<path d="M454.19 586.68A21.2 21.2 0 1 1 459.3 547.84" fill="none" stroke="#fff" stroke-width="1.9" stroke-linecap="butt"/>
<path d="M459.15 548.1A20.9 20.9 0 0 1 454.11 586.39" fill="none" stroke="#7a2b80" stroke-width="2.1" stroke-linecap="butt"/>
<polygon points="454.3,556.3 458.6,551.4 459.4,555.6" fill="#1a1a1a"/>
<circle cx="458.9" cy="549.1" r="2.9" fill="#fff"/>
<text x="463" y="547.5" font-size="2.2" fill="#4a1a4a" font-weight="700">$ 27k</text>
<circle cx="448.7" cy="567.2" r="12.4" fill="#000" opacity="0.3" filter="url(#bL)"/>
<circle cx="448.7" cy="566.2" r="12.4" fill="#fff"/>
<text x="448.7" y="565.36" font-size="4.6" fill="#222" text-anchor="middle" font-weight="700" stroke="#222" stroke-width="0.16" textLength="11.3" lengthAdjust="spacingAndGlyphs">42%</text>
<text x="448.7" y="570.5" font-size="2.5" fill="#f4511e" text-anchor="middle">total</text>
<text x="442" y="592" font-size="2.6" fill="#fff" textLength="18.4" lengthAdjust="spacingAndGlyphs" stroke="#fff" stroke-width="0.13">Lorem Ipsum has</text>
<polyline points="442.3,599.5 443.5,597.8 444.7,599.5" fill="none" stroke="#fff" stroke-width="0.4" stroke-linejoin="round" stroke-linecap="round"/>
<rect x="442.7" y="599.5" width="1.6" height="2.4" fill="none" stroke="#fff" stroke-width="0.4"/>
<text x="447.6" y="601.5" font-size="4.2" fill="#fff" textLength="12.5" lengthAdjust="spacingAndGlyphs" stroke="#fff" stroke-width="0.15">29.4%</text>
<text x="514.6" y="592" font-size="2.6" fill="#fff" textLength="18.4" lengthAdjust="spacingAndGlyphs" stroke="#fff" stroke-width="0.13">Lorem Ipsum has</text>
<polyline points="514.9,599.5 516.1,597.8 517.3,599.5" fill="none" stroke="#fff" stroke-width="0.4" stroke-linejoin="round" stroke-linecap="round"/>
<rect x="515.3" y="599.5" width="1.6" height="2.4" fill="none" stroke="#fff" stroke-width="0.4"/>
<text x="520.2" y="601.5" font-size="4.2" fill="#fff" textLength="12.5" lengthAdjust="spacingAndGlyphs" stroke="#fff" stroke-width="0.15">33.9%</text>
<path d="M489.5 559.5L559.5 559.5" stroke="#ffb08a" stroke-width="0.35" fill="none"/>
<text x="491.7" y="553.5" font-size="2" fill="#fff" text-anchor="middle" opacity="0.8">100</text>
<text x="491.7" y="560.7" font-size="2" fill="#fff" text-anchor="middle" opacity="0.8">80</text>
<text x="491.7" y="568" font-size="2" fill="#fff" text-anchor="middle" opacity="0.8">40</text>
<text x="491.7" y="575.2" font-size="2" fill="#fff" text-anchor="middle" opacity="0.8">0</text>
<path d="M502.5 551.2L502.5 560.3" stroke="#a63a08" stroke-width="1.5" fill="none" stroke-dasharray="0.9 0.7" opacity="0.6"/>
<rect x="500.75" y="560.3" width="3.5" height="15.4" fill="#fff" rx="1.7"/>
<text x="502.5" y="579.1" font-size="2" fill="#fff" text-anchor="middle" opacity="0.85">M</text>
<path d="M510.8 551.2L510.8 555.3" stroke="#a63a08" stroke-width="1.5" fill="none" stroke-dasharray="0.9 0.7" opacity="0.6"/>
<rect x="509.05" y="555.3" width="3.5" height="20.4" fill="#fff" rx="1.7"/>
<text x="510.8" y="579.1" font-size="2" fill="#fff" text-anchor="middle" opacity="0.85">T</text>
<path d="M519.5 551.2L519.5 562" stroke="#a63a08" stroke-width="1.5" fill="none" stroke-dasharray="0.9 0.7" opacity="0.6"/>
<rect x="517.75" y="562" width="3.5" height="13.7" fill="#fff" rx="1.7"/>
<text x="519.5" y="579.1" font-size="2" fill="#fff" text-anchor="middle" opacity="0.85">W</text>
<path d="M527.8 551.2L527.8 558.7" stroke="#a63a08" stroke-width="1.5" fill="none" stroke-dasharray="0.9 0.7" opacity="0.6"/>
<rect x="526.05" y="558.7" width="3.5" height="17" fill="#fff" rx="1.7"/>
<text x="527.8" y="579.1" font-size="2" fill="#fff" text-anchor="middle" opacity="0.85">Th</text>
<path d="M536.5 551.2L536.5 557.5" stroke="#a63a08" stroke-width="1.5" fill="none" stroke-dasharray="0.9 0.7" opacity="0.6"/>
<rect x="534.75" y="557.5" width="3.5" height="18.2" fill="#fff" rx="1.7"/>
<text x="536.5" y="579.1" font-size="2" fill="#fff" text-anchor="middle" opacity="0.85">F</text>
<path d="M544.8 551.2L544.8 562" stroke="#a63a08" stroke-width="1.5" fill="none" stroke-dasharray="0.9 0.7" opacity="0.6"/>
<rect x="543.05" y="562" width="3.5" height="13.7" fill="#fff" rx="1.7"/>
<text x="544.8" y="579.1" font-size="2" fill="#fff" text-anchor="middle" opacity="0.85">Sa</text>
<path d="M553.3 551.2L553.3 563.7" stroke="#a63a08" stroke-width="1.5" fill="none" stroke-dasharray="0.9 0.7" opacity="0.6"/>
<rect x="551.55" y="563.7" width="3.5" height="12" fill="#fff" rx="1.7"/>
<text x="553.3" y="579.1" font-size="2" fill="#fff" text-anchor="middle" opacity="0.85">Su</text>
</g>
<clipPath id="cc32"><rect x="600" y="464.7" width="269.6" height="152.3"/></clipPath>
<g clip-path="url(#cc32)">
<rect x="617.4" y="469.2" width="72.6" height="40.1" fill="#fff" rx="3.5" stroke="#f3f3f3" stroke-width="0.6"/>
<circle cx="627.3" cy="476.7" r="3.9" fill="#f6931e"/>
<circle cx="627.3" cy="476.7" r="1.7" fill="none" stroke="#fff" stroke-width="0.4" opacity="0.7"/>
<text x="623.3" y="487.3" font-size="3.5" fill="#111" font-weight="700" stroke="#111" stroke-width="0.12" textLength="19.6" lengthAdjust="spacingAndGlyphs">Description</text>
<text x="623.3" y="496.3" font-size="6.1" fill="#111" font-weight="700" stroke="#111" stroke-width="0.21" textLength="14.5" lengthAdjust="spacingAndGlyphs">75%</text>
<path d="M625.8 502.2L625.8 505.4" stroke="#f6931e" stroke-width="0.4" fill="none"/>
<text x="628.9" y="504.7" font-size="2.7" fill="#f6931e" font-weight="700" stroke="#f6931e" stroke-width="0.1">+8%</text>
<text x="636.2" y="504.7" font-size="2.5" fill="#aaa" textLength="15.8" lengthAdjust="spacingAndGlyphs" stroke="#aaa" stroke-width="0.07">Lorem Ipsum h</text>
<path d="M673.89 479.71A11.2 11.2 0 0 1 679.1 500.6" fill="none" stroke="#e2341a" stroke-width="2" stroke-linecap="round"/>
<circle cx="673.5" cy="491.6" r="6.7" fill="#000" opacity="0.32" filter="url(#bS)"/>
<circle cx="673.5" cy="490.9" r="6.7" fill="#fff"/>
<text x="673.5" y="492.09" font-size="3.3" fill="#222" text-anchor="middle" font-weight="700" stroke="#222" stroke-width="0.12" textLength="7.6" lengthAdjust="spacingAndGlyphs">62%</text>
<text x="677" y="477.1" font-size="2.6" fill="#f4511e" text-anchor="middle" font-weight="700" textLength="8.2" lengthAdjust="spacingAndGlyphs" stroke="#f4511e" stroke-width="0.1">$38 k</text>
<rect x="617.4" y="513.8" width="72.6" height="42.4" fill="#fff" rx="3.5" stroke="#f3f3f3" stroke-width="0.6"/>
<circle cx="627.3" cy="523.5" r="3.9" fill="#7a2b80"/>
<circle cx="627.3" cy="523.5" r="1.7" fill="none" stroke="#fff" stroke-width="0.4" opacity="0.7"/>
<text x="623.3" y="534.1" font-size="3.5" fill="#111" font-weight="700" stroke="#111" stroke-width="0.12" textLength="19.6" lengthAdjust="spacingAndGlyphs">Description</text>
<text x="623.3" y="543.1" font-size="6.1" fill="#111" font-weight="700" stroke="#111" stroke-width="0.21" textLength="20.7" lengthAdjust="spacingAndGlyphs">$123k</text>
<path d="M625.8 549L625.8 552.2" stroke="#4a2a5a" stroke-width="0.4" fill="none"/>
<text x="628.9" y="551.5" font-size="2.7" fill="#4a2a5a" font-weight="700" stroke="#4a2a5a" stroke-width="0.1">+8%</text>
<text x="636.2" y="551.5" font-size="2.5" fill="#aaa" textLength="15.8" lengthAdjust="spacingAndGlyphs" stroke="#aaa" stroke-width="0.07">Lorem Ipsum h</text>
<path d="M674.65 526.76A11 11 0 0 1 683.84 533.94" fill="none" stroke="#3a1a3a" stroke-width="2" stroke-linecap="round"/>
<circle cx="673.5" cy="538.4" r="6.7" fill="#000" opacity="0.32" filter="url(#bS)"/>
<circle cx="673.5" cy="537.7" r="6.7" fill="#fff"/>
<text x="673.5" y="538.89" font-size="3.3" fill="#222" text-anchor="middle" font-weight="700" stroke="#222" stroke-width="0.12" textLength="7.6" lengthAdjust="spacingAndGlyphs">70%</text>
<text x="677" y="523.9" font-size="2.6" fill="#4a1a4a" text-anchor="middle" font-weight="700" textLength="8.2" lengthAdjust="spacingAndGlyphs" stroke="#4a1a4a" stroke-width="0.1">$27 k</text>
<rect x="617.4" y="561.2" width="72.6" height="40.8" fill="#fff" rx="3.5" stroke="#f3f3f3" stroke-width="0.6"/>
<circle cx="627.3" cy="570.4" r="3.9" fill="#f57c10"/>
<circle cx="627.3" cy="570.4" r="1.7" fill="none" stroke="#fff" stroke-width="0.4" opacity="0.7"/>
<text x="623.3" y="581" font-size="3.5" fill="#111" font-weight="700" stroke="#111" stroke-width="0.12" textLength="19.6" lengthAdjust="spacingAndGlyphs">Description</text>
<text x="623.3" y="590" font-size="6.1" fill="#111" font-weight="700" stroke="#111" stroke-width="0.21" textLength="20" lengthAdjust="spacingAndGlyphs">&gt;1000</text>
<path d="M625.8 595.9L625.8 599.1" stroke="#f29a2a" stroke-width="0.4" fill="none"/>
<text x="628.9" y="598.4" font-size="2.7" fill="#f29a2a" font-weight="700" stroke="#f29a2a" stroke-width="0.1">+8%</text>
<text x="636.2" y="598.4" font-size="2.5" fill="#aaa" textLength="15.8" lengthAdjust="spacingAndGlyphs" stroke="#aaa" stroke-width="0.07">Lorem Ipsum h</text>
<path d="M673.89 573.31A11.3 11.3 0 0 1 673.11 595.89" fill="none" stroke="#f28a1a" stroke-width="1.7" stroke-linecap="round"/>
<circle cx="673.5" cy="585.3" r="6.7" fill="#000" opacity="0.32" filter="url(#bS)"/>
<circle cx="673.5" cy="584.6" r="6.7" fill="#fff"/>
<text x="673.5" y="585.79" font-size="3.3" fill="#222" text-anchor="middle" font-weight="700" stroke="#222" stroke-width="0.12" textLength="7.6" lengthAdjust="spacingAndGlyphs">70%</text>
<text x="677" y="570.8" font-size="2.6" fill="#f29a2a" text-anchor="middle" font-weight="700" textLength="8.2" lengthAdjust="spacingAndGlyphs" stroke="#f29a2a" stroke-width="0.1">$127k</text>
<rect x="619.8" y="607.3" width="30.4" height="5.1" fill="#f4411a" rx="2.6"/>
<text x="635" y="610.91" font-size="2.8" fill="#fff" text-anchor="middle" font-weight="700" stroke="#fff" stroke-width="0.1" textLength="24" lengthAdjust="spacingAndGlyphs">Read your Analytics</text>
<rect x="696.3" y="468" width="153.4" height="88.7" fill="#fc5606" rx="4"/>
<text x="710.5" y="485.6" font-size="7.1" fill="#fff" font-weight="700" stroke="#fff" stroke-width="0.25" textLength="30.1" lengthAdjust="spacingAndGlyphs">+$79 905</text>
<text x="710.5" y="492.6" font-size="2.5" fill="#fff" textLength="26.8" lengthAdjust="spacingAndGlyphs" stroke="#fff" stroke-width="0.13">Lorem Ipsum has been t</text>
<rect x="760.3" y="474.2" width="90.2" height="22.3" fill="#fff"/>
<path d="M760.5 474.2L760.5 496.5" stroke="#8a3a1a" stroke-width="0.5" fill="none"/>
<text x="765.6" y="482.3" font-size="2.9" fill="#222" textLength="79.4" lengthAdjust="spacingAndGlyphs" stroke="#222" stroke-width="0.06">Lorem Ipsum has been the industry's standard dummy</text>
<text x="765.6" y="486.5" font-size="2.9" fill="#222" textLength="77" lengthAdjust="spacingAndGlyphs" stroke="#222" stroke-width="0.06">text ever since the 1500s, when an unknown printer</text>
<text x="765.6" y="490.7" font-size="2.9" fill="#222" textLength="79.4" lengthAdjust="spacingAndGlyphs" stroke="#222" stroke-width="0.06">took a galley of type and scrambled it to make a book.</text>
<circle cx="731.8" cy="521" r="18.7" fill="none" stroke="#ffb591" stroke-width="0.4" opacity="0.7"/>
<path d="M731.8 502.3A18.7 18.7 0 0 1 740.58 537.51" fill="none" stroke="#fff" stroke-width="1.9" stroke-linecap="round" opacity="0.95"/>
<circle cx="731.8" cy="521" r="12.4" fill="#f29a22"/>
<text x="731.8" y="522.44" font-size="4" fill="#fff" text-anchor="middle" font-weight="700" stroke="#fff" stroke-width="0.14" textLength="10" lengthAdjust="spacingAndGlyphs">59%</text>
<text x="731.8" y="548.1" font-size="2.7" fill="#fff" text-anchor="middle" textLength="15.1" lengthAdjust="spacingAndGlyphs" stroke="#fff" stroke-width="0.13">Lorem Ipsum</text>
<circle cx="779.5" cy="521" r="15.2" fill="none" stroke="#ffb591" stroke-width="0.4" opacity="0.7"/>
<path d="M779.5 505.8A15.2 15.2 0 0 1 794.25 517.32" fill="none" stroke="#fff" stroke-width="1.5" stroke-linecap="round" opacity="0.95"/>
<circle cx="779.5" cy="521" r="9.6" fill="#7a2b80"/>
<text x="779.5" y="522.44" font-size="4" fill="#fff" text-anchor="middle" font-weight="700" stroke="#fff" stroke-width="0.14" textLength="10" lengthAdjust="spacingAndGlyphs">29%</text>
<text x="779.5" y="543.1" font-size="2.7" fill="#fff" text-anchor="middle" textLength="15.5" lengthAdjust="spacingAndGlyphs" stroke="#fff" stroke-width="0.13">Lorem Ipsum </text>
<circle cx="824.7" cy="521" r="15.2" fill="none" stroke="#ffb591" stroke-width="0.4" opacity="0.7"/>
<path d="M824.7 505.8A15.2 15.2 0 0 1 836.51 511.43" fill="none" stroke="#fff" stroke-width="1.5" stroke-linecap="round" opacity="0.95"/>
<circle cx="824.7" cy="521" r="9.6" fill="#f7820e"/>
<text x="824.7" y="522.44" font-size="4" fill="#fff" text-anchor="middle" font-weight="700" stroke="#fff" stroke-width="0.14" textLength="10" lengthAdjust="spacingAndGlyphs">10%</text>
<text x="824.7" y="543.1" font-size="2.7" fill="#fff" text-anchor="middle" textLength="15.1" lengthAdjust="spacingAndGlyphs" stroke="#fff" stroke-width="0.13">Lorem Ipsum</text>
<rect x="710.7" y="581.2" width="3.5" height="13" fill="#f4490f"/>
<rect x="715.8" y="581.2" width="3.6" height="13" fill="#6a1f6e"/>
<rect x="720.9" y="584" width="3.6" height="10.2" fill="#f29a22"/>
<text x="717.7" y="599.6" font-size="2.85" fill="#858585" text-anchor="middle">Jan</text>
<rect x="734.3" y="570" width="3.5" height="24.2" fill="#f4490f"/>
<rect x="739.4" y="570" width="3.6" height="24.2" fill="#6a1f6e"/>
<rect x="744.5" y="589.7" width="3.6" height="4.5" fill="#f29a22"/>
<text x="741.3" y="599.6" font-size="2.85" fill="#858585" text-anchor="middle">Feb</text>
<rect x="757.7" y="577" width="3.5" height="17.2" fill="#f4490f"/>
<rect x="762.8" y="577" width="3.6" height="17.2" fill="#6a1f6e"/>
<rect x="767.9" y="590" width="3.6" height="4.2" fill="#f29a22"/>
<text x="764.7" y="599.6" font-size="2.85" fill="#858585" text-anchor="middle">Mar</text>
<rect x="781" y="582" width="3.5" height="12.2" fill="#f4490f"/>
<rect x="786.1" y="582" width="3.6" height="12.2" fill="#6a1f6e"/>
<rect x="791.2" y="580.8" width="3.6" height="13.4" fill="#f29a22"/>
<text x="788" y="599.6" font-size="2.85" fill="#858585" text-anchor="middle">Apr</text>
<rect x="804.3" y="583.2" width="3.5" height="11" fill="#f4490f"/>
<rect x="809.4" y="583.2" width="3.6" height="11" fill="#6a1f6e"/>
<rect x="814.5" y="570" width="3.6" height="24.2" fill="#f29a22"/>
<text x="811.3" y="599.6" font-size="2.85" fill="#858585" text-anchor="middle">May</text>
<rect x="828" y="580" width="3.5" height="14.2" fill="#f4490f"/>
<rect x="833.1" y="580" width="3.6" height="14.2" fill="#6a1f6e"/>
<rect x="838.2" y="577" width="3.6" height="17.2" fill="#f29a22"/>
<text x="835" y="599.6" font-size="2.85" fill="#858585" text-anchor="middle">Jun</text>
<text x="707.3" y="606.3" font-size="2.9" fill="#222" textLength="118.2" lengthAdjust="spacingAndGlyphs" stroke="#222" stroke-width="0.06">Lorem Ipsum has been the industry's standard dummy text ever since the 1500s.</text>
</g>
</svg>
</body></html>
